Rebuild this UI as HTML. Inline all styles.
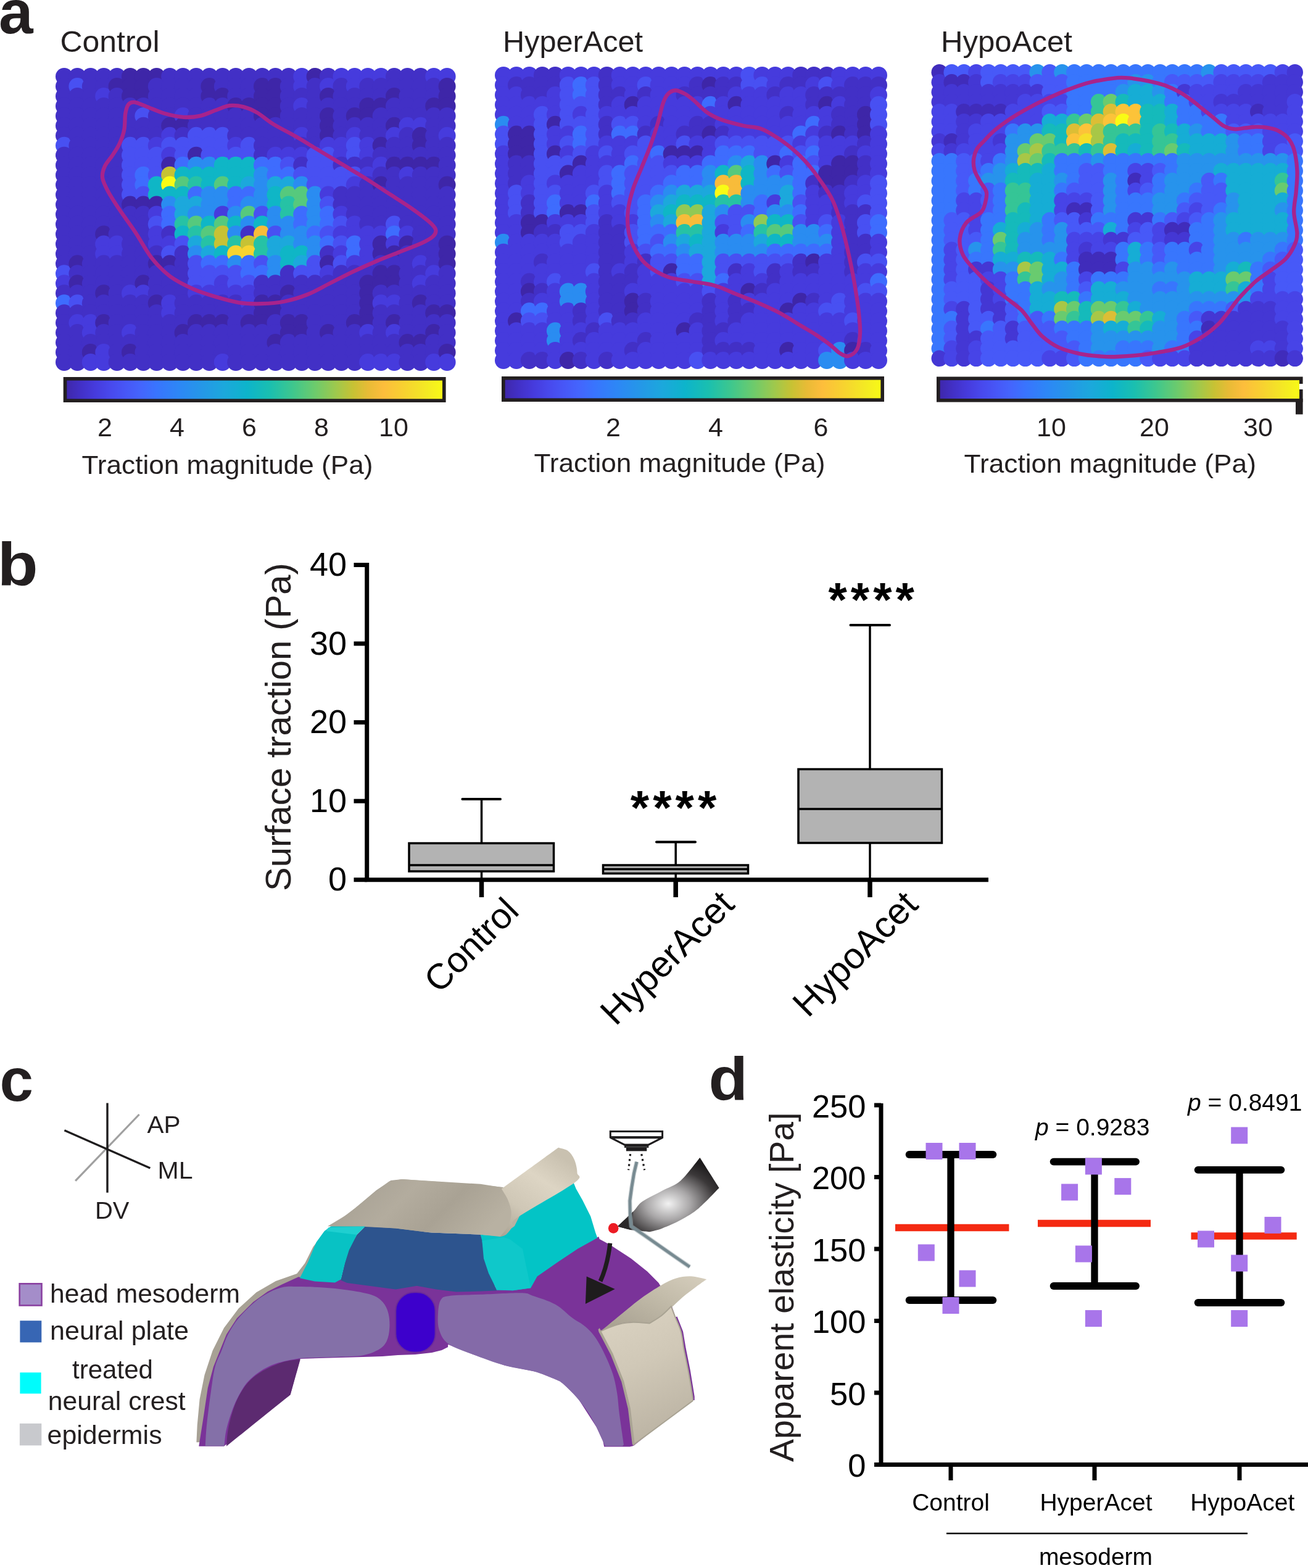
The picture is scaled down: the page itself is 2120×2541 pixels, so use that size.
<!DOCTYPE html>
<html><head><meta charset="utf-8"><title>Figure</title>
<style>
html,body{margin:0;padding:0;background:#fff;}
body{width:2120px;height:2541px;overflow:hidden;}
svg{display:block;}
text{font-family:'Liberation Sans', Arial, Helvetica, sans-serif;}
</style></head><body>
<svg width="2120" height="2541" viewBox="0 0 2120 2541">
<rect width="2120" height="2541" fill="#fff"/>
<text x="-2" y="54" font-size="100" text-anchor="start" font-weight="bold" fill="#231f20" >a</text>
<text x="0" y="0" font-size="98" text-anchor="start" font-weight="bold" fill="#231f20" transform="translate(-4.3,948) scale(1.1,1)">b</text>
<text x="-0.5" y="1783.5" font-size="98" text-anchor="start" font-weight="bold" fill="#231f20" >c</text>
<text x="0" y="0" font-size="98" text-anchor="start" font-weight="bold" fill="#231f20" transform="translate(1148.5,1782.2) scale(1.06,1)">d</text>
<circle cx="104.0" cy="124.0" r="14.0" fill="#4230c6"/>
<circle cx="104.0" cy="140.0" r="14.0" fill="#4230c6"/>
<circle cx="104.0" cy="155.9" r="14.0" fill="#4230c6"/>
<circle cx="104.0" cy="171.9" r="14.0" fill="#4230c6"/>
<circle cx="104.0" cy="187.9" r="14.0" fill="#4230c6"/>
<circle cx="104.0" cy="203.8" r="14.0" fill="#4230c6"/>
<circle cx="104.0" cy="219.8" r="14.0" fill="#4230c6"/>
<circle cx="104.0" cy="235.8" r="14.0" fill="#4850f2"/>
<circle cx="104.0" cy="251.7" r="14.0" fill="#4230c6"/>
<circle cx="104.0" cy="267.7" r="14.0" fill="#4230c6"/>
<circle cx="104.0" cy="283.7" r="14.0" fill="#4230c6"/>
<circle cx="104.0" cy="299.6" r="14.0" fill="#4230c6"/>
<circle cx="104.0" cy="315.6" r="14.0" fill="#4230c6"/>
<circle cx="104.0" cy="331.6" r="14.0" fill="#4230c6"/>
<circle cx="104.0" cy="347.5" r="14.0" fill="#4230c6"/>
<circle cx="104.0" cy="363.5" r="14.0" fill="#4230c6"/>
<circle cx="104.0" cy="379.4" r="14.0" fill="#4230c6"/>
<circle cx="104.0" cy="395.4" r="14.0" fill="#4230c6"/>
<circle cx="104.0" cy="411.4" r="14.0" fill="#4230c6"/>
<circle cx="104.0" cy="427.3" r="14.0" fill="#4230c6"/>
<circle cx="104.0" cy="443.3" r="14.0" fill="#4850f2"/>
<circle cx="104.0" cy="459.3" r="14.0" fill="#463bdd"/>
<circle cx="104.0" cy="475.2" r="14.0" fill="#4230c6"/>
<circle cx="104.0" cy="491.2" r="14.0" fill="#3e6cfe"/>
<circle cx="104.0" cy="507.2" r="14.0" fill="#4230c6"/>
<circle cx="104.0" cy="523.1" r="14.0" fill="#4230c6"/>
<circle cx="104.0" cy="539.1" r="14.0" fill="#4230c6"/>
<circle cx="104.0" cy="555.1" r="14.0" fill="#4230c6"/>
<circle cx="104.0" cy="571.0" r="14.0" fill="#4230c6"/>
<circle cx="104.0" cy="587.0" r="14.0" fill="#4230c6"/>
<circle cx="125.4" cy="124.0" r="14.0" fill="#4230c6"/>
<circle cx="125.4" cy="140.0" r="14.0" fill="#4850f2"/>
<circle cx="125.4" cy="155.9" r="14.0" fill="#4230c6"/>
<circle cx="125.4" cy="171.9" r="14.0" fill="#4230c6"/>
<circle cx="125.4" cy="187.9" r="14.0" fill="#4230c6"/>
<circle cx="125.4" cy="203.8" r="14.0" fill="#4230c6"/>
<circle cx="125.4" cy="219.8" r="14.0" fill="#4230c6"/>
<circle cx="125.4" cy="235.8" r="14.0" fill="#4230c6"/>
<circle cx="125.4" cy="251.7" r="14.0" fill="#4230c6"/>
<circle cx="125.4" cy="267.7" r="14.0" fill="#4230c6"/>
<circle cx="125.4" cy="283.7" r="14.0" fill="#4230c6"/>
<circle cx="125.4" cy="299.6" r="14.0" fill="#4230c6"/>
<circle cx="125.4" cy="315.6" r="14.0" fill="#4230c6"/>
<circle cx="125.4" cy="331.6" r="14.0" fill="#4230c6"/>
<circle cx="125.4" cy="347.5" r="14.0" fill="#4230c6"/>
<circle cx="125.4" cy="363.5" r="14.0" fill="#4230c6"/>
<circle cx="125.4" cy="379.4" r="14.0" fill="#4230c6"/>
<circle cx="125.4" cy="395.4" r="14.0" fill="#4230c6"/>
<circle cx="125.4" cy="411.4" r="14.0" fill="#4230c6"/>
<circle cx="125.4" cy="427.3" r="14.0" fill="#3e26a8"/>
<circle cx="125.4" cy="443.3" r="14.0" fill="#4230c6"/>
<circle cx="125.4" cy="459.3" r="14.0" fill="#3e26a8"/>
<circle cx="125.4" cy="475.2" r="14.0" fill="#4230c6"/>
<circle cx="125.4" cy="491.2" r="14.0" fill="#4850f2"/>
<circle cx="125.4" cy="507.2" r="14.0" fill="#4230c6"/>
<circle cx="125.4" cy="523.1" r="14.0" fill="#463bdd"/>
<circle cx="125.4" cy="539.1" r="14.0" fill="#4230c6"/>
<circle cx="125.4" cy="555.1" r="14.0" fill="#4230c6"/>
<circle cx="125.4" cy="571.0" r="14.0" fill="#4230c6"/>
<circle cx="125.4" cy="587.0" r="14.0" fill="#4230c6"/>
<circle cx="146.8" cy="124.0" r="14.0" fill="#4230c6"/>
<circle cx="146.8" cy="140.0" r="14.0" fill="#4230c6"/>
<circle cx="146.8" cy="155.9" r="14.0" fill="#4230c6"/>
<circle cx="146.8" cy="171.9" r="14.0" fill="#4230c6"/>
<circle cx="146.8" cy="187.9" r="14.0" fill="#4230c6"/>
<circle cx="146.8" cy="203.8" r="14.0" fill="#4230c6"/>
<circle cx="146.8" cy="219.8" r="14.0" fill="#4230c6"/>
<circle cx="146.8" cy="235.8" r="14.0" fill="#4230c6"/>
<circle cx="146.8" cy="251.7" r="14.0" fill="#4230c6"/>
<circle cx="146.8" cy="267.7" r="14.0" fill="#4230c6"/>
<circle cx="146.8" cy="283.7" r="14.0" fill="#4230c6"/>
<circle cx="146.8" cy="299.6" r="14.0" fill="#4230c6"/>
<circle cx="146.8" cy="315.6" r="14.0" fill="#4230c6"/>
<circle cx="146.8" cy="331.6" r="14.0" fill="#4230c6"/>
<circle cx="146.8" cy="347.5" r="14.0" fill="#4230c6"/>
<circle cx="146.8" cy="363.5" r="14.0" fill="#4230c6"/>
<circle cx="146.8" cy="379.4" r="14.0" fill="#4230c6"/>
<circle cx="146.8" cy="395.4" r="14.0" fill="#4230c6"/>
<circle cx="146.8" cy="411.4" r="14.0" fill="#4230c6"/>
<circle cx="146.8" cy="427.3" r="14.0" fill="#4230c6"/>
<circle cx="146.8" cy="443.3" r="14.0" fill="#4230c6"/>
<circle cx="146.8" cy="459.3" r="14.0" fill="#4230c6"/>
<circle cx="146.8" cy="475.2" r="14.0" fill="#4230c6"/>
<circle cx="146.8" cy="491.2" r="14.0" fill="#4230c6"/>
<circle cx="146.8" cy="507.2" r="14.0" fill="#4230c6"/>
<circle cx="146.8" cy="523.1" r="14.0" fill="#463bdd"/>
<circle cx="146.8" cy="539.1" r="14.0" fill="#463bdd"/>
<circle cx="146.8" cy="555.1" r="14.0" fill="#4230c6"/>
<circle cx="146.8" cy="571.0" r="14.0" fill="#3e26a8"/>
<circle cx="146.8" cy="587.0" r="14.0" fill="#463bdd"/>
<circle cx="168.2" cy="124.0" r="14.0" fill="#4230c6"/>
<circle cx="168.2" cy="140.0" r="14.0" fill="#4230c6"/>
<circle cx="168.2" cy="155.9" r="14.0" fill="#463bdd"/>
<circle cx="168.2" cy="171.9" r="14.0" fill="#4230c6"/>
<circle cx="168.2" cy="187.9" r="14.0" fill="#4230c6"/>
<circle cx="168.2" cy="203.8" r="14.0" fill="#4230c6"/>
<circle cx="168.2" cy="219.8" r="14.0" fill="#4230c6"/>
<circle cx="168.2" cy="235.8" r="14.0" fill="#4230c6"/>
<circle cx="168.2" cy="251.7" r="14.0" fill="#4230c6"/>
<circle cx="168.2" cy="267.7" r="14.0" fill="#4230c6"/>
<circle cx="168.2" cy="283.7" r="14.0" fill="#4230c6"/>
<circle cx="168.2" cy="299.6" r="14.0" fill="#4230c6"/>
<circle cx="168.2" cy="315.6" r="14.0" fill="#4230c6"/>
<circle cx="168.2" cy="331.6" r="14.0" fill="#4230c6"/>
<circle cx="168.2" cy="347.5" r="14.0" fill="#4230c6"/>
<circle cx="168.2" cy="363.5" r="14.0" fill="#4230c6"/>
<circle cx="168.2" cy="379.4" r="14.0" fill="#3e26a8"/>
<circle cx="168.2" cy="395.4" r="14.0" fill="#463bdd"/>
<circle cx="168.2" cy="411.4" r="14.0" fill="#463bdd"/>
<circle cx="168.2" cy="427.3" r="14.0" fill="#4230c6"/>
<circle cx="168.2" cy="443.3" r="14.0" fill="#4230c6"/>
<circle cx="168.2" cy="459.3" r="14.0" fill="#4230c6"/>
<circle cx="168.2" cy="475.2" r="14.0" fill="#3e26a8"/>
<circle cx="168.2" cy="491.2" r="14.0" fill="#4230c6"/>
<circle cx="168.2" cy="507.2" r="14.0" fill="#4230c6"/>
<circle cx="168.2" cy="523.1" r="14.0" fill="#3e26a8"/>
<circle cx="168.2" cy="539.1" r="14.0" fill="#4230c6"/>
<circle cx="168.2" cy="555.1" r="14.0" fill="#4230c6"/>
<circle cx="168.2" cy="571.0" r="14.0" fill="#463bdd"/>
<circle cx="168.2" cy="587.0" r="14.0" fill="#463bdd"/>
<circle cx="189.6" cy="124.0" r="14.0" fill="#4230c6"/>
<circle cx="189.6" cy="140.0" r="14.0" fill="#3e26a8"/>
<circle cx="189.6" cy="155.9" r="14.0" fill="#4230c6"/>
<circle cx="189.6" cy="171.9" r="14.0" fill="#4230c6"/>
<circle cx="189.6" cy="187.9" r="14.0" fill="#4230c6"/>
<circle cx="189.6" cy="203.8" r="14.0" fill="#4230c6"/>
<circle cx="189.6" cy="219.8" r="14.0" fill="#4230c6"/>
<circle cx="189.6" cy="235.8" r="14.0" fill="#4230c6"/>
<circle cx="189.6" cy="251.7" r="14.0" fill="#4230c6"/>
<circle cx="189.6" cy="267.7" r="14.0" fill="#4230c6"/>
<circle cx="189.6" cy="283.7" r="14.0" fill="#4230c6"/>
<circle cx="189.6" cy="299.6" r="14.0" fill="#4230c6"/>
<circle cx="189.6" cy="315.6" r="14.0" fill="#4230c6"/>
<circle cx="189.6" cy="331.6" r="14.0" fill="#4230c6"/>
<circle cx="189.6" cy="347.5" r="14.0" fill="#4230c6"/>
<circle cx="189.6" cy="363.5" r="14.0" fill="#4230c6"/>
<circle cx="189.6" cy="379.4" r="14.0" fill="#4230c6"/>
<circle cx="189.6" cy="395.4" r="14.0" fill="#463bdd"/>
<circle cx="189.6" cy="411.4" r="14.0" fill="#463bdd"/>
<circle cx="189.6" cy="427.3" r="14.0" fill="#4230c6"/>
<circle cx="189.6" cy="443.3" r="14.0" fill="#4230c6"/>
<circle cx="189.6" cy="459.3" r="14.0" fill="#4230c6"/>
<circle cx="189.6" cy="475.2" r="14.0" fill="#4230c6"/>
<circle cx="189.6" cy="491.2" r="14.0" fill="#4230c6"/>
<circle cx="189.6" cy="507.2" r="14.0" fill="#4230c6"/>
<circle cx="189.6" cy="523.1" r="14.0" fill="#4230c6"/>
<circle cx="189.6" cy="539.1" r="14.0" fill="#4230c6"/>
<circle cx="189.6" cy="555.1" r="14.0" fill="#4230c6"/>
<circle cx="189.6" cy="571.0" r="14.0" fill="#4230c6"/>
<circle cx="189.6" cy="587.0" r="14.0" fill="#4230c6"/>
<circle cx="211.0" cy="124.0" r="14.0" fill="#3e26a8"/>
<circle cx="211.0" cy="140.0" r="14.0" fill="#3e26a8"/>
<circle cx="211.0" cy="155.9" r="14.0" fill="#3e26a8"/>
<circle cx="211.0" cy="171.9" r="14.0" fill="#4230c6"/>
<circle cx="211.0" cy="187.9" r="14.0" fill="#4230c6"/>
<circle cx="211.0" cy="203.8" r="14.0" fill="#4230c6"/>
<circle cx="211.0" cy="219.8" r="14.0" fill="#4230c6"/>
<circle cx="211.0" cy="235.8" r="14.0" fill="#4850f2"/>
<circle cx="211.0" cy="251.7" r="14.0" fill="#4850f2"/>
<circle cx="211.0" cy="267.7" r="14.0" fill="#4850f2"/>
<circle cx="211.0" cy="283.7" r="14.0" fill="#4850f2"/>
<circle cx="211.0" cy="299.6" r="14.0" fill="#4850f2"/>
<circle cx="211.0" cy="315.6" r="14.0" fill="#4850f2"/>
<circle cx="211.0" cy="331.6" r="14.0" fill="#3e26a8"/>
<circle cx="211.0" cy="347.5" r="14.0" fill="#4230c6"/>
<circle cx="211.0" cy="363.5" r="14.0" fill="#4230c6"/>
<circle cx="211.0" cy="379.4" r="14.0" fill="#4230c6"/>
<circle cx="211.0" cy="395.4" r="14.0" fill="#4230c6"/>
<circle cx="211.0" cy="411.4" r="14.0" fill="#4230c6"/>
<circle cx="211.0" cy="427.3" r="14.0" fill="#4230c6"/>
<circle cx="211.0" cy="443.3" r="14.0" fill="#4230c6"/>
<circle cx="211.0" cy="459.3" r="14.0" fill="#4230c6"/>
<circle cx="211.0" cy="475.2" r="14.0" fill="#463bdd"/>
<circle cx="211.0" cy="491.2" r="14.0" fill="#4230c6"/>
<circle cx="211.0" cy="507.2" r="14.0" fill="#4230c6"/>
<circle cx="211.0" cy="523.1" r="14.0" fill="#4230c6"/>
<circle cx="211.0" cy="539.1" r="14.0" fill="#463bdd"/>
<circle cx="211.0" cy="555.1" r="14.0" fill="#4230c6"/>
<circle cx="211.0" cy="571.0" r="14.0" fill="#3e26a8"/>
<circle cx="211.0" cy="587.0" r="14.0" fill="#4230c6"/>
<circle cx="232.4" cy="124.0" r="14.0" fill="#3e26a8"/>
<circle cx="232.4" cy="140.0" r="14.0" fill="#3e26a8"/>
<circle cx="232.4" cy="155.9" r="14.0" fill="#3e26a8"/>
<circle cx="232.4" cy="171.9" r="14.0" fill="#4230c6"/>
<circle cx="232.4" cy="187.9" r="14.0" fill="#4850f2"/>
<circle cx="232.4" cy="203.8" r="14.0" fill="#4230c6"/>
<circle cx="232.4" cy="219.8" r="14.0" fill="#4230c6"/>
<circle cx="232.4" cy="235.8" r="14.0" fill="#4850f2"/>
<circle cx="232.4" cy="251.7" r="14.0" fill="#4850f2"/>
<circle cx="232.4" cy="267.7" r="14.0" fill="#4850f2"/>
<circle cx="232.4" cy="283.7" r="14.0" fill="#3e6cfe"/>
<circle cx="232.4" cy="299.6" r="14.0" fill="#3e6cfe"/>
<circle cx="232.4" cy="315.6" r="14.0" fill="#4850f2"/>
<circle cx="232.4" cy="331.6" r="14.0" fill="#3e26a8"/>
<circle cx="232.4" cy="347.5" r="14.0" fill="#4230c6"/>
<circle cx="232.4" cy="363.5" r="14.0" fill="#4230c6"/>
<circle cx="232.4" cy="379.4" r="14.0" fill="#4230c6"/>
<circle cx="232.4" cy="395.4" r="14.0" fill="#4230c6"/>
<circle cx="232.4" cy="411.4" r="14.0" fill="#4230c6"/>
<circle cx="232.4" cy="427.3" r="14.0" fill="#4230c6"/>
<circle cx="232.4" cy="443.3" r="14.0" fill="#4230c6"/>
<circle cx="232.4" cy="459.3" r="14.0" fill="#3e26a8"/>
<circle cx="232.4" cy="475.2" r="14.0" fill="#463bdd"/>
<circle cx="232.4" cy="491.2" r="14.0" fill="#4230c6"/>
<circle cx="232.4" cy="507.2" r="14.0" fill="#4230c6"/>
<circle cx="232.4" cy="523.1" r="14.0" fill="#4230c6"/>
<circle cx="232.4" cy="539.1" r="14.0" fill="#4230c6"/>
<circle cx="232.4" cy="555.1" r="14.0" fill="#4230c6"/>
<circle cx="232.4" cy="571.0" r="14.0" fill="#4230c6"/>
<circle cx="232.4" cy="587.0" r="14.0" fill="#4230c6"/>
<circle cx="253.8" cy="124.0" r="14.0" fill="#3e26a8"/>
<circle cx="253.8" cy="140.0" r="14.0" fill="#4230c6"/>
<circle cx="253.8" cy="155.9" r="14.0" fill="#4230c6"/>
<circle cx="253.8" cy="171.9" r="14.0" fill="#4230c6"/>
<circle cx="253.8" cy="187.9" r="14.0" fill="#4230c6"/>
<circle cx="253.8" cy="203.8" r="14.0" fill="#4230c6"/>
<circle cx="253.8" cy="219.8" r="14.0" fill="#4230c6"/>
<circle cx="253.8" cy="235.8" r="14.0" fill="#463bdd"/>
<circle cx="253.8" cy="251.7" r="14.0" fill="#4850f2"/>
<circle cx="253.8" cy="267.7" r="14.0" fill="#4850f2"/>
<circle cx="253.8" cy="283.7" r="14.0" fill="#4850f2"/>
<circle cx="253.8" cy="299.6" r="14.0" fill="#0fb6c6"/>
<circle cx="253.8" cy="315.6" r="14.0" fill="#0fb6c6"/>
<circle cx="253.8" cy="331.6" r="14.0" fill="#3e26a8"/>
<circle cx="253.8" cy="347.5" r="14.0" fill="#463bdd"/>
<circle cx="253.8" cy="363.5" r="14.0" fill="#4850f2"/>
<circle cx="253.8" cy="379.4" r="14.0" fill="#463bdd"/>
<circle cx="253.8" cy="395.4" r="14.0" fill="#463bdd"/>
<circle cx="253.8" cy="411.4" r="14.0" fill="#4230c6"/>
<circle cx="253.8" cy="427.3" r="14.0" fill="#3e26a8"/>
<circle cx="253.8" cy="443.3" r="14.0" fill="#4230c6"/>
<circle cx="253.8" cy="459.3" r="14.0" fill="#4230c6"/>
<circle cx="253.8" cy="475.2" r="14.0" fill="#4230c6"/>
<circle cx="253.8" cy="491.2" r="14.0" fill="#3e26a8"/>
<circle cx="253.8" cy="507.2" r="14.0" fill="#4230c6"/>
<circle cx="253.8" cy="523.1" r="14.0" fill="#4230c6"/>
<circle cx="253.8" cy="539.1" r="14.0" fill="#4230c6"/>
<circle cx="253.8" cy="555.1" r="14.0" fill="#4230c6"/>
<circle cx="253.8" cy="571.0" r="14.0" fill="#4230c6"/>
<circle cx="253.8" cy="587.0" r="14.0" fill="#4230c6"/>
<circle cx="275.2" cy="124.0" r="14.0" fill="#4230c6"/>
<circle cx="275.2" cy="140.0" r="14.0" fill="#4230c6"/>
<circle cx="275.2" cy="155.9" r="14.0" fill="#4230c6"/>
<circle cx="275.2" cy="171.9" r="14.0" fill="#4230c6"/>
<circle cx="275.2" cy="187.9" r="14.0" fill="#4230c6"/>
<circle cx="275.2" cy="203.8" r="14.0" fill="#3e26a8"/>
<circle cx="275.2" cy="219.8" r="14.0" fill="#463bdd"/>
<circle cx="275.2" cy="235.8" r="14.0" fill="#4850f2"/>
<circle cx="275.2" cy="251.7" r="14.0" fill="#463bdd"/>
<circle cx="275.2" cy="267.7" r="14.0" fill="#3e26a8"/>
<circle cx="275.2" cy="283.7" r="14.0" fill="#c7c234"/>
<circle cx="275.2" cy="299.6" r="14.0" fill="#f9fb15"/>
<circle cx="275.2" cy="315.6" r="14.0" fill="#0fb6c6"/>
<circle cx="275.2" cy="331.6" r="14.0" fill="#2a8cf1"/>
<circle cx="275.2" cy="347.5" r="14.0" fill="#3e6cfe"/>
<circle cx="275.2" cy="363.5" r="14.0" fill="#3e6cfe"/>
<circle cx="275.2" cy="379.4" r="14.0" fill="#4230c6"/>
<circle cx="275.2" cy="395.4" r="14.0" fill="#463bdd"/>
<circle cx="275.2" cy="411.4" r="14.0" fill="#4850f2"/>
<circle cx="275.2" cy="427.3" r="14.0" fill="#3e26a8"/>
<circle cx="275.2" cy="443.3" r="14.0" fill="#4230c6"/>
<circle cx="275.2" cy="459.3" r="14.0" fill="#4230c6"/>
<circle cx="275.2" cy="475.2" r="14.0" fill="#4230c6"/>
<circle cx="275.2" cy="491.2" r="14.0" fill="#463bdd"/>
<circle cx="275.2" cy="507.2" r="14.0" fill="#463bdd"/>
<circle cx="275.2" cy="523.1" r="14.0" fill="#4230c6"/>
<circle cx="275.2" cy="539.1" r="14.0" fill="#4230c6"/>
<circle cx="275.2" cy="555.1" r="14.0" fill="#4230c6"/>
<circle cx="275.2" cy="571.0" r="14.0" fill="#4230c6"/>
<circle cx="275.2" cy="587.0" r="14.0" fill="#4230c6"/>
<circle cx="296.6" cy="124.0" r="14.0" fill="#4230c6"/>
<circle cx="296.6" cy="140.0" r="14.0" fill="#4230c6"/>
<circle cx="296.6" cy="155.9" r="14.0" fill="#4230c6"/>
<circle cx="296.6" cy="171.9" r="14.0" fill="#4230c6"/>
<circle cx="296.6" cy="187.9" r="14.0" fill="#463bdd"/>
<circle cx="296.6" cy="203.8" r="14.0" fill="#3e26a8"/>
<circle cx="296.6" cy="219.8" r="14.0" fill="#4230c6"/>
<circle cx="296.6" cy="235.8" r="14.0" fill="#4850f2"/>
<circle cx="296.6" cy="251.7" r="14.0" fill="#4850f2"/>
<circle cx="296.6" cy="267.7" r="14.0" fill="#3e6cfe"/>
<circle cx="296.6" cy="283.7" r="14.0" fill="#0fb6c6"/>
<circle cx="296.6" cy="299.6" r="14.0" fill="#56c97d"/>
<circle cx="296.6" cy="315.6" r="14.0" fill="#0fb6c6"/>
<circle cx="296.6" cy="331.6" r="14.0" fill="#1ca8dc"/>
<circle cx="296.6" cy="347.5" r="14.0" fill="#1ca8dc"/>
<circle cx="296.6" cy="363.5" r="14.0" fill="#26c2a5"/>
<circle cx="296.6" cy="379.4" r="14.0" fill="#0fb6c6"/>
<circle cx="296.6" cy="395.4" r="14.0" fill="#4850f2"/>
<circle cx="296.6" cy="411.4" r="14.0" fill="#4230c6"/>
<circle cx="296.6" cy="427.3" r="14.0" fill="#4230c6"/>
<circle cx="296.6" cy="443.3" r="14.0" fill="#4230c6"/>
<circle cx="296.6" cy="459.3" r="14.0" fill="#4230c6"/>
<circle cx="296.6" cy="475.2" r="14.0" fill="#4230c6"/>
<circle cx="296.6" cy="491.2" r="14.0" fill="#4230c6"/>
<circle cx="296.6" cy="507.2" r="14.0" fill="#4230c6"/>
<circle cx="296.6" cy="523.1" r="14.0" fill="#4230c6"/>
<circle cx="296.6" cy="539.1" r="14.0" fill="#3e26a8"/>
<circle cx="296.6" cy="555.1" r="14.0" fill="#4230c6"/>
<circle cx="296.6" cy="571.0" r="14.0" fill="#4230c6"/>
<circle cx="296.6" cy="587.0" r="14.0" fill="#4230c6"/>
<circle cx="318.0" cy="124.0" r="14.0" fill="#4230c6"/>
<circle cx="318.0" cy="140.0" r="14.0" fill="#4230c6"/>
<circle cx="318.0" cy="155.9" r="14.0" fill="#4230c6"/>
<circle cx="318.0" cy="171.9" r="14.0" fill="#4230c6"/>
<circle cx="318.0" cy="187.9" r="14.0" fill="#4230c6"/>
<circle cx="318.0" cy="203.8" r="14.0" fill="#4230c6"/>
<circle cx="318.0" cy="219.8" r="14.0" fill="#4850f2"/>
<circle cx="318.0" cy="235.8" r="14.0" fill="#4850f2"/>
<circle cx="318.0" cy="251.7" r="14.0" fill="#3e26a8"/>
<circle cx="318.0" cy="267.7" r="14.0" fill="#2a8cf1"/>
<circle cx="318.0" cy="283.7" r="14.0" fill="#0fb6c6"/>
<circle cx="318.0" cy="299.6" r="14.0" fill="#26c2a5"/>
<circle cx="318.0" cy="315.6" r="14.0" fill="#3e6cfe"/>
<circle cx="318.0" cy="331.6" r="14.0" fill="#1ca8dc"/>
<circle cx="318.0" cy="347.5" r="14.0" fill="#2a8cf1"/>
<circle cx="318.0" cy="363.5" r="14.0" fill="#56c97d"/>
<circle cx="318.0" cy="379.4" r="14.0" fill="#26c2a5"/>
<circle cx="318.0" cy="395.4" r="14.0" fill="#1ca8dc"/>
<circle cx="318.0" cy="411.4" r="14.0" fill="#2a8cf1"/>
<circle cx="318.0" cy="427.3" r="14.0" fill="#4850f2"/>
<circle cx="318.0" cy="443.3" r="14.0" fill="#4850f2"/>
<circle cx="318.0" cy="459.3" r="14.0" fill="#4850f2"/>
<circle cx="318.0" cy="475.2" r="14.0" fill="#463bdd"/>
<circle cx="318.0" cy="491.2" r="14.0" fill="#4230c6"/>
<circle cx="318.0" cy="507.2" r="14.0" fill="#4230c6"/>
<circle cx="318.0" cy="523.1" r="14.0" fill="#3e26a8"/>
<circle cx="318.0" cy="539.1" r="14.0" fill="#4230c6"/>
<circle cx="318.0" cy="555.1" r="14.0" fill="#4230c6"/>
<circle cx="318.0" cy="571.0" r="14.0" fill="#4230c6"/>
<circle cx="318.0" cy="587.0" r="14.0" fill="#4230c6"/>
<circle cx="339.4" cy="124.0" r="14.0" fill="#4230c6"/>
<circle cx="339.4" cy="140.0" r="14.0" fill="#3e26a8"/>
<circle cx="339.4" cy="155.9" r="14.0" fill="#3e26a8"/>
<circle cx="339.4" cy="171.9" r="14.0" fill="#4230c6"/>
<circle cx="339.4" cy="187.9" r="14.0" fill="#4230c6"/>
<circle cx="339.4" cy="203.8" r="14.0" fill="#4230c6"/>
<circle cx="339.4" cy="219.8" r="14.0" fill="#4850f2"/>
<circle cx="339.4" cy="235.8" r="14.0" fill="#4850f2"/>
<circle cx="339.4" cy="251.7" r="14.0" fill="#4850f2"/>
<circle cx="339.4" cy="267.7" r="14.0" fill="#2a8cf1"/>
<circle cx="339.4" cy="283.7" r="14.0" fill="#0fb6c6"/>
<circle cx="339.4" cy="299.6" r="14.0" fill="#0fb6c6"/>
<circle cx="339.4" cy="315.6" r="14.0" fill="#2a8cf1"/>
<circle cx="339.4" cy="331.6" r="14.0" fill="#2a8cf1"/>
<circle cx="339.4" cy="347.5" r="14.0" fill="#2a8cf1"/>
<circle cx="339.4" cy="363.5" r="14.0" fill="#0fb6c6"/>
<circle cx="339.4" cy="379.4" r="14.0" fill="#56c97d"/>
<circle cx="339.4" cy="395.4" r="14.0" fill="#26c2a5"/>
<circle cx="339.4" cy="411.4" r="14.0" fill="#1ca8dc"/>
<circle cx="339.4" cy="427.3" r="14.0" fill="#3e6cfe"/>
<circle cx="339.4" cy="443.3" r="14.0" fill="#4850f2"/>
<circle cx="339.4" cy="459.3" r="14.0" fill="#4850f2"/>
<circle cx="339.4" cy="475.2" r="14.0" fill="#463bdd"/>
<circle cx="339.4" cy="491.2" r="14.0" fill="#4230c6"/>
<circle cx="339.4" cy="507.2" r="14.0" fill="#4230c6"/>
<circle cx="339.4" cy="523.1" r="14.0" fill="#3e26a8"/>
<circle cx="339.4" cy="539.1" r="14.0" fill="#4230c6"/>
<circle cx="339.4" cy="555.1" r="14.0" fill="#4230c6"/>
<circle cx="339.4" cy="571.0" r="14.0" fill="#4230c6"/>
<circle cx="339.4" cy="587.0" r="14.0" fill="#4230c6"/>
<circle cx="360.8" cy="124.0" r="14.0" fill="#4230c6"/>
<circle cx="360.8" cy="140.0" r="14.0" fill="#4230c6"/>
<circle cx="360.8" cy="155.9" r="14.0" fill="#3e26a8"/>
<circle cx="360.8" cy="171.9" r="14.0" fill="#4230c6"/>
<circle cx="360.8" cy="187.9" r="14.0" fill="#4230c6"/>
<circle cx="360.8" cy="203.8" r="14.0" fill="#4230c6"/>
<circle cx="360.8" cy="219.8" r="14.0" fill="#4850f2"/>
<circle cx="360.8" cy="235.8" r="14.0" fill="#4850f2"/>
<circle cx="360.8" cy="251.7" r="14.0" fill="#4850f2"/>
<circle cx="360.8" cy="267.7" r="14.0" fill="#0fb6c6"/>
<circle cx="360.8" cy="283.7" r="14.0" fill="#0fb6c6"/>
<circle cx="360.8" cy="299.6" r="14.0" fill="#56c97d"/>
<circle cx="360.8" cy="315.6" r="14.0" fill="#2a8cf1"/>
<circle cx="360.8" cy="331.6" r="14.0" fill="#2a8cf1"/>
<circle cx="360.8" cy="347.5" r="14.0" fill="#463bdd"/>
<circle cx="360.8" cy="363.5" r="14.0" fill="#56c97d"/>
<circle cx="360.8" cy="379.4" r="14.0" fill="#c7c234"/>
<circle cx="360.8" cy="395.4" r="14.0" fill="#c7c234"/>
<circle cx="360.8" cy="411.4" r="14.0" fill="#0fb6c6"/>
<circle cx="360.8" cy="427.3" r="14.0" fill="#3e6cfe"/>
<circle cx="360.8" cy="443.3" r="14.0" fill="#4850f2"/>
<circle cx="360.8" cy="459.3" r="14.0" fill="#463bdd"/>
<circle cx="360.8" cy="475.2" r="14.0" fill="#463bdd"/>
<circle cx="360.8" cy="491.2" r="14.0" fill="#4230c6"/>
<circle cx="360.8" cy="507.2" r="14.0" fill="#4230c6"/>
<circle cx="360.8" cy="523.1" r="14.0" fill="#3e26a8"/>
<circle cx="360.8" cy="539.1" r="14.0" fill="#4230c6"/>
<circle cx="360.8" cy="555.1" r="14.0" fill="#4230c6"/>
<circle cx="360.8" cy="571.0" r="14.0" fill="#4230c6"/>
<circle cx="360.8" cy="587.0" r="14.0" fill="#463bdd"/>
<circle cx="382.2" cy="124.0" r="14.0" fill="#4230c6"/>
<circle cx="382.2" cy="140.0" r="14.0" fill="#4230c6"/>
<circle cx="382.2" cy="155.9" r="14.0" fill="#4230c6"/>
<circle cx="382.2" cy="171.9" r="14.0" fill="#3e26a8"/>
<circle cx="382.2" cy="187.9" r="14.0" fill="#4230c6"/>
<circle cx="382.2" cy="203.8" r="14.0" fill="#4230c6"/>
<circle cx="382.2" cy="219.8" r="14.0" fill="#4230c6"/>
<circle cx="382.2" cy="235.8" r="14.0" fill="#463bdd"/>
<circle cx="382.2" cy="251.7" r="14.0" fill="#4850f2"/>
<circle cx="382.2" cy="267.7" r="14.0" fill="#0fb6c6"/>
<circle cx="382.2" cy="283.7" r="14.0" fill="#0fb6c6"/>
<circle cx="382.2" cy="299.6" r="14.0" fill="#0fb6c6"/>
<circle cx="382.2" cy="315.6" r="14.0" fill="#3e6cfe"/>
<circle cx="382.2" cy="331.6" r="14.0" fill="#3e6cfe"/>
<circle cx="382.2" cy="347.5" r="14.0" fill="#2a8cf1"/>
<circle cx="382.2" cy="363.5" r="14.0" fill="#0fb6c6"/>
<circle cx="382.2" cy="379.4" r="14.0" fill="#2a8cf1"/>
<circle cx="382.2" cy="395.4" r="14.0" fill="#26c2a5"/>
<circle cx="382.2" cy="411.4" r="14.0" fill="#f7d42f"/>
<circle cx="382.2" cy="427.3" r="14.0" fill="#2a8cf1"/>
<circle cx="382.2" cy="443.3" r="14.0" fill="#4850f2"/>
<circle cx="382.2" cy="459.3" r="14.0" fill="#4850f2"/>
<circle cx="382.2" cy="475.2" r="14.0" fill="#463bdd"/>
<circle cx="382.2" cy="491.2" r="14.0" fill="#4230c6"/>
<circle cx="382.2" cy="507.2" r="14.0" fill="#4230c6"/>
<circle cx="382.2" cy="523.1" r="14.0" fill="#4230c6"/>
<circle cx="382.2" cy="539.1" r="14.0" fill="#4230c6"/>
<circle cx="382.2" cy="555.1" r="14.0" fill="#4230c6"/>
<circle cx="382.2" cy="571.0" r="14.0" fill="#4230c6"/>
<circle cx="382.2" cy="587.0" r="14.0" fill="#4230c6"/>
<circle cx="403.6" cy="124.0" r="14.0" fill="#4230c6"/>
<circle cx="403.6" cy="140.0" r="14.0" fill="#4230c6"/>
<circle cx="403.6" cy="155.9" r="14.0" fill="#4230c6"/>
<circle cx="403.6" cy="171.9" r="14.0" fill="#3e26a8"/>
<circle cx="403.6" cy="187.9" r="14.0" fill="#4230c6"/>
<circle cx="403.6" cy="203.8" r="14.0" fill="#4230c6"/>
<circle cx="403.6" cy="219.8" r="14.0" fill="#4230c6"/>
<circle cx="403.6" cy="235.8" r="14.0" fill="#4850f2"/>
<circle cx="403.6" cy="251.7" r="14.0" fill="#4850f2"/>
<circle cx="403.6" cy="267.7" r="14.0" fill="#0fb6c6"/>
<circle cx="403.6" cy="283.7" r="14.0" fill="#0fb6c6"/>
<circle cx="403.6" cy="299.6" r="14.0" fill="#1ca8dc"/>
<circle cx="403.6" cy="315.6" r="14.0" fill="#3e6cfe"/>
<circle cx="403.6" cy="331.6" r="14.0" fill="#2a8cf1"/>
<circle cx="403.6" cy="347.5" r="14.0" fill="#56c97d"/>
<circle cx="403.6" cy="363.5" r="14.0" fill="#2a8cf1"/>
<circle cx="403.6" cy="379.4" r="14.0" fill="#4230c6"/>
<circle cx="403.6" cy="395.4" r="14.0" fill="#c7c234"/>
<circle cx="403.6" cy="411.4" r="14.0" fill="#f7d42f"/>
<circle cx="403.6" cy="427.3" r="14.0" fill="#3e6cfe"/>
<circle cx="403.6" cy="443.3" r="14.0" fill="#3e6cfe"/>
<circle cx="403.6" cy="459.3" r="14.0" fill="#4850f2"/>
<circle cx="403.6" cy="475.2" r="14.0" fill="#463bdd"/>
<circle cx="403.6" cy="491.2" r="14.0" fill="#463bdd"/>
<circle cx="403.6" cy="507.2" r="14.0" fill="#4230c6"/>
<circle cx="403.6" cy="523.1" r="14.0" fill="#3e26a8"/>
<circle cx="403.6" cy="539.1" r="14.0" fill="#4230c6"/>
<circle cx="403.6" cy="555.1" r="14.0" fill="#4230c6"/>
<circle cx="403.6" cy="571.0" r="14.0" fill="#4230c6"/>
<circle cx="403.6" cy="587.0" r="14.0" fill="#4230c6"/>
<circle cx="425.0" cy="124.0" r="14.0" fill="#4230c6"/>
<circle cx="425.0" cy="140.0" r="14.0" fill="#3e26a8"/>
<circle cx="425.0" cy="155.9" r="14.0" fill="#3e26a8"/>
<circle cx="425.0" cy="171.9" r="14.0" fill="#3e26a8"/>
<circle cx="425.0" cy="187.9" r="14.0" fill="#3e26a8"/>
<circle cx="425.0" cy="203.8" r="14.0" fill="#4230c6"/>
<circle cx="425.0" cy="219.8" r="14.0" fill="#4230c6"/>
<circle cx="425.0" cy="235.8" r="14.0" fill="#4230c6"/>
<circle cx="425.0" cy="251.7" r="14.0" fill="#4230c6"/>
<circle cx="425.0" cy="267.7" r="14.0" fill="#3e6cfe"/>
<circle cx="425.0" cy="283.7" r="14.0" fill="#2a8cf1"/>
<circle cx="425.0" cy="299.6" r="14.0" fill="#2a8cf1"/>
<circle cx="425.0" cy="315.6" r="14.0" fill="#2a8cf1"/>
<circle cx="425.0" cy="331.6" r="14.0" fill="#2a8cf1"/>
<circle cx="425.0" cy="347.5" r="14.0" fill="#4850f2"/>
<circle cx="425.0" cy="363.5" r="14.0" fill="#0fb6c6"/>
<circle cx="425.0" cy="379.4" r="14.0" fill="#f8bc3a"/>
<circle cx="425.0" cy="395.4" r="14.0" fill="#26c2a5"/>
<circle cx="425.0" cy="411.4" r="14.0" fill="#26c2a5"/>
<circle cx="425.0" cy="427.3" r="14.0" fill="#4850f2"/>
<circle cx="425.0" cy="443.3" r="14.0" fill="#3e6cfe"/>
<circle cx="425.0" cy="459.3" r="14.0" fill="#4230c6"/>
<circle cx="425.0" cy="475.2" r="14.0" fill="#4230c6"/>
<circle cx="425.0" cy="491.2" r="14.0" fill="#3e26a8"/>
<circle cx="425.0" cy="507.2" r="14.0" fill="#3e26a8"/>
<circle cx="425.0" cy="523.1" r="14.0" fill="#3e26a8"/>
<circle cx="425.0" cy="539.1" r="14.0" fill="#4230c6"/>
<circle cx="425.0" cy="555.1" r="14.0" fill="#4230c6"/>
<circle cx="425.0" cy="571.0" r="14.0" fill="#4230c6"/>
<circle cx="425.0" cy="587.0" r="14.0" fill="#4230c6"/>
<circle cx="446.4" cy="124.0" r="14.0" fill="#4230c6"/>
<circle cx="446.4" cy="140.0" r="14.0" fill="#3e26a8"/>
<circle cx="446.4" cy="155.9" r="14.0" fill="#3e26a8"/>
<circle cx="446.4" cy="171.9" r="14.0" fill="#3e26a8"/>
<circle cx="446.4" cy="187.9" r="14.0" fill="#3e26a8"/>
<circle cx="446.4" cy="203.8" r="14.0" fill="#4230c6"/>
<circle cx="446.4" cy="219.8" r="14.0" fill="#4230c6"/>
<circle cx="446.4" cy="235.8" r="14.0" fill="#4230c6"/>
<circle cx="446.4" cy="251.7" r="14.0" fill="#463bdd"/>
<circle cx="446.4" cy="267.7" r="14.0" fill="#3e6cfe"/>
<circle cx="446.4" cy="283.7" r="14.0" fill="#3e6cfe"/>
<circle cx="446.4" cy="299.6" r="14.0" fill="#1ca8dc"/>
<circle cx="446.4" cy="315.6" r="14.0" fill="#0fb6c6"/>
<circle cx="446.4" cy="331.6" r="14.0" fill="#0fb6c6"/>
<circle cx="446.4" cy="347.5" r="14.0" fill="#2a8cf1"/>
<circle cx="446.4" cy="363.5" r="14.0" fill="#2a8cf1"/>
<circle cx="446.4" cy="379.4" r="14.0" fill="#4850f2"/>
<circle cx="446.4" cy="395.4" r="14.0" fill="#1ca8dc"/>
<circle cx="446.4" cy="411.4" r="14.0" fill="#1ca8dc"/>
<circle cx="446.4" cy="427.3" r="14.0" fill="#2a8cf1"/>
<circle cx="446.4" cy="443.3" r="14.0" fill="#2a8cf1"/>
<circle cx="446.4" cy="459.3" r="14.0" fill="#4230c6"/>
<circle cx="446.4" cy="475.2" r="14.0" fill="#4230c6"/>
<circle cx="446.4" cy="491.2" r="14.0" fill="#3e26a8"/>
<circle cx="446.4" cy="507.2" r="14.0" fill="#3e26a8"/>
<circle cx="446.4" cy="523.1" r="14.0" fill="#4230c6"/>
<circle cx="446.4" cy="539.1" r="14.0" fill="#4230c6"/>
<circle cx="446.4" cy="555.1" r="14.0" fill="#3e26a8"/>
<circle cx="446.4" cy="571.0" r="14.0" fill="#4230c6"/>
<circle cx="446.4" cy="587.0" r="14.0" fill="#4230c6"/>
<circle cx="467.8" cy="124.0" r="14.0" fill="#4230c6"/>
<circle cx="467.8" cy="140.0" r="14.0" fill="#4230c6"/>
<circle cx="467.8" cy="155.9" r="14.0" fill="#4230c6"/>
<circle cx="467.8" cy="171.9" r="14.0" fill="#4230c6"/>
<circle cx="467.8" cy="187.9" r="14.0" fill="#4230c6"/>
<circle cx="467.8" cy="203.8" r="14.0" fill="#4230c6"/>
<circle cx="467.8" cy="219.8" r="14.0" fill="#4230c6"/>
<circle cx="467.8" cy="235.8" r="14.0" fill="#4230c6"/>
<circle cx="467.8" cy="251.7" r="14.0" fill="#463bdd"/>
<circle cx="467.8" cy="267.7" r="14.0" fill="#4850f2"/>
<circle cx="467.8" cy="283.7" r="14.0" fill="#3e6cfe"/>
<circle cx="467.8" cy="299.6" r="14.0" fill="#1ca8dc"/>
<circle cx="467.8" cy="315.6" r="14.0" fill="#56c97d"/>
<circle cx="467.8" cy="331.6" r="14.0" fill="#26c2a5"/>
<circle cx="467.8" cy="347.5" r="14.0" fill="#26c2a5"/>
<circle cx="467.8" cy="363.5" r="14.0" fill="#2a8cf1"/>
<circle cx="467.8" cy="379.4" r="14.0" fill="#2a8cf1"/>
<circle cx="467.8" cy="395.4" r="14.0" fill="#1ca8dc"/>
<circle cx="467.8" cy="411.4" r="14.0" fill="#0fb6c6"/>
<circle cx="467.8" cy="427.3" r="14.0" fill="#0fb6c6"/>
<circle cx="467.8" cy="443.3" r="14.0" fill="#4230c6"/>
<circle cx="467.8" cy="459.3" r="14.0" fill="#4230c6"/>
<circle cx="467.8" cy="475.2" r="14.0" fill="#3e26a8"/>
<circle cx="467.8" cy="491.2" r="14.0" fill="#4230c6"/>
<circle cx="467.8" cy="507.2" r="14.0" fill="#4230c6"/>
<circle cx="467.8" cy="523.1" r="14.0" fill="#3e26a8"/>
<circle cx="467.8" cy="539.1" r="14.0" fill="#3e26a8"/>
<circle cx="467.8" cy="555.1" r="14.0" fill="#4230c6"/>
<circle cx="467.8" cy="571.0" r="14.0" fill="#4230c6"/>
<circle cx="467.8" cy="587.0" r="14.0" fill="#4230c6"/>
<circle cx="489.2" cy="124.0" r="14.0" fill="#463bdd"/>
<circle cx="489.2" cy="140.0" r="14.0" fill="#463bdd"/>
<circle cx="489.2" cy="155.9" r="14.0" fill="#4230c6"/>
<circle cx="489.2" cy="171.9" r="14.0" fill="#463bdd"/>
<circle cx="489.2" cy="187.9" r="14.0" fill="#4230c6"/>
<circle cx="489.2" cy="203.8" r="14.0" fill="#4230c6"/>
<circle cx="489.2" cy="219.8" r="14.0" fill="#463bdd"/>
<circle cx="489.2" cy="235.8" r="14.0" fill="#4230c6"/>
<circle cx="489.2" cy="251.7" r="14.0" fill="#463bdd"/>
<circle cx="489.2" cy="267.7" r="14.0" fill="#4230c6"/>
<circle cx="489.2" cy="283.7" r="14.0" fill="#4850f2"/>
<circle cx="489.2" cy="299.6" r="14.0" fill="#2a8cf1"/>
<circle cx="489.2" cy="315.6" r="14.0" fill="#56c97d"/>
<circle cx="489.2" cy="331.6" r="14.0" fill="#56c97d"/>
<circle cx="489.2" cy="347.5" r="14.0" fill="#3e6cfe"/>
<circle cx="489.2" cy="363.5" r="14.0" fill="#3e6cfe"/>
<circle cx="489.2" cy="379.4" r="14.0" fill="#2a8cf1"/>
<circle cx="489.2" cy="395.4" r="14.0" fill="#2a8cf1"/>
<circle cx="489.2" cy="411.4" r="14.0" fill="#0fb6c6"/>
<circle cx="489.2" cy="427.3" r="14.0" fill="#1ca8dc"/>
<circle cx="489.2" cy="443.3" r="14.0" fill="#4850f2"/>
<circle cx="489.2" cy="459.3" r="14.0" fill="#4230c6"/>
<circle cx="489.2" cy="475.2" r="14.0" fill="#4230c6"/>
<circle cx="489.2" cy="491.2" r="14.0" fill="#4230c6"/>
<circle cx="489.2" cy="507.2" r="14.0" fill="#4230c6"/>
<circle cx="489.2" cy="523.1" r="14.0" fill="#3e26a8"/>
<circle cx="489.2" cy="539.1" r="14.0" fill="#3e26a8"/>
<circle cx="489.2" cy="555.1" r="14.0" fill="#4230c6"/>
<circle cx="489.2" cy="571.0" r="14.0" fill="#4230c6"/>
<circle cx="489.2" cy="587.0" r="14.0" fill="#4230c6"/>
<circle cx="510.6" cy="124.0" r="14.0" fill="#3e26a8"/>
<circle cx="510.6" cy="140.0" r="14.0" fill="#4230c6"/>
<circle cx="510.6" cy="155.9" r="14.0" fill="#4230c6"/>
<circle cx="510.6" cy="171.9" r="14.0" fill="#4230c6"/>
<circle cx="510.6" cy="187.9" r="14.0" fill="#4230c6"/>
<circle cx="510.6" cy="203.8" r="14.0" fill="#4230c6"/>
<circle cx="510.6" cy="219.8" r="14.0" fill="#4230c6"/>
<circle cx="510.6" cy="235.8" r="14.0" fill="#4230c6"/>
<circle cx="510.6" cy="251.7" r="14.0" fill="#4850f2"/>
<circle cx="510.6" cy="267.7" r="14.0" fill="#4850f2"/>
<circle cx="510.6" cy="283.7" r="14.0" fill="#4850f2"/>
<circle cx="510.6" cy="299.6" r="14.0" fill="#4850f2"/>
<circle cx="510.6" cy="315.6" r="14.0" fill="#2a8cf1"/>
<circle cx="510.6" cy="331.6" r="14.0" fill="#2a8cf1"/>
<circle cx="510.6" cy="347.5" r="14.0" fill="#2a8cf1"/>
<circle cx="510.6" cy="363.5" r="14.0" fill="#2a8cf1"/>
<circle cx="510.6" cy="379.4" r="14.0" fill="#3e6cfe"/>
<circle cx="510.6" cy="395.4" r="14.0" fill="#2a8cf1"/>
<circle cx="510.6" cy="411.4" r="14.0" fill="#2a8cf1"/>
<circle cx="510.6" cy="427.3" r="14.0" fill="#4850f2"/>
<circle cx="510.6" cy="443.3" r="14.0" fill="#4850f2"/>
<circle cx="510.6" cy="459.3" r="14.0" fill="#4230c6"/>
<circle cx="510.6" cy="475.2" r="14.0" fill="#4230c6"/>
<circle cx="510.6" cy="491.2" r="14.0" fill="#4230c6"/>
<circle cx="510.6" cy="507.2" r="14.0" fill="#4230c6"/>
<circle cx="510.6" cy="523.1" r="14.0" fill="#4230c6"/>
<circle cx="510.6" cy="539.1" r="14.0" fill="#4230c6"/>
<circle cx="510.6" cy="555.1" r="14.0" fill="#4230c6"/>
<circle cx="510.6" cy="571.0" r="14.0" fill="#4230c6"/>
<circle cx="510.6" cy="587.0" r="14.0" fill="#4230c6"/>
<circle cx="532.0" cy="124.0" r="14.0" fill="#4230c6"/>
<circle cx="532.0" cy="140.0" r="14.0" fill="#463bdd"/>
<circle cx="532.0" cy="155.9" r="14.0" fill="#3e26a8"/>
<circle cx="532.0" cy="171.9" r="14.0" fill="#4230c6"/>
<circle cx="532.0" cy="187.9" r="14.0" fill="#3e26a8"/>
<circle cx="532.0" cy="203.8" r="14.0" fill="#3e26a8"/>
<circle cx="532.0" cy="219.8" r="14.0" fill="#3e26a8"/>
<circle cx="532.0" cy="235.8" r="14.0" fill="#463bdd"/>
<circle cx="532.0" cy="251.7" r="14.0" fill="#4850f2"/>
<circle cx="532.0" cy="267.7" r="14.0" fill="#4850f2"/>
<circle cx="532.0" cy="283.7" r="14.0" fill="#4850f2"/>
<circle cx="532.0" cy="299.6" r="14.0" fill="#4850f2"/>
<circle cx="532.0" cy="315.6" r="14.0" fill="#463bdd"/>
<circle cx="532.0" cy="331.6" r="14.0" fill="#4850f2"/>
<circle cx="532.0" cy="347.5" r="14.0" fill="#3e6cfe"/>
<circle cx="532.0" cy="363.5" r="14.0" fill="#3e6cfe"/>
<circle cx="532.0" cy="379.4" r="14.0" fill="#4850f2"/>
<circle cx="532.0" cy="395.4" r="14.0" fill="#3e6cfe"/>
<circle cx="532.0" cy="411.4" r="14.0" fill="#4230c6"/>
<circle cx="532.0" cy="427.3" r="14.0" fill="#3e26a8"/>
<circle cx="532.0" cy="443.3" r="14.0" fill="#463bdd"/>
<circle cx="532.0" cy="459.3" r="14.0" fill="#4230c6"/>
<circle cx="532.0" cy="475.2" r="14.0" fill="#4230c6"/>
<circle cx="532.0" cy="491.2" r="14.0" fill="#4230c6"/>
<circle cx="532.0" cy="507.2" r="14.0" fill="#4230c6"/>
<circle cx="532.0" cy="523.1" r="14.0" fill="#4230c6"/>
<circle cx="532.0" cy="539.1" r="14.0" fill="#3e26a8"/>
<circle cx="532.0" cy="555.1" r="14.0" fill="#4230c6"/>
<circle cx="532.0" cy="571.0" r="14.0" fill="#4230c6"/>
<circle cx="532.0" cy="587.0" r="14.0" fill="#4230c6"/>
<circle cx="553.4" cy="124.0" r="14.0" fill="#463bdd"/>
<circle cx="553.4" cy="140.0" r="14.0" fill="#4230c6"/>
<circle cx="553.4" cy="155.9" r="14.0" fill="#4230c6"/>
<circle cx="553.4" cy="171.9" r="14.0" fill="#4230c6"/>
<circle cx="553.4" cy="187.9" r="14.0" fill="#4230c6"/>
<circle cx="553.4" cy="203.8" r="14.0" fill="#4230c6"/>
<circle cx="553.4" cy="219.8" r="14.0" fill="#4230c6"/>
<circle cx="553.4" cy="235.8" r="14.0" fill="#463bdd"/>
<circle cx="553.4" cy="251.7" r="14.0" fill="#463bdd"/>
<circle cx="553.4" cy="267.7" r="14.0" fill="#4230c6"/>
<circle cx="553.4" cy="283.7" r="14.0" fill="#4850f2"/>
<circle cx="553.4" cy="299.6" r="14.0" fill="#4850f2"/>
<circle cx="553.4" cy="315.6" r="14.0" fill="#4230c6"/>
<circle cx="553.4" cy="331.6" r="14.0" fill="#4230c6"/>
<circle cx="553.4" cy="347.5" r="14.0" fill="#463bdd"/>
<circle cx="553.4" cy="363.5" r="14.0" fill="#4850f2"/>
<circle cx="553.4" cy="379.4" r="14.0" fill="#463bdd"/>
<circle cx="553.4" cy="395.4" r="14.0" fill="#4850f2"/>
<circle cx="553.4" cy="411.4" r="14.0" fill="#463bdd"/>
<circle cx="553.4" cy="427.3" r="14.0" fill="#4850f2"/>
<circle cx="553.4" cy="443.3" r="14.0" fill="#4230c6"/>
<circle cx="553.4" cy="459.3" r="14.0" fill="#4230c6"/>
<circle cx="553.4" cy="475.2" r="14.0" fill="#4230c6"/>
<circle cx="553.4" cy="491.2" r="14.0" fill="#4230c6"/>
<circle cx="553.4" cy="507.2" r="14.0" fill="#4230c6"/>
<circle cx="553.4" cy="523.1" r="14.0" fill="#4230c6"/>
<circle cx="553.4" cy="539.1" r="14.0" fill="#4230c6"/>
<circle cx="553.4" cy="555.1" r="14.0" fill="#4230c6"/>
<circle cx="553.4" cy="571.0" r="14.0" fill="#4230c6"/>
<circle cx="553.4" cy="587.0" r="14.0" fill="#4230c6"/>
<circle cx="574.8" cy="124.0" r="14.0" fill="#463bdd"/>
<circle cx="574.8" cy="140.0" r="14.0" fill="#463bdd"/>
<circle cx="574.8" cy="155.9" r="14.0" fill="#4230c6"/>
<circle cx="574.8" cy="171.9" r="14.0" fill="#4230c6"/>
<circle cx="574.8" cy="187.9" r="14.0" fill="#3e26a8"/>
<circle cx="574.8" cy="203.8" r="14.0" fill="#4230c6"/>
<circle cx="574.8" cy="219.8" r="14.0" fill="#463bdd"/>
<circle cx="574.8" cy="235.8" r="14.0" fill="#4850f2"/>
<circle cx="574.8" cy="251.7" r="14.0" fill="#4850f2"/>
<circle cx="574.8" cy="267.7" r="14.0" fill="#4230c6"/>
<circle cx="574.8" cy="283.7" r="14.0" fill="#4850f2"/>
<circle cx="574.8" cy="299.6" r="14.0" fill="#463bdd"/>
<circle cx="574.8" cy="315.6" r="14.0" fill="#4230c6"/>
<circle cx="574.8" cy="331.6" r="14.0" fill="#4230c6"/>
<circle cx="574.8" cy="347.5" r="14.0" fill="#4230c6"/>
<circle cx="574.8" cy="363.5" r="14.0" fill="#463bdd"/>
<circle cx="574.8" cy="379.4" r="14.0" fill="#463bdd"/>
<circle cx="574.8" cy="395.4" r="14.0" fill="#3e6cfe"/>
<circle cx="574.8" cy="411.4" r="14.0" fill="#3e6cfe"/>
<circle cx="574.8" cy="427.3" r="14.0" fill="#463bdd"/>
<circle cx="574.8" cy="443.3" r="14.0" fill="#4230c6"/>
<circle cx="574.8" cy="459.3" r="14.0" fill="#4230c6"/>
<circle cx="574.8" cy="475.2" r="14.0" fill="#4230c6"/>
<circle cx="574.8" cy="491.2" r="14.0" fill="#4230c6"/>
<circle cx="574.8" cy="507.2" r="14.0" fill="#4230c6"/>
<circle cx="574.8" cy="523.1" r="14.0" fill="#3e26a8"/>
<circle cx="574.8" cy="539.1" r="14.0" fill="#4230c6"/>
<circle cx="574.8" cy="555.1" r="14.0" fill="#4230c6"/>
<circle cx="574.8" cy="571.0" r="14.0" fill="#4230c6"/>
<circle cx="574.8" cy="587.0" r="14.0" fill="#4230c6"/>
<circle cx="596.2" cy="124.0" r="14.0" fill="#463bdd"/>
<circle cx="596.2" cy="140.0" r="14.0" fill="#4230c6"/>
<circle cx="596.2" cy="155.9" r="14.0" fill="#4230c6"/>
<circle cx="596.2" cy="171.9" r="14.0" fill="#3e26a8"/>
<circle cx="596.2" cy="187.9" r="14.0" fill="#3e26a8"/>
<circle cx="596.2" cy="203.8" r="14.0" fill="#4230c6"/>
<circle cx="596.2" cy="219.8" r="14.0" fill="#4230c6"/>
<circle cx="596.2" cy="235.8" r="14.0" fill="#463bdd"/>
<circle cx="596.2" cy="251.7" r="14.0" fill="#463bdd"/>
<circle cx="596.2" cy="267.7" r="14.0" fill="#4230c6"/>
<circle cx="596.2" cy="283.7" r="14.0" fill="#463bdd"/>
<circle cx="596.2" cy="299.6" r="14.0" fill="#4230c6"/>
<circle cx="596.2" cy="315.6" r="14.0" fill="#4230c6"/>
<circle cx="596.2" cy="331.6" r="14.0" fill="#4230c6"/>
<circle cx="596.2" cy="347.5" r="14.0" fill="#4230c6"/>
<circle cx="596.2" cy="363.5" r="14.0" fill="#4230c6"/>
<circle cx="596.2" cy="379.4" r="14.0" fill="#463bdd"/>
<circle cx="596.2" cy="395.4" r="14.0" fill="#463bdd"/>
<circle cx="596.2" cy="411.4" r="14.0" fill="#463bdd"/>
<circle cx="596.2" cy="427.3" r="14.0" fill="#463bdd"/>
<circle cx="596.2" cy="443.3" r="14.0" fill="#4230c6"/>
<circle cx="596.2" cy="459.3" r="14.0" fill="#3e26a8"/>
<circle cx="596.2" cy="475.2" r="14.0" fill="#3e26a8"/>
<circle cx="596.2" cy="491.2" r="14.0" fill="#3e26a8"/>
<circle cx="596.2" cy="507.2" r="14.0" fill="#3e26a8"/>
<circle cx="596.2" cy="523.1" r="14.0" fill="#3e26a8"/>
<circle cx="596.2" cy="539.1" r="14.0" fill="#463bdd"/>
<circle cx="596.2" cy="555.1" r="14.0" fill="#4230c6"/>
<circle cx="596.2" cy="571.0" r="14.0" fill="#4230c6"/>
<circle cx="596.2" cy="587.0" r="14.0" fill="#463bdd"/>
<circle cx="617.6" cy="124.0" r="14.0" fill="#463bdd"/>
<circle cx="617.6" cy="140.0" r="14.0" fill="#4230c6"/>
<circle cx="617.6" cy="155.9" r="14.0" fill="#4230c6"/>
<circle cx="617.6" cy="171.9" r="14.0" fill="#3e26a8"/>
<circle cx="617.6" cy="187.9" r="14.0" fill="#4230c6"/>
<circle cx="617.6" cy="203.8" r="14.0" fill="#4230c6"/>
<circle cx="617.6" cy="219.8" r="14.0" fill="#4230c6"/>
<circle cx="617.6" cy="235.8" r="14.0" fill="#3e26a8"/>
<circle cx="617.6" cy="251.7" r="14.0" fill="#4230c6"/>
<circle cx="617.6" cy="267.7" r="14.0" fill="#463bdd"/>
<circle cx="617.6" cy="283.7" r="14.0" fill="#4230c6"/>
<circle cx="617.6" cy="299.6" r="14.0" fill="#3e26a8"/>
<circle cx="617.6" cy="315.6" r="14.0" fill="#4230c6"/>
<circle cx="617.6" cy="331.6" r="14.0" fill="#4230c6"/>
<circle cx="617.6" cy="347.5" r="14.0" fill="#4230c6"/>
<circle cx="617.6" cy="363.5" r="14.0" fill="#4230c6"/>
<circle cx="617.6" cy="379.4" r="14.0" fill="#463bdd"/>
<circle cx="617.6" cy="395.4" r="14.0" fill="#3e26a8"/>
<circle cx="617.6" cy="411.4" r="14.0" fill="#3e26a8"/>
<circle cx="617.6" cy="427.3" r="14.0" fill="#4230c6"/>
<circle cx="617.6" cy="443.3" r="14.0" fill="#3e26a8"/>
<circle cx="617.6" cy="459.3" r="14.0" fill="#3e26a8"/>
<circle cx="617.6" cy="475.2" r="14.0" fill="#4230c6"/>
<circle cx="617.6" cy="491.2" r="14.0" fill="#463bdd"/>
<circle cx="617.6" cy="507.2" r="14.0" fill="#4230c6"/>
<circle cx="617.6" cy="523.1" r="14.0" fill="#4230c6"/>
<circle cx="617.6" cy="539.1" r="14.0" fill="#4230c6"/>
<circle cx="617.6" cy="555.1" r="14.0" fill="#4230c6"/>
<circle cx="617.6" cy="571.0" r="14.0" fill="#4230c6"/>
<circle cx="617.6" cy="587.0" r="14.0" fill="#463bdd"/>
<circle cx="639.0" cy="124.0" r="14.0" fill="#4230c6"/>
<circle cx="639.0" cy="140.0" r="14.0" fill="#4230c6"/>
<circle cx="639.0" cy="155.9" r="14.0" fill="#3e26a8"/>
<circle cx="639.0" cy="171.9" r="14.0" fill="#4230c6"/>
<circle cx="639.0" cy="187.9" r="14.0" fill="#4230c6"/>
<circle cx="639.0" cy="203.8" r="14.0" fill="#3e26a8"/>
<circle cx="639.0" cy="219.8" r="14.0" fill="#463bdd"/>
<circle cx="639.0" cy="235.8" r="14.0" fill="#4230c6"/>
<circle cx="639.0" cy="251.7" r="14.0" fill="#4230c6"/>
<circle cx="639.0" cy="267.7" r="14.0" fill="#3e26a8"/>
<circle cx="639.0" cy="283.7" r="14.0" fill="#4230c6"/>
<circle cx="639.0" cy="299.6" r="14.0" fill="#4230c6"/>
<circle cx="639.0" cy="315.6" r="14.0" fill="#4230c6"/>
<circle cx="639.0" cy="331.6" r="14.0" fill="#4230c6"/>
<circle cx="639.0" cy="347.5" r="14.0" fill="#4230c6"/>
<circle cx="639.0" cy="363.5" r="14.0" fill="#4850f2"/>
<circle cx="639.0" cy="379.4" r="14.0" fill="#3e6cfe"/>
<circle cx="639.0" cy="395.4" r="14.0" fill="#463bdd"/>
<circle cx="639.0" cy="411.4" r="14.0" fill="#3e26a8"/>
<circle cx="639.0" cy="427.3" r="14.0" fill="#4230c6"/>
<circle cx="639.0" cy="443.3" r="14.0" fill="#3e26a8"/>
<circle cx="639.0" cy="459.3" r="14.0" fill="#3e26a8"/>
<circle cx="639.0" cy="475.2" r="14.0" fill="#4230c6"/>
<circle cx="639.0" cy="491.2" r="14.0" fill="#463bdd"/>
<circle cx="639.0" cy="507.2" r="14.0" fill="#4230c6"/>
<circle cx="639.0" cy="523.1" r="14.0" fill="#3e26a8"/>
<circle cx="639.0" cy="539.1" r="14.0" fill="#463bdd"/>
<circle cx="639.0" cy="555.1" r="14.0" fill="#4230c6"/>
<circle cx="639.0" cy="571.0" r="14.0" fill="#4230c6"/>
<circle cx="639.0" cy="587.0" r="14.0" fill="#463bdd"/>
<circle cx="660.4" cy="124.0" r="14.0" fill="#4230c6"/>
<circle cx="660.4" cy="140.0" r="14.0" fill="#4230c6"/>
<circle cx="660.4" cy="155.9" r="14.0" fill="#4230c6"/>
<circle cx="660.4" cy="171.9" r="14.0" fill="#4230c6"/>
<circle cx="660.4" cy="187.9" r="14.0" fill="#4230c6"/>
<circle cx="660.4" cy="203.8" r="14.0" fill="#463bdd"/>
<circle cx="660.4" cy="219.8" r="14.0" fill="#4230c6"/>
<circle cx="660.4" cy="235.8" r="14.0" fill="#4230c6"/>
<circle cx="660.4" cy="251.7" r="14.0" fill="#4230c6"/>
<circle cx="660.4" cy="267.7" r="14.0" fill="#3e26a8"/>
<circle cx="660.4" cy="283.7" r="14.0" fill="#463bdd"/>
<circle cx="660.4" cy="299.6" r="14.0" fill="#4230c6"/>
<circle cx="660.4" cy="315.6" r="14.0" fill="#4230c6"/>
<circle cx="660.4" cy="331.6" r="14.0" fill="#4230c6"/>
<circle cx="660.4" cy="347.5" r="14.0" fill="#4230c6"/>
<circle cx="660.4" cy="363.5" r="14.0" fill="#4230c6"/>
<circle cx="660.4" cy="379.4" r="14.0" fill="#463bdd"/>
<circle cx="660.4" cy="395.4" r="14.0" fill="#3e26a8"/>
<circle cx="660.4" cy="411.4" r="14.0" fill="#4230c6"/>
<circle cx="660.4" cy="427.3" r="14.0" fill="#4230c6"/>
<circle cx="660.4" cy="443.3" r="14.0" fill="#4230c6"/>
<circle cx="660.4" cy="459.3" r="14.0" fill="#4230c6"/>
<circle cx="660.4" cy="475.2" r="14.0" fill="#4230c6"/>
<circle cx="660.4" cy="491.2" r="14.0" fill="#4230c6"/>
<circle cx="660.4" cy="507.2" r="14.0" fill="#4230c6"/>
<circle cx="660.4" cy="523.1" r="14.0" fill="#4230c6"/>
<circle cx="660.4" cy="539.1" r="14.0" fill="#4230c6"/>
<circle cx="660.4" cy="555.1" r="14.0" fill="#3e26a8"/>
<circle cx="660.4" cy="571.0" r="14.0" fill="#4230c6"/>
<circle cx="660.4" cy="587.0" r="14.0" fill="#4230c6"/>
<circle cx="681.8" cy="124.0" r="14.0" fill="#4230c6"/>
<circle cx="681.8" cy="140.0" r="14.0" fill="#4230c6"/>
<circle cx="681.8" cy="155.9" r="14.0" fill="#4230c6"/>
<circle cx="681.8" cy="171.9" r="14.0" fill="#4230c6"/>
<circle cx="681.8" cy="187.9" r="14.0" fill="#4230c6"/>
<circle cx="681.8" cy="203.8" r="14.0" fill="#463bdd"/>
<circle cx="681.8" cy="219.8" r="14.0" fill="#3e26a8"/>
<circle cx="681.8" cy="235.8" r="14.0" fill="#3e26a8"/>
<circle cx="681.8" cy="251.7" r="14.0" fill="#4230c6"/>
<circle cx="681.8" cy="267.7" r="14.0" fill="#3e26a8"/>
<circle cx="681.8" cy="283.7" r="14.0" fill="#4230c6"/>
<circle cx="681.8" cy="299.6" r="14.0" fill="#4230c6"/>
<circle cx="681.8" cy="315.6" r="14.0" fill="#4230c6"/>
<circle cx="681.8" cy="331.6" r="14.0" fill="#4230c6"/>
<circle cx="681.8" cy="347.5" r="14.0" fill="#4230c6"/>
<circle cx="681.8" cy="363.5" r="14.0" fill="#4230c6"/>
<circle cx="681.8" cy="379.4" r="14.0" fill="#4230c6"/>
<circle cx="681.8" cy="395.4" r="14.0" fill="#4230c6"/>
<circle cx="681.8" cy="411.4" r="14.0" fill="#4230c6"/>
<circle cx="681.8" cy="427.3" r="14.0" fill="#463bdd"/>
<circle cx="681.8" cy="443.3" r="14.0" fill="#4230c6"/>
<circle cx="681.8" cy="459.3" r="14.0" fill="#463bdd"/>
<circle cx="681.8" cy="475.2" r="14.0" fill="#4230c6"/>
<circle cx="681.8" cy="491.2" r="14.0" fill="#3e26a8"/>
<circle cx="681.8" cy="507.2" r="14.0" fill="#4230c6"/>
<circle cx="681.8" cy="523.1" r="14.0" fill="#4230c6"/>
<circle cx="681.8" cy="539.1" r="14.0" fill="#4230c6"/>
<circle cx="681.8" cy="555.1" r="14.0" fill="#3e26a8"/>
<circle cx="681.8" cy="571.0" r="14.0" fill="#4230c6"/>
<circle cx="681.8" cy="587.0" r="14.0" fill="#4230c6"/>
<circle cx="703.2" cy="124.0" r="14.0" fill="#463bdd"/>
<circle cx="703.2" cy="140.0" r="14.0" fill="#4230c6"/>
<circle cx="703.2" cy="155.9" r="14.0" fill="#4230c6"/>
<circle cx="703.2" cy="171.9" r="14.0" fill="#3e26a8"/>
<circle cx="703.2" cy="187.9" r="14.0" fill="#4230c6"/>
<circle cx="703.2" cy="203.8" r="14.0" fill="#4230c6"/>
<circle cx="703.2" cy="219.8" r="14.0" fill="#4230c6"/>
<circle cx="703.2" cy="235.8" r="14.0" fill="#4230c6"/>
<circle cx="703.2" cy="251.7" r="14.0" fill="#4230c6"/>
<circle cx="703.2" cy="267.7" r="14.0" fill="#3e26a8"/>
<circle cx="703.2" cy="283.7" r="14.0" fill="#4230c6"/>
<circle cx="703.2" cy="299.6" r="14.0" fill="#4230c6"/>
<circle cx="703.2" cy="315.6" r="14.0" fill="#4230c6"/>
<circle cx="703.2" cy="331.6" r="14.0" fill="#4230c6"/>
<circle cx="703.2" cy="347.5" r="14.0" fill="#4230c6"/>
<circle cx="703.2" cy="363.5" r="14.0" fill="#4230c6"/>
<circle cx="703.2" cy="379.4" r="14.0" fill="#4230c6"/>
<circle cx="703.2" cy="395.4" r="14.0" fill="#4230c6"/>
<circle cx="703.2" cy="411.4" r="14.0" fill="#4230c6"/>
<circle cx="703.2" cy="427.3" r="14.0" fill="#4230c6"/>
<circle cx="703.2" cy="443.3" r="14.0" fill="#463bdd"/>
<circle cx="703.2" cy="459.3" r="14.0" fill="#4230c6"/>
<circle cx="703.2" cy="475.2" r="14.0" fill="#4230c6"/>
<circle cx="703.2" cy="491.2" r="14.0" fill="#4230c6"/>
<circle cx="703.2" cy="507.2" r="14.0" fill="#3e26a8"/>
<circle cx="703.2" cy="523.1" r="14.0" fill="#4230c6"/>
<circle cx="703.2" cy="539.1" r="14.0" fill="#3e26a8"/>
<circle cx="703.2" cy="555.1" r="14.0" fill="#4230c6"/>
<circle cx="703.2" cy="571.0" r="14.0" fill="#4230c6"/>
<circle cx="703.2" cy="587.0" r="14.0" fill="#463bdd"/>
<circle cx="724.6" cy="124.0" r="14.0" fill="#463bdd"/>
<circle cx="724.6" cy="140.0" r="14.0" fill="#3e26a8"/>
<circle cx="724.6" cy="155.9" r="14.0" fill="#3e26a8"/>
<circle cx="724.6" cy="171.9" r="14.0" fill="#3e26a8"/>
<circle cx="724.6" cy="187.9" r="14.0" fill="#4230c6"/>
<circle cx="724.6" cy="203.8" r="14.0" fill="#4230c6"/>
<circle cx="724.6" cy="219.8" r="14.0" fill="#463bdd"/>
<circle cx="724.6" cy="235.8" r="14.0" fill="#4230c6"/>
<circle cx="724.6" cy="251.7" r="14.0" fill="#4230c6"/>
<circle cx="724.6" cy="267.7" r="14.0" fill="#4230c6"/>
<circle cx="724.6" cy="283.7" r="14.0" fill="#4230c6"/>
<circle cx="724.6" cy="299.6" r="14.0" fill="#3e26a8"/>
<circle cx="724.6" cy="315.6" r="14.0" fill="#4230c6"/>
<circle cx="724.6" cy="331.6" r="14.0" fill="#4230c6"/>
<circle cx="724.6" cy="347.5" r="14.0" fill="#4230c6"/>
<circle cx="724.6" cy="363.5" r="14.0" fill="#4230c6"/>
<circle cx="724.6" cy="379.4" r="14.0" fill="#4230c6"/>
<circle cx="724.6" cy="395.4" r="14.0" fill="#3e26a8"/>
<circle cx="724.6" cy="411.4" r="14.0" fill="#3e26a8"/>
<circle cx="724.6" cy="427.3" r="14.0" fill="#3e26a8"/>
<circle cx="724.6" cy="443.3" r="14.0" fill="#4230c6"/>
<circle cx="724.6" cy="459.3" r="14.0" fill="#4230c6"/>
<circle cx="724.6" cy="475.2" r="14.0" fill="#4230c6"/>
<circle cx="724.6" cy="491.2" r="14.0" fill="#4230c6"/>
<circle cx="724.6" cy="507.2" r="14.0" fill="#3e26a8"/>
<circle cx="724.6" cy="523.1" r="14.0" fill="#4230c6"/>
<circle cx="724.6" cy="539.1" r="14.0" fill="#4230c6"/>
<circle cx="724.6" cy="555.1" r="14.0" fill="#4230c6"/>
<circle cx="724.6" cy="571.0" r="14.0" fill="#3e26a8"/>
<circle cx="724.6" cy="587.0" r="14.0" fill="#463bdd"/>
<path d="M208.0,169.4 C210.5,166.3 212.9,165.0 218.0,165.7 C223.1,166.3 230.1,170.0 238.4,173.1 C246.8,176.2 258.2,181.4 268.1,184.2 C278.0,187.0 288.5,189.2 297.8,189.8 C307.1,190.4 315.1,189.8 323.8,187.9 C332.4,186.1 341.7,181.4 349.7,178.6 C357.8,175.9 364.6,172.2 372.0,171.2 C379.4,170.3 386.8,171.2 394.3,173.1 C401.7,174.9 408.5,177.7 416.5,182.4 C424.6,187.0 432.0,194.4 442.5,200.9 C453.0,207.4 467.2,214.2 479.6,221.3 C492.0,228.4 504.3,236.2 516.7,243.6 C529.1,251.0 541.5,258.4 553.8,265.8 C566.2,273.3 578.6,280.4 590.9,288.1 C603.3,295.8 615.7,304.2 628.0,312.2 C640.4,320.3 654.0,328.6 665.1,336.3 C676.3,344.1 688.0,352.7 694.8,358.6 C701.6,364.5 704.7,367.6 706.0,371.6 C707.2,375.6 706.0,379.0 702.2,382.7 C698.5,386.4 693.0,389.5 683.7,393.9 C674.4,398.2 659.0,403.8 646.6,408.7 C634.2,413.6 621.8,418.3 609.5,423.5 C597.1,428.8 584.7,434.4 572.4,440.2 C560.0,446.1 547.6,452.6 535.3,458.8 C522.9,465.0 510.5,472.4 498.2,477.3 C485.8,482.3 473.4,486.0 461.1,488.5 C448.7,491.0 436.3,491.9 424.0,492.2 C411.6,492.5 399.2,492.2 386.8,490.3 C374.5,488.5 362.1,484.8 349.7,481.1 C337.4,477.3 325.0,473.6 312.6,468.1 C300.3,462.5 286.7,456.0 275.5,447.7 C264.4,439.3 255.1,429.7 245.8,418.0 C236.6,406.2 228.5,390.1 219.9,377.2 C211.2,364.2 201.3,351.2 193.9,340.1 C186.5,328.9 180.0,319.0 175.3,310.4 C170.7,301.7 167.0,294.9 166.1,288.1 C165.1,281.3 167.0,275.7 169.8,269.6 C172.6,263.4 178.7,257.2 182.8,251.0 C186.8,244.8 190.8,239.3 193.9,232.4 C197.0,225.6 199.8,218.2 201.3,210.2 C202.9,202.1 202.1,191.0 203.2,184.2 C204.3,177.4 205.5,172.5 208.0,169.4Z" fill="none" stroke="#a8238c" stroke-width="6.3"/>
<defs><linearGradient id="pg0" x1="0" x2="1" y1="0" y2="0"><stop offset="0.0" stop-color="#3e26a8"/><stop offset="0.04" stop-color="#4230c6"/><stop offset="0.08" stop-color="#463bdd"/><stop offset="0.12" stop-color="#4849ed"/><stop offset="0.16" stop-color="#4757f7"/><stop offset="0.2" stop-color="#4465fd"/><stop offset="0.24" stop-color="#3974fe"/><stop offset="0.3" stop-color="#2d87f6"/><stop offset="0.36" stop-color="#2597e8"/><stop offset="0.42" stop-color="#1ca8dc"/><stop offset="0.48" stop-color="#0db4cb"/><stop offset="0.54" stop-color="#1abfb0"/><stop offset="0.6" stop-color="#3ec78e"/><stop offset="0.66" stop-color="#6dcb6c"/><stop offset="0.72" stop-color="#a3c84a"/><stop offset="0.76" stop-color="#c7c234"/><stop offset="0.8" stop-color="#e8bb36"/><stop offset="0.84" stop-color="#fdbd3c"/><stop offset="0.88" stop-color="#f9cc33"/><stop offset="0.92" stop-color="#f5dc2b"/><stop offset="0.96" stop-color="#f4ec22"/><stop offset="1.0" stop-color="#f9fb15"/></linearGradient></defs><rect x="105.5" y="613.8" width="614.3" height="35.4" fill="url(#pg0)" stroke="#231f20" stroke-width="5.6"/>
<text x="97.5" y="84.3" font-size="49" text-anchor="start" font-weight="normal" fill="#231f20" textLength="161" lengthAdjust="spacingAndGlyphs" >Control</text>
<text x="170" y="707" font-size="43" text-anchor="middle" font-weight="normal" fill="#231f20" >2</text>
<text x="287" y="707" font-size="43" text-anchor="middle" font-weight="normal" fill="#231f20" >4</text>
<text x="404" y="707" font-size="43" text-anchor="middle" font-weight="normal" fill="#231f20" >6</text>
<text x="521" y="707" font-size="43" text-anchor="middle" font-weight="normal" fill="#231f20" >8</text>
<text x="638" y="707" font-size="43" text-anchor="middle" font-weight="normal" fill="#231f20" >10</text>
<text x="132.5" y="768" font-size="43" text-anchor="start" font-weight="normal" fill="#231f20" textLength="472" lengthAdjust="spacingAndGlyphs" >Traction magnitude (Pa)</text>
<circle cx="816.0" cy="122.0" r="14.0" fill="#463bdd"/>
<circle cx="816.0" cy="137.9" r="14.0" fill="#463bdd"/>
<circle cx="816.0" cy="153.9" r="14.0" fill="#463bdd"/>
<circle cx="816.0" cy="169.8" r="14.0" fill="#463bdd"/>
<circle cx="816.0" cy="185.7" r="14.0" fill="#463bdd"/>
<circle cx="816.0" cy="201.7" r="14.0" fill="#2a8cf1"/>
<circle cx="816.0" cy="217.6" r="14.0" fill="#4850f2"/>
<circle cx="816.0" cy="233.5" r="14.0" fill="#4850f2"/>
<circle cx="816.0" cy="249.4" r="14.0" fill="#463bdd"/>
<circle cx="816.0" cy="265.4" r="14.0" fill="#463bdd"/>
<circle cx="816.0" cy="281.3" r="14.0" fill="#463bdd"/>
<circle cx="816.0" cy="297.2" r="14.0" fill="#463bdd"/>
<circle cx="816.0" cy="313.2" r="14.0" fill="#463bdd"/>
<circle cx="816.0" cy="329.1" r="14.0" fill="#463bdd"/>
<circle cx="816.0" cy="345.0" r="14.0" fill="#463bdd"/>
<circle cx="816.0" cy="361.0" r="14.0" fill="#463bdd"/>
<circle cx="816.0" cy="376.9" r="14.0" fill="#463bdd"/>
<circle cx="816.0" cy="392.8" r="14.0" fill="#2a8cf1"/>
<circle cx="816.0" cy="408.8" r="14.0" fill="#463bdd"/>
<circle cx="816.0" cy="424.7" r="14.0" fill="#463bdd"/>
<circle cx="816.0" cy="440.6" r="14.0" fill="#463bdd"/>
<circle cx="816.0" cy="456.6" r="14.0" fill="#463bdd"/>
<circle cx="816.0" cy="472.5" r="14.0" fill="#463bdd"/>
<circle cx="816.0" cy="488.4" r="14.0" fill="#463bdd"/>
<circle cx="816.0" cy="504.3" r="14.0" fill="#463bdd"/>
<circle cx="816.0" cy="520.3" r="14.0" fill="#463bdd"/>
<circle cx="816.0" cy="536.2" r="14.0" fill="#463bdd"/>
<circle cx="816.0" cy="552.1" r="14.0" fill="#463bdd"/>
<circle cx="816.0" cy="568.1" r="14.0" fill="#463bdd"/>
<circle cx="816.0" cy="584.0" r="14.0" fill="#463bdd"/>
<circle cx="837.0" cy="122.0" r="14.0" fill="#463bdd"/>
<circle cx="837.0" cy="137.9" r="14.0" fill="#4230c6"/>
<circle cx="837.0" cy="153.9" r="14.0" fill="#463bdd"/>
<circle cx="837.0" cy="169.8" r="14.0" fill="#463bdd"/>
<circle cx="837.0" cy="185.7" r="14.0" fill="#463bdd"/>
<circle cx="837.0" cy="201.7" r="14.0" fill="#463bdd"/>
<circle cx="837.0" cy="217.6" r="14.0" fill="#3e26a8"/>
<circle cx="837.0" cy="233.5" r="14.0" fill="#3e26a8"/>
<circle cx="837.0" cy="249.4" r="14.0" fill="#3e26a8"/>
<circle cx="837.0" cy="265.4" r="14.0" fill="#4230c6"/>
<circle cx="837.0" cy="281.3" r="14.0" fill="#4230c6"/>
<circle cx="837.0" cy="297.2" r="14.0" fill="#4230c6"/>
<circle cx="837.0" cy="313.2" r="14.0" fill="#4850f2"/>
<circle cx="837.0" cy="329.1" r="14.0" fill="#4850f2"/>
<circle cx="837.0" cy="345.0" r="14.0" fill="#4850f2"/>
<circle cx="837.0" cy="361.0" r="14.0" fill="#463bdd"/>
<circle cx="837.0" cy="376.9" r="14.0" fill="#463bdd"/>
<circle cx="837.0" cy="392.8" r="14.0" fill="#463bdd"/>
<circle cx="837.0" cy="408.8" r="14.0" fill="#463bdd"/>
<circle cx="837.0" cy="424.7" r="14.0" fill="#463bdd"/>
<circle cx="837.0" cy="440.6" r="14.0" fill="#463bdd"/>
<circle cx="837.0" cy="456.6" r="14.0" fill="#463bdd"/>
<circle cx="837.0" cy="472.5" r="14.0" fill="#463bdd"/>
<circle cx="837.0" cy="488.4" r="14.0" fill="#463bdd"/>
<circle cx="837.0" cy="504.3" r="14.0" fill="#463bdd"/>
<circle cx="837.0" cy="520.3" r="14.0" fill="#3e26a8"/>
<circle cx="837.0" cy="536.2" r="14.0" fill="#463bdd"/>
<circle cx="837.0" cy="552.1" r="14.0" fill="#463bdd"/>
<circle cx="837.0" cy="568.1" r="14.0" fill="#463bdd"/>
<circle cx="837.0" cy="584.0" r="14.0" fill="#463bdd"/>
<circle cx="857.9" cy="122.0" r="14.0" fill="#463bdd"/>
<circle cx="857.9" cy="137.9" r="14.0" fill="#4230c6"/>
<circle cx="857.9" cy="153.9" r="14.0" fill="#4230c6"/>
<circle cx="857.9" cy="169.8" r="14.0" fill="#463bdd"/>
<circle cx="857.9" cy="185.7" r="14.0" fill="#463bdd"/>
<circle cx="857.9" cy="201.7" r="14.0" fill="#463bdd"/>
<circle cx="857.9" cy="217.6" r="14.0" fill="#3e26a8"/>
<circle cx="857.9" cy="233.5" r="14.0" fill="#3e26a8"/>
<circle cx="857.9" cy="249.4" r="14.0" fill="#3e26a8"/>
<circle cx="857.9" cy="265.4" r="14.0" fill="#4230c6"/>
<circle cx="857.9" cy="281.3" r="14.0" fill="#4230c6"/>
<circle cx="857.9" cy="297.2" r="14.0" fill="#463bdd"/>
<circle cx="857.9" cy="313.2" r="14.0" fill="#463bdd"/>
<circle cx="857.9" cy="329.1" r="14.0" fill="#4230c6"/>
<circle cx="857.9" cy="345.0" r="14.0" fill="#4230c6"/>
<circle cx="857.9" cy="361.0" r="14.0" fill="#3e26a8"/>
<circle cx="857.9" cy="376.9" r="14.0" fill="#3e26a8"/>
<circle cx="857.9" cy="392.8" r="14.0" fill="#463bdd"/>
<circle cx="857.9" cy="408.8" r="14.0" fill="#463bdd"/>
<circle cx="857.9" cy="424.7" r="14.0" fill="#463bdd"/>
<circle cx="857.9" cy="440.6" r="14.0" fill="#463bdd"/>
<circle cx="857.9" cy="456.6" r="14.0" fill="#4230c6"/>
<circle cx="857.9" cy="472.5" r="14.0" fill="#3e26a8"/>
<circle cx="857.9" cy="488.4" r="14.0" fill="#4230c6"/>
<circle cx="857.9" cy="504.3" r="14.0" fill="#3e6cfe"/>
<circle cx="857.9" cy="520.3" r="14.0" fill="#4850f2"/>
<circle cx="857.9" cy="536.2" r="14.0" fill="#463bdd"/>
<circle cx="857.9" cy="552.1" r="14.0" fill="#463bdd"/>
<circle cx="857.9" cy="568.1" r="14.0" fill="#463bdd"/>
<circle cx="857.9" cy="584.0" r="14.0" fill="#4230c6"/>
<circle cx="878.9" cy="122.0" r="14.0" fill="#4230c6"/>
<circle cx="878.9" cy="137.9" r="14.0" fill="#4230c6"/>
<circle cx="878.9" cy="153.9" r="14.0" fill="#4230c6"/>
<circle cx="878.9" cy="169.8" r="14.0" fill="#463bdd"/>
<circle cx="878.9" cy="185.7" r="14.0" fill="#4850f2"/>
<circle cx="878.9" cy="201.7" r="14.0" fill="#4850f2"/>
<circle cx="878.9" cy="217.6" r="14.0" fill="#4850f2"/>
<circle cx="878.9" cy="233.5" r="14.0" fill="#4850f2"/>
<circle cx="878.9" cy="249.4" r="14.0" fill="#4850f2"/>
<circle cx="878.9" cy="265.4" r="14.0" fill="#4850f2"/>
<circle cx="878.9" cy="281.3" r="14.0" fill="#4850f2"/>
<circle cx="878.9" cy="297.2" r="14.0" fill="#4850f2"/>
<circle cx="878.9" cy="313.2" r="14.0" fill="#4850f2"/>
<circle cx="878.9" cy="329.1" r="14.0" fill="#4850f2"/>
<circle cx="878.9" cy="345.0" r="14.0" fill="#4850f2"/>
<circle cx="878.9" cy="361.0" r="14.0" fill="#3e26a8"/>
<circle cx="878.9" cy="376.9" r="14.0" fill="#4230c6"/>
<circle cx="878.9" cy="392.8" r="14.0" fill="#463bdd"/>
<circle cx="878.9" cy="408.8" r="14.0" fill="#463bdd"/>
<circle cx="878.9" cy="424.7" r="14.0" fill="#4230c6"/>
<circle cx="878.9" cy="440.6" r="14.0" fill="#463bdd"/>
<circle cx="878.9" cy="456.6" r="14.0" fill="#463bdd"/>
<circle cx="878.9" cy="472.5" r="14.0" fill="#4230c6"/>
<circle cx="878.9" cy="488.4" r="14.0" fill="#463bdd"/>
<circle cx="878.9" cy="504.3" r="14.0" fill="#3e6cfe"/>
<circle cx="878.9" cy="520.3" r="14.0" fill="#4850f2"/>
<circle cx="878.9" cy="536.2" r="14.0" fill="#463bdd"/>
<circle cx="878.9" cy="552.1" r="14.0" fill="#463bdd"/>
<circle cx="878.9" cy="568.1" r="14.0" fill="#463bdd"/>
<circle cx="878.9" cy="584.0" r="14.0" fill="#4230c6"/>
<circle cx="899.9" cy="122.0" r="14.0" fill="#4230c6"/>
<circle cx="899.9" cy="137.9" r="14.0" fill="#4230c6"/>
<circle cx="899.9" cy="153.9" r="14.0" fill="#463bdd"/>
<circle cx="899.9" cy="169.8" r="14.0" fill="#463bdd"/>
<circle cx="899.9" cy="185.7" r="14.0" fill="#463bdd"/>
<circle cx="899.9" cy="201.7" r="14.0" fill="#3e26a8"/>
<circle cx="899.9" cy="217.6" r="14.0" fill="#463bdd"/>
<circle cx="899.9" cy="233.5" r="14.0" fill="#463bdd"/>
<circle cx="899.9" cy="249.4" r="14.0" fill="#3e26a8"/>
<circle cx="899.9" cy="265.4" r="14.0" fill="#4850f2"/>
<circle cx="899.9" cy="281.3" r="14.0" fill="#4850f2"/>
<circle cx="899.9" cy="297.2" r="14.0" fill="#463bdd"/>
<circle cx="899.9" cy="313.2" r="14.0" fill="#4850f2"/>
<circle cx="899.9" cy="329.1" r="14.0" fill="#3e6cfe"/>
<circle cx="899.9" cy="345.0" r="14.0" fill="#3e6cfe"/>
<circle cx="899.9" cy="361.0" r="14.0" fill="#463bdd"/>
<circle cx="899.9" cy="376.9" r="14.0" fill="#4230c6"/>
<circle cx="899.9" cy="392.8" r="14.0" fill="#463bdd"/>
<circle cx="899.9" cy="408.8" r="14.0" fill="#463bdd"/>
<circle cx="899.9" cy="424.7" r="14.0" fill="#463bdd"/>
<circle cx="899.9" cy="440.6" r="14.0" fill="#463bdd"/>
<circle cx="899.9" cy="456.6" r="14.0" fill="#4850f2"/>
<circle cx="899.9" cy="472.5" r="14.0" fill="#463bdd"/>
<circle cx="899.9" cy="488.4" r="14.0" fill="#463bdd"/>
<circle cx="899.9" cy="504.3" r="14.0" fill="#463bdd"/>
<circle cx="899.9" cy="520.3" r="14.0" fill="#463bdd"/>
<circle cx="899.9" cy="536.2" r="14.0" fill="#2a8cf1"/>
<circle cx="899.9" cy="552.1" r="14.0" fill="#2a8cf1"/>
<circle cx="899.9" cy="568.1" r="14.0" fill="#463bdd"/>
<circle cx="899.9" cy="584.0" r="14.0" fill="#463bdd"/>
<circle cx="920.8" cy="122.0" r="14.0" fill="#463bdd"/>
<circle cx="920.8" cy="137.9" r="14.0" fill="#4850f2"/>
<circle cx="920.8" cy="153.9" r="14.0" fill="#4850f2"/>
<circle cx="920.8" cy="169.8" r="14.0" fill="#4850f2"/>
<circle cx="920.8" cy="185.7" r="14.0" fill="#4850f2"/>
<circle cx="920.8" cy="201.7" r="14.0" fill="#4850f2"/>
<circle cx="920.8" cy="217.6" r="14.0" fill="#463bdd"/>
<circle cx="920.8" cy="233.5" r="14.0" fill="#4850f2"/>
<circle cx="920.8" cy="249.4" r="14.0" fill="#463bdd"/>
<circle cx="920.8" cy="265.4" r="14.0" fill="#4850f2"/>
<circle cx="920.8" cy="281.3" r="14.0" fill="#3e26a8"/>
<circle cx="920.8" cy="297.2" r="14.0" fill="#463bdd"/>
<circle cx="920.8" cy="313.2" r="14.0" fill="#463bdd"/>
<circle cx="920.8" cy="329.1" r="14.0" fill="#463bdd"/>
<circle cx="920.8" cy="345.0" r="14.0" fill="#3e26a8"/>
<circle cx="920.8" cy="361.0" r="14.0" fill="#463bdd"/>
<circle cx="920.8" cy="376.9" r="14.0" fill="#4850f2"/>
<circle cx="920.8" cy="392.8" r="14.0" fill="#4850f2"/>
<circle cx="920.8" cy="408.8" r="14.0" fill="#463bdd"/>
<circle cx="920.8" cy="424.7" r="14.0" fill="#463bdd"/>
<circle cx="920.8" cy="440.6" r="14.0" fill="#463bdd"/>
<circle cx="920.8" cy="456.6" r="14.0" fill="#463bdd"/>
<circle cx="920.8" cy="472.5" r="14.0" fill="#2a8cf1"/>
<circle cx="920.8" cy="488.4" r="14.0" fill="#2a8cf1"/>
<circle cx="920.8" cy="504.3" r="14.0" fill="#463bdd"/>
<circle cx="920.8" cy="520.3" r="14.0" fill="#463bdd"/>
<circle cx="920.8" cy="536.2" r="14.0" fill="#463bdd"/>
<circle cx="920.8" cy="552.1" r="14.0" fill="#463bdd"/>
<circle cx="920.8" cy="568.1" r="14.0" fill="#463bdd"/>
<circle cx="920.8" cy="584.0" r="14.0" fill="#3e26a8"/>
<circle cx="941.8" cy="122.0" r="14.0" fill="#463bdd"/>
<circle cx="941.8" cy="137.9" r="14.0" fill="#3e6cfe"/>
<circle cx="941.8" cy="153.9" r="14.0" fill="#3e6cfe"/>
<circle cx="941.8" cy="169.8" r="14.0" fill="#4850f2"/>
<circle cx="941.8" cy="185.7" r="14.0" fill="#463bdd"/>
<circle cx="941.8" cy="201.7" r="14.0" fill="#4850f2"/>
<circle cx="941.8" cy="217.6" r="14.0" fill="#3e6cfe"/>
<circle cx="941.8" cy="233.5" r="14.0" fill="#3e6cfe"/>
<circle cx="941.8" cy="249.4" r="14.0" fill="#4850f2"/>
<circle cx="941.8" cy="265.4" r="14.0" fill="#3e26a8"/>
<circle cx="941.8" cy="281.3" r="14.0" fill="#463bdd"/>
<circle cx="941.8" cy="297.2" r="14.0" fill="#463bdd"/>
<circle cx="941.8" cy="313.2" r="14.0" fill="#463bdd"/>
<circle cx="941.8" cy="329.1" r="14.0" fill="#463bdd"/>
<circle cx="941.8" cy="345.0" r="14.0" fill="#3e26a8"/>
<circle cx="941.8" cy="361.0" r="14.0" fill="#463bdd"/>
<circle cx="941.8" cy="376.9" r="14.0" fill="#4850f2"/>
<circle cx="941.8" cy="392.8" r="14.0" fill="#463bdd"/>
<circle cx="941.8" cy="408.8" r="14.0" fill="#463bdd"/>
<circle cx="941.8" cy="424.7" r="14.0" fill="#463bdd"/>
<circle cx="941.8" cy="440.6" r="14.0" fill="#463bdd"/>
<circle cx="941.8" cy="456.6" r="14.0" fill="#463bdd"/>
<circle cx="941.8" cy="472.5" r="14.0" fill="#2a8cf1"/>
<circle cx="941.8" cy="488.4" r="14.0" fill="#2a8cf1"/>
<circle cx="941.8" cy="504.3" r="14.0" fill="#4230c6"/>
<circle cx="941.8" cy="520.3" r="14.0" fill="#4230c6"/>
<circle cx="941.8" cy="536.2" r="14.0" fill="#463bdd"/>
<circle cx="941.8" cy="552.1" r="14.0" fill="#4230c6"/>
<circle cx="941.8" cy="568.1" r="14.0" fill="#463bdd"/>
<circle cx="941.8" cy="584.0" r="14.0" fill="#4230c6"/>
<circle cx="962.8" cy="122.0" r="14.0" fill="#463bdd"/>
<circle cx="962.8" cy="137.9" r="14.0" fill="#4850f2"/>
<circle cx="962.8" cy="153.9" r="14.0" fill="#4850f2"/>
<circle cx="962.8" cy="169.8" r="14.0" fill="#4850f2"/>
<circle cx="962.8" cy="185.7" r="14.0" fill="#4850f2"/>
<circle cx="962.8" cy="201.7" r="14.0" fill="#4850f2"/>
<circle cx="962.8" cy="217.6" r="14.0" fill="#4850f2"/>
<circle cx="962.8" cy="233.5" r="14.0" fill="#4850f2"/>
<circle cx="962.8" cy="249.4" r="14.0" fill="#463bdd"/>
<circle cx="962.8" cy="265.4" r="14.0" fill="#463bdd"/>
<circle cx="962.8" cy="281.3" r="14.0" fill="#463bdd"/>
<circle cx="962.8" cy="297.2" r="14.0" fill="#463bdd"/>
<circle cx="962.8" cy="313.2" r="14.0" fill="#4850f2"/>
<circle cx="962.8" cy="329.1" r="14.0" fill="#3e6cfe"/>
<circle cx="962.8" cy="345.0" r="14.0" fill="#4850f2"/>
<circle cx="962.8" cy="361.0" r="14.0" fill="#4850f2"/>
<circle cx="962.8" cy="376.9" r="14.0" fill="#463bdd"/>
<circle cx="962.8" cy="392.8" r="14.0" fill="#463bdd"/>
<circle cx="962.8" cy="408.8" r="14.0" fill="#463bdd"/>
<circle cx="962.8" cy="424.7" r="14.0" fill="#463bdd"/>
<circle cx="962.8" cy="440.6" r="14.0" fill="#4850f2"/>
<circle cx="962.8" cy="456.6" r="14.0" fill="#463bdd"/>
<circle cx="962.8" cy="472.5" r="14.0" fill="#463bdd"/>
<circle cx="962.8" cy="488.4" r="14.0" fill="#463bdd"/>
<circle cx="962.8" cy="504.3" r="14.0" fill="#463bdd"/>
<circle cx="962.8" cy="520.3" r="14.0" fill="#463bdd"/>
<circle cx="962.8" cy="536.2" r="14.0" fill="#4230c6"/>
<circle cx="962.8" cy="552.1" r="14.0" fill="#463bdd"/>
<circle cx="962.8" cy="568.1" r="14.0" fill="#463bdd"/>
<circle cx="962.8" cy="584.0" r="14.0" fill="#463bdd"/>
<circle cx="983.7" cy="122.0" r="14.0" fill="#4230c6"/>
<circle cx="983.7" cy="137.9" r="14.0" fill="#4230c6"/>
<circle cx="983.7" cy="153.9" r="14.0" fill="#4230c6"/>
<circle cx="983.7" cy="169.8" r="14.0" fill="#4230c6"/>
<circle cx="983.7" cy="185.7" r="14.0" fill="#463bdd"/>
<circle cx="983.7" cy="201.7" r="14.0" fill="#4230c6"/>
<circle cx="983.7" cy="217.6" r="14.0" fill="#4230c6"/>
<circle cx="983.7" cy="233.5" r="14.0" fill="#463bdd"/>
<circle cx="983.7" cy="249.4" r="14.0" fill="#4850f2"/>
<circle cx="983.7" cy="265.4" r="14.0" fill="#463bdd"/>
<circle cx="983.7" cy="281.3" r="14.0" fill="#4850f2"/>
<circle cx="983.7" cy="297.2" r="14.0" fill="#4850f2"/>
<circle cx="983.7" cy="313.2" r="14.0" fill="#463bdd"/>
<circle cx="983.7" cy="329.1" r="14.0" fill="#463bdd"/>
<circle cx="983.7" cy="345.0" r="14.0" fill="#463bdd"/>
<circle cx="983.7" cy="361.0" r="14.0" fill="#4230c6"/>
<circle cx="983.7" cy="376.9" r="14.0" fill="#4230c6"/>
<circle cx="983.7" cy="392.8" r="14.0" fill="#4230c6"/>
<circle cx="983.7" cy="408.8" r="14.0" fill="#4230c6"/>
<circle cx="983.7" cy="424.7" r="14.0" fill="#4230c6"/>
<circle cx="983.7" cy="440.6" r="14.0" fill="#4230c6"/>
<circle cx="983.7" cy="456.6" r="14.0" fill="#4230c6"/>
<circle cx="983.7" cy="472.5" r="14.0" fill="#4230c6"/>
<circle cx="983.7" cy="488.4" r="14.0" fill="#4230c6"/>
<circle cx="983.7" cy="504.3" r="14.0" fill="#4230c6"/>
<circle cx="983.7" cy="520.3" r="14.0" fill="#4850f2"/>
<circle cx="983.7" cy="536.2" r="14.0" fill="#463bdd"/>
<circle cx="983.7" cy="552.1" r="14.0" fill="#463bdd"/>
<circle cx="983.7" cy="568.1" r="14.0" fill="#463bdd"/>
<circle cx="983.7" cy="584.0" r="14.0" fill="#4230c6"/>
<circle cx="1004.7" cy="122.0" r="14.0" fill="#463bdd"/>
<circle cx="1004.7" cy="137.9" r="14.0" fill="#463bdd"/>
<circle cx="1004.7" cy="153.9" r="14.0" fill="#4230c6"/>
<circle cx="1004.7" cy="169.8" r="14.0" fill="#463bdd"/>
<circle cx="1004.7" cy="185.7" r="14.0" fill="#463bdd"/>
<circle cx="1004.7" cy="201.7" r="14.0" fill="#4850f2"/>
<circle cx="1004.7" cy="217.6" r="14.0" fill="#3e6cfe"/>
<circle cx="1004.7" cy="233.5" r="14.0" fill="#463bdd"/>
<circle cx="1004.7" cy="249.4" r="14.0" fill="#463bdd"/>
<circle cx="1004.7" cy="265.4" r="14.0" fill="#463bdd"/>
<circle cx="1004.7" cy="281.3" r="14.0" fill="#3e6cfe"/>
<circle cx="1004.7" cy="297.2" r="14.0" fill="#3e6cfe"/>
<circle cx="1004.7" cy="313.2" r="14.0" fill="#3e6cfe"/>
<circle cx="1004.7" cy="329.1" r="14.0" fill="#4850f2"/>
<circle cx="1004.7" cy="345.0" r="14.0" fill="#463bdd"/>
<circle cx="1004.7" cy="361.0" r="14.0" fill="#463bdd"/>
<circle cx="1004.7" cy="376.9" r="14.0" fill="#4230c6"/>
<circle cx="1004.7" cy="392.8" r="14.0" fill="#4230c6"/>
<circle cx="1004.7" cy="408.8" r="14.0" fill="#4230c6"/>
<circle cx="1004.7" cy="424.7" r="14.0" fill="#4230c6"/>
<circle cx="1004.7" cy="440.6" r="14.0" fill="#463bdd"/>
<circle cx="1004.7" cy="456.6" r="14.0" fill="#4230c6"/>
<circle cx="1004.7" cy="472.5" r="14.0" fill="#4230c6"/>
<circle cx="1004.7" cy="488.4" r="14.0" fill="#4230c6"/>
<circle cx="1004.7" cy="504.3" r="14.0" fill="#4230c6"/>
<circle cx="1004.7" cy="520.3" r="14.0" fill="#4230c6"/>
<circle cx="1004.7" cy="536.2" r="14.0" fill="#463bdd"/>
<circle cx="1004.7" cy="552.1" r="14.0" fill="#463bdd"/>
<circle cx="1004.7" cy="568.1" r="14.0" fill="#463bdd"/>
<circle cx="1004.7" cy="584.0" r="14.0" fill="#463bdd"/>
<circle cx="1025.7" cy="122.0" r="14.0" fill="#463bdd"/>
<circle cx="1025.7" cy="137.9" r="14.0" fill="#463bdd"/>
<circle cx="1025.7" cy="153.9" r="14.0" fill="#463bdd"/>
<circle cx="1025.7" cy="169.8" r="14.0" fill="#3e26a8"/>
<circle cx="1025.7" cy="185.7" r="14.0" fill="#463bdd"/>
<circle cx="1025.7" cy="201.7" r="14.0" fill="#4850f2"/>
<circle cx="1025.7" cy="217.6" r="14.0" fill="#3e6cfe"/>
<circle cx="1025.7" cy="233.5" r="14.0" fill="#463bdd"/>
<circle cx="1025.7" cy="249.4" r="14.0" fill="#4850f2"/>
<circle cx="1025.7" cy="265.4" r="14.0" fill="#3e6cfe"/>
<circle cx="1025.7" cy="281.3" r="14.0" fill="#4850f2"/>
<circle cx="1025.7" cy="297.2" r="14.0" fill="#4850f2"/>
<circle cx="1025.7" cy="313.2" r="14.0" fill="#4850f2"/>
<circle cx="1025.7" cy="329.1" r="14.0" fill="#4850f2"/>
<circle cx="1025.7" cy="345.0" r="14.0" fill="#4850f2"/>
<circle cx="1025.7" cy="361.0" r="14.0" fill="#463bdd"/>
<circle cx="1025.7" cy="376.9" r="14.0" fill="#4850f2"/>
<circle cx="1025.7" cy="392.8" r="14.0" fill="#4850f2"/>
<circle cx="1025.7" cy="408.8" r="14.0" fill="#463bdd"/>
<circle cx="1025.7" cy="424.7" r="14.0" fill="#463bdd"/>
<circle cx="1025.7" cy="440.6" r="14.0" fill="#4230c6"/>
<circle cx="1025.7" cy="456.6" r="14.0" fill="#4230c6"/>
<circle cx="1025.7" cy="472.5" r="14.0" fill="#463bdd"/>
<circle cx="1025.7" cy="488.4" r="14.0" fill="#3e26a8"/>
<circle cx="1025.7" cy="504.3" r="14.0" fill="#3e26a8"/>
<circle cx="1025.7" cy="520.3" r="14.0" fill="#4230c6"/>
<circle cx="1025.7" cy="536.2" r="14.0" fill="#463bdd"/>
<circle cx="1025.7" cy="552.1" r="14.0" fill="#463bdd"/>
<circle cx="1025.7" cy="568.1" r="14.0" fill="#4230c6"/>
<circle cx="1025.7" cy="584.0" r="14.0" fill="#463bdd"/>
<circle cx="1046.6" cy="122.0" r="14.0" fill="#463bdd"/>
<circle cx="1046.6" cy="137.9" r="14.0" fill="#4850f2"/>
<circle cx="1046.6" cy="153.9" r="14.0" fill="#4230c6"/>
<circle cx="1046.6" cy="169.8" r="14.0" fill="#463bdd"/>
<circle cx="1046.6" cy="185.7" r="14.0" fill="#463bdd"/>
<circle cx="1046.6" cy="201.7" r="14.0" fill="#463bdd"/>
<circle cx="1046.6" cy="217.6" r="14.0" fill="#4230c6"/>
<circle cx="1046.6" cy="233.5" r="14.0" fill="#4850f2"/>
<circle cx="1046.6" cy="249.4" r="14.0" fill="#4850f2"/>
<circle cx="1046.6" cy="265.4" r="14.0" fill="#4850f2"/>
<circle cx="1046.6" cy="281.3" r="14.0" fill="#4850f2"/>
<circle cx="1046.6" cy="297.2" r="14.0" fill="#4850f2"/>
<circle cx="1046.6" cy="313.2" r="14.0" fill="#4850f2"/>
<circle cx="1046.6" cy="329.1" r="14.0" fill="#3e6cfe"/>
<circle cx="1046.6" cy="345.0" r="14.0" fill="#3e6cfe"/>
<circle cx="1046.6" cy="361.0" r="14.0" fill="#3e6cfe"/>
<circle cx="1046.6" cy="376.9" r="14.0" fill="#3e6cfe"/>
<circle cx="1046.6" cy="392.8" r="14.0" fill="#3e6cfe"/>
<circle cx="1046.6" cy="408.8" r="14.0" fill="#4850f2"/>
<circle cx="1046.6" cy="424.7" r="14.0" fill="#4230c6"/>
<circle cx="1046.6" cy="440.6" r="14.0" fill="#463bdd"/>
<circle cx="1046.6" cy="456.6" r="14.0" fill="#463bdd"/>
<circle cx="1046.6" cy="472.5" r="14.0" fill="#463bdd"/>
<circle cx="1046.6" cy="488.4" r="14.0" fill="#4230c6"/>
<circle cx="1046.6" cy="504.3" r="14.0" fill="#4230c6"/>
<circle cx="1046.6" cy="520.3" r="14.0" fill="#463bdd"/>
<circle cx="1046.6" cy="536.2" r="14.0" fill="#463bdd"/>
<circle cx="1046.6" cy="552.1" r="14.0" fill="#4230c6"/>
<circle cx="1046.6" cy="568.1" r="14.0" fill="#463bdd"/>
<circle cx="1046.6" cy="584.0" r="14.0" fill="#463bdd"/>
<circle cx="1067.6" cy="122.0" r="14.0" fill="#463bdd"/>
<circle cx="1067.6" cy="137.9" r="14.0" fill="#463bdd"/>
<circle cx="1067.6" cy="153.9" r="14.0" fill="#463bdd"/>
<circle cx="1067.6" cy="169.8" r="14.0" fill="#463bdd"/>
<circle cx="1067.6" cy="185.7" r="14.0" fill="#463bdd"/>
<circle cx="1067.6" cy="201.7" r="14.0" fill="#4230c6"/>
<circle cx="1067.6" cy="217.6" r="14.0" fill="#463bdd"/>
<circle cx="1067.6" cy="233.5" r="14.0" fill="#463bdd"/>
<circle cx="1067.6" cy="249.4" r="14.0" fill="#3e6cfe"/>
<circle cx="1067.6" cy="265.4" r="14.0" fill="#4850f2"/>
<circle cx="1067.6" cy="281.3" r="14.0" fill="#4850f2"/>
<circle cx="1067.6" cy="297.2" r="14.0" fill="#4850f2"/>
<circle cx="1067.6" cy="313.2" r="14.0" fill="#3e6cfe"/>
<circle cx="1067.6" cy="329.1" r="14.0" fill="#2a8cf1"/>
<circle cx="1067.6" cy="345.0" r="14.0" fill="#1ca8dc"/>
<circle cx="1067.6" cy="361.0" r="14.0" fill="#2a8cf1"/>
<circle cx="1067.6" cy="376.9" r="14.0" fill="#3e6cfe"/>
<circle cx="1067.6" cy="392.8" r="14.0" fill="#4850f2"/>
<circle cx="1067.6" cy="408.8" r="14.0" fill="#3e6cfe"/>
<circle cx="1067.6" cy="424.7" r="14.0" fill="#4850f2"/>
<circle cx="1067.6" cy="440.6" r="14.0" fill="#4850f2"/>
<circle cx="1067.6" cy="456.6" r="14.0" fill="#463bdd"/>
<circle cx="1067.6" cy="472.5" r="14.0" fill="#463bdd"/>
<circle cx="1067.6" cy="488.4" r="14.0" fill="#463bdd"/>
<circle cx="1067.6" cy="504.3" r="14.0" fill="#463bdd"/>
<circle cx="1067.6" cy="520.3" r="14.0" fill="#463bdd"/>
<circle cx="1067.6" cy="536.2" r="14.0" fill="#463bdd"/>
<circle cx="1067.6" cy="552.1" r="14.0" fill="#463bdd"/>
<circle cx="1067.6" cy="568.1" r="14.0" fill="#463bdd"/>
<circle cx="1067.6" cy="584.0" r="14.0" fill="#463bdd"/>
<circle cx="1088.6" cy="122.0" r="14.0" fill="#463bdd"/>
<circle cx="1088.6" cy="137.9" r="14.0" fill="#463bdd"/>
<circle cx="1088.6" cy="153.9" r="14.0" fill="#463bdd"/>
<circle cx="1088.6" cy="169.8" r="14.0" fill="#463bdd"/>
<circle cx="1088.6" cy="185.7" r="14.0" fill="#463bdd"/>
<circle cx="1088.6" cy="201.7" r="14.0" fill="#463bdd"/>
<circle cx="1088.6" cy="217.6" r="14.0" fill="#463bdd"/>
<circle cx="1088.6" cy="233.5" r="14.0" fill="#463bdd"/>
<circle cx="1088.6" cy="249.4" r="14.0" fill="#3e26a8"/>
<circle cx="1088.6" cy="265.4" r="14.0" fill="#463bdd"/>
<circle cx="1088.6" cy="281.3" r="14.0" fill="#4850f2"/>
<circle cx="1088.6" cy="297.2" r="14.0" fill="#3e6cfe"/>
<circle cx="1088.6" cy="313.2" r="14.0" fill="#2a8cf1"/>
<circle cx="1088.6" cy="329.1" r="14.0" fill="#1ca8dc"/>
<circle cx="1088.6" cy="345.0" r="14.0" fill="#0fb6c6"/>
<circle cx="1088.6" cy="361.0" r="14.0" fill="#1ca8dc"/>
<circle cx="1088.6" cy="376.9" r="14.0" fill="#3e6cfe"/>
<circle cx="1088.6" cy="392.8" r="14.0" fill="#2a8cf1"/>
<circle cx="1088.6" cy="408.8" r="14.0" fill="#3e6cfe"/>
<circle cx="1088.6" cy="424.7" r="14.0" fill="#4850f2"/>
<circle cx="1088.6" cy="440.6" r="14.0" fill="#3e26a8"/>
<circle cx="1088.6" cy="456.6" r="14.0" fill="#463bdd"/>
<circle cx="1088.6" cy="472.5" r="14.0" fill="#463bdd"/>
<circle cx="1088.6" cy="488.4" r="14.0" fill="#463bdd"/>
<circle cx="1088.6" cy="504.3" r="14.0" fill="#463bdd"/>
<circle cx="1088.6" cy="520.3" r="14.0" fill="#463bdd"/>
<circle cx="1088.6" cy="536.2" r="14.0" fill="#463bdd"/>
<circle cx="1088.6" cy="552.1" r="14.0" fill="#463bdd"/>
<circle cx="1088.6" cy="568.1" r="14.0" fill="#463bdd"/>
<circle cx="1088.6" cy="584.0" r="14.0" fill="#463bdd"/>
<circle cx="1109.5" cy="122.0" r="14.0" fill="#463bdd"/>
<circle cx="1109.5" cy="137.9" r="14.0" fill="#463bdd"/>
<circle cx="1109.5" cy="153.9" r="14.0" fill="#4230c6"/>
<circle cx="1109.5" cy="169.8" r="14.0" fill="#463bdd"/>
<circle cx="1109.5" cy="185.7" r="14.0" fill="#463bdd"/>
<circle cx="1109.5" cy="201.7" r="14.0" fill="#463bdd"/>
<circle cx="1109.5" cy="217.6" r="14.0" fill="#4230c6"/>
<circle cx="1109.5" cy="233.5" r="14.0" fill="#4850f2"/>
<circle cx="1109.5" cy="249.4" r="14.0" fill="#3e26a8"/>
<circle cx="1109.5" cy="265.4" r="14.0" fill="#463bdd"/>
<circle cx="1109.5" cy="281.3" r="14.0" fill="#3e6cfe"/>
<circle cx="1109.5" cy="297.2" r="14.0" fill="#3e6cfe"/>
<circle cx="1109.5" cy="313.2" r="14.0" fill="#1ca8dc"/>
<circle cx="1109.5" cy="329.1" r="14.0" fill="#0fb6c6"/>
<circle cx="1109.5" cy="345.0" r="14.0" fill="#91c955"/>
<circle cx="1109.5" cy="361.0" r="14.0" fill="#f8bc3a"/>
<circle cx="1109.5" cy="376.9" r="14.0" fill="#26c2a5"/>
<circle cx="1109.5" cy="392.8" r="14.0" fill="#1ca8dc"/>
<circle cx="1109.5" cy="408.8" r="14.0" fill="#2a8cf1"/>
<circle cx="1109.5" cy="424.7" r="14.0" fill="#3e6cfe"/>
<circle cx="1109.5" cy="440.6" r="14.0" fill="#3e6cfe"/>
<circle cx="1109.5" cy="456.6" r="14.0" fill="#4850f2"/>
<circle cx="1109.5" cy="472.5" r="14.0" fill="#463bdd"/>
<circle cx="1109.5" cy="488.4" r="14.0" fill="#463bdd"/>
<circle cx="1109.5" cy="504.3" r="14.0" fill="#463bdd"/>
<circle cx="1109.5" cy="520.3" r="14.0" fill="#463bdd"/>
<circle cx="1109.5" cy="536.2" r="14.0" fill="#3e26a8"/>
<circle cx="1109.5" cy="552.1" r="14.0" fill="#463bdd"/>
<circle cx="1109.5" cy="568.1" r="14.0" fill="#463bdd"/>
<circle cx="1109.5" cy="584.0" r="14.0" fill="#463bdd"/>
<circle cx="1130.5" cy="122.0" r="14.0" fill="#463bdd"/>
<circle cx="1130.5" cy="137.9" r="14.0" fill="#4230c6"/>
<circle cx="1130.5" cy="153.9" r="14.0" fill="#4230c6"/>
<circle cx="1130.5" cy="169.8" r="14.0" fill="#463bdd"/>
<circle cx="1130.5" cy="185.7" r="14.0" fill="#463bdd"/>
<circle cx="1130.5" cy="201.7" r="14.0" fill="#4230c6"/>
<circle cx="1130.5" cy="217.6" r="14.0" fill="#4230c6"/>
<circle cx="1130.5" cy="233.5" r="14.0" fill="#463bdd"/>
<circle cx="1130.5" cy="249.4" r="14.0" fill="#3e26a8"/>
<circle cx="1130.5" cy="265.4" r="14.0" fill="#463bdd"/>
<circle cx="1130.5" cy="281.3" r="14.0" fill="#3e6cfe"/>
<circle cx="1130.5" cy="297.2" r="14.0" fill="#3e6cfe"/>
<circle cx="1130.5" cy="313.2" r="14.0" fill="#1ca8dc"/>
<circle cx="1130.5" cy="329.1" r="14.0" fill="#0fb6c6"/>
<circle cx="1130.5" cy="345.0" r="14.0" fill="#91c955"/>
<circle cx="1130.5" cy="361.0" r="14.0" fill="#f8bc3a"/>
<circle cx="1130.5" cy="376.9" r="14.0" fill="#26c2a5"/>
<circle cx="1130.5" cy="392.8" r="14.0" fill="#0fb6c6"/>
<circle cx="1130.5" cy="408.8" r="14.0" fill="#1ca8dc"/>
<circle cx="1130.5" cy="424.7" r="14.0" fill="#3e6cfe"/>
<circle cx="1130.5" cy="440.6" r="14.0" fill="#3e6cfe"/>
<circle cx="1130.5" cy="456.6" r="14.0" fill="#4850f2"/>
<circle cx="1130.5" cy="472.5" r="14.0" fill="#463bdd"/>
<circle cx="1130.5" cy="488.4" r="14.0" fill="#463bdd"/>
<circle cx="1130.5" cy="504.3" r="14.0" fill="#463bdd"/>
<circle cx="1130.5" cy="520.3" r="14.0" fill="#4230c6"/>
<circle cx="1130.5" cy="536.2" r="14.0" fill="#463bdd"/>
<circle cx="1130.5" cy="552.1" r="14.0" fill="#463bdd"/>
<circle cx="1130.5" cy="568.1" r="14.0" fill="#463bdd"/>
<circle cx="1130.5" cy="584.0" r="14.0" fill="#4850f2"/>
<circle cx="1151.4" cy="122.0" r="14.0" fill="#463bdd"/>
<circle cx="1151.4" cy="137.9" r="14.0" fill="#3e26a8"/>
<circle cx="1151.4" cy="153.9" r="14.0" fill="#4230c6"/>
<circle cx="1151.4" cy="169.8" r="14.0" fill="#3e6cfe"/>
<circle cx="1151.4" cy="185.7" r="14.0" fill="#463bdd"/>
<circle cx="1151.4" cy="201.7" r="14.0" fill="#4230c6"/>
<circle cx="1151.4" cy="217.6" r="14.0" fill="#3e26a8"/>
<circle cx="1151.4" cy="233.5" r="14.0" fill="#463bdd"/>
<circle cx="1151.4" cy="249.4" r="14.0" fill="#463bdd"/>
<circle cx="1151.4" cy="265.4" r="14.0" fill="#3e6cfe"/>
<circle cx="1151.4" cy="281.3" r="14.0" fill="#2a8cf1"/>
<circle cx="1151.4" cy="297.2" r="14.0" fill="#2a8cf1"/>
<circle cx="1151.4" cy="313.2" r="14.0" fill="#1ca8dc"/>
<circle cx="1151.4" cy="329.1" r="14.0" fill="#0fb6c6"/>
<circle cx="1151.4" cy="345.0" r="14.0" fill="#1ca8dc"/>
<circle cx="1151.4" cy="361.0" r="14.0" fill="#1ca8dc"/>
<circle cx="1151.4" cy="376.9" r="14.0" fill="#1ca8dc"/>
<circle cx="1151.4" cy="392.8" r="14.0" fill="#1ca8dc"/>
<circle cx="1151.4" cy="408.8" r="14.0" fill="#1ca8dc"/>
<circle cx="1151.4" cy="424.7" r="14.0" fill="#1ca8dc"/>
<circle cx="1151.4" cy="440.6" r="14.0" fill="#1ca8dc"/>
<circle cx="1151.4" cy="456.6" r="14.0" fill="#1ca8dc"/>
<circle cx="1151.4" cy="472.5" r="14.0" fill="#4850f2"/>
<circle cx="1151.4" cy="488.4" r="14.0" fill="#4230c6"/>
<circle cx="1151.4" cy="504.3" r="14.0" fill="#4230c6"/>
<circle cx="1151.4" cy="520.3" r="14.0" fill="#4230c6"/>
<circle cx="1151.4" cy="536.2" r="14.0" fill="#4230c6"/>
<circle cx="1151.4" cy="552.1" r="14.0" fill="#4230c6"/>
<circle cx="1151.4" cy="568.1" r="14.0" fill="#4230c6"/>
<circle cx="1151.4" cy="584.0" r="14.0" fill="#463bdd"/>
<circle cx="1172.4" cy="122.0" r="14.0" fill="#463bdd"/>
<circle cx="1172.4" cy="137.9" r="14.0" fill="#4230c6"/>
<circle cx="1172.4" cy="153.9" r="14.0" fill="#4230c6"/>
<circle cx="1172.4" cy="169.8" r="14.0" fill="#463bdd"/>
<circle cx="1172.4" cy="185.7" r="14.0" fill="#463bdd"/>
<circle cx="1172.4" cy="201.7" r="14.0" fill="#463bdd"/>
<circle cx="1172.4" cy="217.6" r="14.0" fill="#4230c6"/>
<circle cx="1172.4" cy="233.5" r="14.0" fill="#4850f2"/>
<circle cx="1172.4" cy="249.4" r="14.0" fill="#3e6cfe"/>
<circle cx="1172.4" cy="265.4" r="14.0" fill="#3e6cfe"/>
<circle cx="1172.4" cy="281.3" r="14.0" fill="#0fb6c6"/>
<circle cx="1172.4" cy="297.2" r="14.0" fill="#f8bc3a"/>
<circle cx="1172.4" cy="313.2" r="14.0" fill="#f9fb15"/>
<circle cx="1172.4" cy="329.1" r="14.0" fill="#26c2a5"/>
<circle cx="1172.4" cy="345.0" r="14.0" fill="#2a8cf1"/>
<circle cx="1172.4" cy="361.0" r="14.0" fill="#4850f2"/>
<circle cx="1172.4" cy="376.9" r="14.0" fill="#463bdd"/>
<circle cx="1172.4" cy="392.8" r="14.0" fill="#2a8cf1"/>
<circle cx="1172.4" cy="408.8" r="14.0" fill="#2a8cf1"/>
<circle cx="1172.4" cy="424.7" r="14.0" fill="#4850f2"/>
<circle cx="1172.4" cy="440.6" r="14.0" fill="#4850f2"/>
<circle cx="1172.4" cy="456.6" r="14.0" fill="#3e6cfe"/>
<circle cx="1172.4" cy="472.5" r="14.0" fill="#463bdd"/>
<circle cx="1172.4" cy="488.4" r="14.0" fill="#463bdd"/>
<circle cx="1172.4" cy="504.3" r="14.0" fill="#463bdd"/>
<circle cx="1172.4" cy="520.3" r="14.0" fill="#463bdd"/>
<circle cx="1172.4" cy="536.2" r="14.0" fill="#4230c6"/>
<circle cx="1172.4" cy="552.1" r="14.0" fill="#463bdd"/>
<circle cx="1172.4" cy="568.1" r="14.0" fill="#4230c6"/>
<circle cx="1172.4" cy="584.0" r="14.0" fill="#463bdd"/>
<circle cx="1193.4" cy="122.0" r="14.0" fill="#463bdd"/>
<circle cx="1193.4" cy="137.9" r="14.0" fill="#4230c6"/>
<circle cx="1193.4" cy="153.9" r="14.0" fill="#463bdd"/>
<circle cx="1193.4" cy="169.8" r="14.0" fill="#3e26a8"/>
<circle cx="1193.4" cy="185.7" r="14.0" fill="#463bdd"/>
<circle cx="1193.4" cy="201.7" r="14.0" fill="#463bdd"/>
<circle cx="1193.4" cy="217.6" r="14.0" fill="#463bdd"/>
<circle cx="1193.4" cy="233.5" r="14.0" fill="#4850f2"/>
<circle cx="1193.4" cy="249.4" r="14.0" fill="#3e6cfe"/>
<circle cx="1193.4" cy="265.4" r="14.0" fill="#2a8cf1"/>
<circle cx="1193.4" cy="281.3" r="14.0" fill="#56c97d"/>
<circle cx="1193.4" cy="297.2" r="14.0" fill="#f8bc3a"/>
<circle cx="1193.4" cy="313.2" r="14.0" fill="#f8bc3a"/>
<circle cx="1193.4" cy="329.1" r="14.0" fill="#26c2a5"/>
<circle cx="1193.4" cy="345.0" r="14.0" fill="#4850f2"/>
<circle cx="1193.4" cy="361.0" r="14.0" fill="#4850f2"/>
<circle cx="1193.4" cy="376.9" r="14.0" fill="#4850f2"/>
<circle cx="1193.4" cy="392.8" r="14.0" fill="#2a8cf1"/>
<circle cx="1193.4" cy="408.8" r="14.0" fill="#2a8cf1"/>
<circle cx="1193.4" cy="424.7" r="14.0" fill="#4850f2"/>
<circle cx="1193.4" cy="440.6" r="14.0" fill="#4230c6"/>
<circle cx="1193.4" cy="456.6" r="14.0" fill="#463bdd"/>
<circle cx="1193.4" cy="472.5" r="14.0" fill="#463bdd"/>
<circle cx="1193.4" cy="488.4" r="14.0" fill="#4230c6"/>
<circle cx="1193.4" cy="504.3" r="14.0" fill="#4230c6"/>
<circle cx="1193.4" cy="520.3" r="14.0" fill="#4230c6"/>
<circle cx="1193.4" cy="536.2" r="14.0" fill="#463bdd"/>
<circle cx="1193.4" cy="552.1" r="14.0" fill="#463bdd"/>
<circle cx="1193.4" cy="568.1" r="14.0" fill="#4230c6"/>
<circle cx="1193.4" cy="584.0" r="14.0" fill="#463bdd"/>
<circle cx="1214.3" cy="122.0" r="14.0" fill="#4850f2"/>
<circle cx="1214.3" cy="137.9" r="14.0" fill="#4850f2"/>
<circle cx="1214.3" cy="153.9" r="14.0" fill="#463bdd"/>
<circle cx="1214.3" cy="169.8" r="14.0" fill="#463bdd"/>
<circle cx="1214.3" cy="185.7" r="14.0" fill="#463bdd"/>
<circle cx="1214.3" cy="201.7" r="14.0" fill="#463bdd"/>
<circle cx="1214.3" cy="217.6" r="14.0" fill="#463bdd"/>
<circle cx="1214.3" cy="233.5" r="14.0" fill="#4850f2"/>
<circle cx="1214.3" cy="249.4" r="14.0" fill="#3e6cfe"/>
<circle cx="1214.3" cy="265.4" r="14.0" fill="#1ca8dc"/>
<circle cx="1214.3" cy="281.3" r="14.0" fill="#0fb6c6"/>
<circle cx="1214.3" cy="297.2" r="14.0" fill="#0fb6c6"/>
<circle cx="1214.3" cy="313.2" r="14.0" fill="#2a8cf1"/>
<circle cx="1214.3" cy="329.1" r="14.0" fill="#2a8cf1"/>
<circle cx="1214.3" cy="345.0" r="14.0" fill="#4850f2"/>
<circle cx="1214.3" cy="361.0" r="14.0" fill="#2a8cf1"/>
<circle cx="1214.3" cy="376.9" r="14.0" fill="#3e6cfe"/>
<circle cx="1214.3" cy="392.8" r="14.0" fill="#2a8cf1"/>
<circle cx="1214.3" cy="408.8" r="14.0" fill="#2a8cf1"/>
<circle cx="1214.3" cy="424.7" r="14.0" fill="#4850f2"/>
<circle cx="1214.3" cy="440.6" r="14.0" fill="#463bdd"/>
<circle cx="1214.3" cy="456.6" r="14.0" fill="#463bdd"/>
<circle cx="1214.3" cy="472.5" r="14.0" fill="#3e26a8"/>
<circle cx="1214.3" cy="488.4" r="14.0" fill="#463bdd"/>
<circle cx="1214.3" cy="504.3" r="14.0" fill="#4230c6"/>
<circle cx="1214.3" cy="520.3" r="14.0" fill="#463bdd"/>
<circle cx="1214.3" cy="536.2" r="14.0" fill="#463bdd"/>
<circle cx="1214.3" cy="552.1" r="14.0" fill="#463bdd"/>
<circle cx="1214.3" cy="568.1" r="14.0" fill="#4230c6"/>
<circle cx="1214.3" cy="584.0" r="14.0" fill="#463bdd"/>
<circle cx="1235.3" cy="122.0" r="14.0" fill="#463bdd"/>
<circle cx="1235.3" cy="137.9" r="14.0" fill="#4850f2"/>
<circle cx="1235.3" cy="153.9" r="14.0" fill="#463bdd"/>
<circle cx="1235.3" cy="169.8" r="14.0" fill="#463bdd"/>
<circle cx="1235.3" cy="185.7" r="14.0" fill="#463bdd"/>
<circle cx="1235.3" cy="201.7" r="14.0" fill="#463bdd"/>
<circle cx="1235.3" cy="217.6" r="14.0" fill="#463bdd"/>
<circle cx="1235.3" cy="233.5" r="14.0" fill="#4850f2"/>
<circle cx="1235.3" cy="249.4" r="14.0" fill="#4850f2"/>
<circle cx="1235.3" cy="265.4" r="14.0" fill="#2a8cf1"/>
<circle cx="1235.3" cy="281.3" r="14.0" fill="#2a8cf1"/>
<circle cx="1235.3" cy="297.2" r="14.0" fill="#2a8cf1"/>
<circle cx="1235.3" cy="313.2" r="14.0" fill="#2a8cf1"/>
<circle cx="1235.3" cy="329.1" r="14.0" fill="#3e6cfe"/>
<circle cx="1235.3" cy="345.0" r="14.0" fill="#3e6cfe"/>
<circle cx="1235.3" cy="361.0" r="14.0" fill="#91c955"/>
<circle cx="1235.3" cy="376.9" r="14.0" fill="#26c2a5"/>
<circle cx="1235.3" cy="392.8" r="14.0" fill="#1ca8dc"/>
<circle cx="1235.3" cy="408.8" r="14.0" fill="#2a8cf1"/>
<circle cx="1235.3" cy="424.7" r="14.0" fill="#4850f2"/>
<circle cx="1235.3" cy="440.6" r="14.0" fill="#4850f2"/>
<circle cx="1235.3" cy="456.6" r="14.0" fill="#463bdd"/>
<circle cx="1235.3" cy="472.5" r="14.0" fill="#4230c6"/>
<circle cx="1235.3" cy="488.4" r="14.0" fill="#463bdd"/>
<circle cx="1235.3" cy="504.3" r="14.0" fill="#463bdd"/>
<circle cx="1235.3" cy="520.3" r="14.0" fill="#463bdd"/>
<circle cx="1235.3" cy="536.2" r="14.0" fill="#463bdd"/>
<circle cx="1235.3" cy="552.1" r="14.0" fill="#463bdd"/>
<circle cx="1235.3" cy="568.1" r="14.0" fill="#463bdd"/>
<circle cx="1235.3" cy="584.0" r="14.0" fill="#463bdd"/>
<circle cx="1256.3" cy="122.0" r="14.0" fill="#463bdd"/>
<circle cx="1256.3" cy="137.9" r="14.0" fill="#463bdd"/>
<circle cx="1256.3" cy="153.9" r="14.0" fill="#4230c6"/>
<circle cx="1256.3" cy="169.8" r="14.0" fill="#463bdd"/>
<circle cx="1256.3" cy="185.7" r="14.0" fill="#463bdd"/>
<circle cx="1256.3" cy="201.7" r="14.0" fill="#463bdd"/>
<circle cx="1256.3" cy="217.6" r="14.0" fill="#463bdd"/>
<circle cx="1256.3" cy="233.5" r="14.0" fill="#4850f2"/>
<circle cx="1256.3" cy="249.4" r="14.0" fill="#4850f2"/>
<circle cx="1256.3" cy="265.4" r="14.0" fill="#3e26a8"/>
<circle cx="1256.3" cy="281.3" r="14.0" fill="#3e6cfe"/>
<circle cx="1256.3" cy="297.2" r="14.0" fill="#2a8cf1"/>
<circle cx="1256.3" cy="313.2" r="14.0" fill="#2a8cf1"/>
<circle cx="1256.3" cy="329.1" r="14.0" fill="#463bdd"/>
<circle cx="1256.3" cy="345.0" r="14.0" fill="#2a8cf1"/>
<circle cx="1256.3" cy="361.0" r="14.0" fill="#0fb6c6"/>
<circle cx="1256.3" cy="376.9" r="14.0" fill="#56c97d"/>
<circle cx="1256.3" cy="392.8" r="14.0" fill="#0fb6c6"/>
<circle cx="1256.3" cy="408.8" r="14.0" fill="#3e6cfe"/>
<circle cx="1256.3" cy="424.7" r="14.0" fill="#4850f2"/>
<circle cx="1256.3" cy="440.6" r="14.0" fill="#4230c6"/>
<circle cx="1256.3" cy="456.6" r="14.0" fill="#4230c6"/>
<circle cx="1256.3" cy="472.5" r="14.0" fill="#463bdd"/>
<circle cx="1256.3" cy="488.4" r="14.0" fill="#463bdd"/>
<circle cx="1256.3" cy="504.3" r="14.0" fill="#463bdd"/>
<circle cx="1256.3" cy="520.3" r="14.0" fill="#463bdd"/>
<circle cx="1256.3" cy="536.2" r="14.0" fill="#463bdd"/>
<circle cx="1256.3" cy="552.1" r="14.0" fill="#463bdd"/>
<circle cx="1256.3" cy="568.1" r="14.0" fill="#463bdd"/>
<circle cx="1256.3" cy="584.0" r="14.0" fill="#463bdd"/>
<circle cx="1277.2" cy="122.0" r="14.0" fill="#463bdd"/>
<circle cx="1277.2" cy="137.9" r="14.0" fill="#4230c6"/>
<circle cx="1277.2" cy="153.9" r="14.0" fill="#463bdd"/>
<circle cx="1277.2" cy="169.8" r="14.0" fill="#463bdd"/>
<circle cx="1277.2" cy="185.7" r="14.0" fill="#4230c6"/>
<circle cx="1277.2" cy="201.7" r="14.0" fill="#463bdd"/>
<circle cx="1277.2" cy="217.6" r="14.0" fill="#463bdd"/>
<circle cx="1277.2" cy="233.5" r="14.0" fill="#4850f2"/>
<circle cx="1277.2" cy="249.4" r="14.0" fill="#3e6cfe"/>
<circle cx="1277.2" cy="265.4" r="14.0" fill="#463bdd"/>
<circle cx="1277.2" cy="281.3" r="14.0" fill="#4850f2"/>
<circle cx="1277.2" cy="297.2" r="14.0" fill="#2a8cf1"/>
<circle cx="1277.2" cy="313.2" r="14.0" fill="#1ca8dc"/>
<circle cx="1277.2" cy="329.1" r="14.0" fill="#1ca8dc"/>
<circle cx="1277.2" cy="345.0" r="14.0" fill="#2a8cf1"/>
<circle cx="1277.2" cy="361.0" r="14.0" fill="#0fb6c6"/>
<circle cx="1277.2" cy="376.9" r="14.0" fill="#56c97d"/>
<circle cx="1277.2" cy="392.8" r="14.0" fill="#0fb6c6"/>
<circle cx="1277.2" cy="408.8" r="14.0" fill="#3e6cfe"/>
<circle cx="1277.2" cy="424.7" r="14.0" fill="#4850f2"/>
<circle cx="1277.2" cy="440.6" r="14.0" fill="#463bdd"/>
<circle cx="1277.2" cy="456.6" r="14.0" fill="#463bdd"/>
<circle cx="1277.2" cy="472.5" r="14.0" fill="#463bdd"/>
<circle cx="1277.2" cy="488.4" r="14.0" fill="#463bdd"/>
<circle cx="1277.2" cy="504.3" r="14.0" fill="#3e26a8"/>
<circle cx="1277.2" cy="520.3" r="14.0" fill="#463bdd"/>
<circle cx="1277.2" cy="536.2" r="14.0" fill="#463bdd"/>
<circle cx="1277.2" cy="552.1" r="14.0" fill="#463bdd"/>
<circle cx="1277.2" cy="568.1" r="14.0" fill="#3e26a8"/>
<circle cx="1277.2" cy="584.0" r="14.0" fill="#463bdd"/>
<circle cx="1298.2" cy="122.0" r="14.0" fill="#4230c6"/>
<circle cx="1298.2" cy="137.9" r="14.0" fill="#4230c6"/>
<circle cx="1298.2" cy="153.9" r="14.0" fill="#463bdd"/>
<circle cx="1298.2" cy="169.8" r="14.0" fill="#463bdd"/>
<circle cx="1298.2" cy="185.7" r="14.0" fill="#463bdd"/>
<circle cx="1298.2" cy="201.7" r="14.0" fill="#463bdd"/>
<circle cx="1298.2" cy="217.6" r="14.0" fill="#3e6cfe"/>
<circle cx="1298.2" cy="233.5" r="14.0" fill="#463bdd"/>
<circle cx="1298.2" cy="249.4" r="14.0" fill="#4850f2"/>
<circle cx="1298.2" cy="265.4" r="14.0" fill="#3e6cfe"/>
<circle cx="1298.2" cy="281.3" r="14.0" fill="#3e6cfe"/>
<circle cx="1298.2" cy="297.2" r="14.0" fill="#3e6cfe"/>
<circle cx="1298.2" cy="313.2" r="14.0" fill="#3e6cfe"/>
<circle cx="1298.2" cy="329.1" r="14.0" fill="#4850f2"/>
<circle cx="1298.2" cy="345.0" r="14.0" fill="#3e6cfe"/>
<circle cx="1298.2" cy="361.0" r="14.0" fill="#4850f2"/>
<circle cx="1298.2" cy="376.9" r="14.0" fill="#2a8cf1"/>
<circle cx="1298.2" cy="392.8" r="14.0" fill="#2a8cf1"/>
<circle cx="1298.2" cy="408.8" r="14.0" fill="#3e6cfe"/>
<circle cx="1298.2" cy="424.7" r="14.0" fill="#4230c6"/>
<circle cx="1298.2" cy="440.6" r="14.0" fill="#4230c6"/>
<circle cx="1298.2" cy="456.6" r="14.0" fill="#463bdd"/>
<circle cx="1298.2" cy="472.5" r="14.0" fill="#463bdd"/>
<circle cx="1298.2" cy="488.4" r="14.0" fill="#3e26a8"/>
<circle cx="1298.2" cy="504.3" r="14.0" fill="#463bdd"/>
<circle cx="1298.2" cy="520.3" r="14.0" fill="#463bdd"/>
<circle cx="1298.2" cy="536.2" r="14.0" fill="#463bdd"/>
<circle cx="1298.2" cy="552.1" r="14.0" fill="#463bdd"/>
<circle cx="1298.2" cy="568.1" r="14.0" fill="#463bdd"/>
<circle cx="1298.2" cy="584.0" r="14.0" fill="#463bdd"/>
<circle cx="1319.2" cy="122.0" r="14.0" fill="#4230c6"/>
<circle cx="1319.2" cy="137.9" r="14.0" fill="#463bdd"/>
<circle cx="1319.2" cy="153.9" r="14.0" fill="#4230c6"/>
<circle cx="1319.2" cy="169.8" r="14.0" fill="#4230c6"/>
<circle cx="1319.2" cy="185.7" r="14.0" fill="#463bdd"/>
<circle cx="1319.2" cy="201.7" r="14.0" fill="#3e6cfe"/>
<circle cx="1319.2" cy="217.6" r="14.0" fill="#463bdd"/>
<circle cx="1319.2" cy="233.5" r="14.0" fill="#4850f2"/>
<circle cx="1319.2" cy="249.4" r="14.0" fill="#3e6cfe"/>
<circle cx="1319.2" cy="265.4" r="14.0" fill="#4850f2"/>
<circle cx="1319.2" cy="281.3" r="14.0" fill="#3e6cfe"/>
<circle cx="1319.2" cy="297.2" r="14.0" fill="#4230c6"/>
<circle cx="1319.2" cy="313.2" r="14.0" fill="#463bdd"/>
<circle cx="1319.2" cy="329.1" r="14.0" fill="#463bdd"/>
<circle cx="1319.2" cy="345.0" r="14.0" fill="#463bdd"/>
<circle cx="1319.2" cy="361.0" r="14.0" fill="#463bdd"/>
<circle cx="1319.2" cy="376.9" r="14.0" fill="#2a8cf1"/>
<circle cx="1319.2" cy="392.8" r="14.0" fill="#2a8cf1"/>
<circle cx="1319.2" cy="408.8" r="14.0" fill="#3e6cfe"/>
<circle cx="1319.2" cy="424.7" r="14.0" fill="#3e26a8"/>
<circle cx="1319.2" cy="440.6" r="14.0" fill="#4230c6"/>
<circle cx="1319.2" cy="456.6" r="14.0" fill="#463bdd"/>
<circle cx="1319.2" cy="472.5" r="14.0" fill="#463bdd"/>
<circle cx="1319.2" cy="488.4" r="14.0" fill="#4230c6"/>
<circle cx="1319.2" cy="504.3" r="14.0" fill="#463bdd"/>
<circle cx="1319.2" cy="520.3" r="14.0" fill="#463bdd"/>
<circle cx="1319.2" cy="536.2" r="14.0" fill="#463bdd"/>
<circle cx="1319.2" cy="552.1" r="14.0" fill="#463bdd"/>
<circle cx="1319.2" cy="568.1" r="14.0" fill="#463bdd"/>
<circle cx="1319.2" cy="584.0" r="14.0" fill="#463bdd"/>
<circle cx="1340.1" cy="122.0" r="14.0" fill="#4230c6"/>
<circle cx="1340.1" cy="137.9" r="14.0" fill="#4850f2"/>
<circle cx="1340.1" cy="153.9" r="14.0" fill="#4230c6"/>
<circle cx="1340.1" cy="169.8" r="14.0" fill="#3e26a8"/>
<circle cx="1340.1" cy="185.7" r="14.0" fill="#463bdd"/>
<circle cx="1340.1" cy="201.7" r="14.0" fill="#463bdd"/>
<circle cx="1340.1" cy="217.6" r="14.0" fill="#4230c6"/>
<circle cx="1340.1" cy="233.5" r="14.0" fill="#463bdd"/>
<circle cx="1340.1" cy="249.4" r="14.0" fill="#463bdd"/>
<circle cx="1340.1" cy="265.4" r="14.0" fill="#463bdd"/>
<circle cx="1340.1" cy="281.3" r="14.0" fill="#3e26a8"/>
<circle cx="1340.1" cy="297.2" r="14.0" fill="#3e26a8"/>
<circle cx="1340.1" cy="313.2" r="14.0" fill="#4230c6"/>
<circle cx="1340.1" cy="329.1" r="14.0" fill="#463bdd"/>
<circle cx="1340.1" cy="345.0" r="14.0" fill="#463bdd"/>
<circle cx="1340.1" cy="361.0" r="14.0" fill="#4850f2"/>
<circle cx="1340.1" cy="376.9" r="14.0" fill="#3e6cfe"/>
<circle cx="1340.1" cy="392.8" r="14.0" fill="#2a8cf1"/>
<circle cx="1340.1" cy="408.8" r="14.0" fill="#3e6cfe"/>
<circle cx="1340.1" cy="424.7" r="14.0" fill="#463bdd"/>
<circle cx="1340.1" cy="440.6" r="14.0" fill="#463bdd"/>
<circle cx="1340.1" cy="456.6" r="14.0" fill="#463bdd"/>
<circle cx="1340.1" cy="472.5" r="14.0" fill="#463bdd"/>
<circle cx="1340.1" cy="488.4" r="14.0" fill="#463bdd"/>
<circle cx="1340.1" cy="504.3" r="14.0" fill="#4850f2"/>
<circle cx="1340.1" cy="520.3" r="14.0" fill="#463bdd"/>
<circle cx="1340.1" cy="536.2" r="14.0" fill="#463bdd"/>
<circle cx="1340.1" cy="552.1" r="14.0" fill="#463bdd"/>
<circle cx="1340.1" cy="568.1" r="14.0" fill="#4850f2"/>
<circle cx="1340.1" cy="584.0" r="14.0" fill="#2a8cf1"/>
<circle cx="1361.1" cy="122.0" r="14.0" fill="#463bdd"/>
<circle cx="1361.1" cy="137.9" r="14.0" fill="#463bdd"/>
<circle cx="1361.1" cy="153.9" r="14.0" fill="#4230c6"/>
<circle cx="1361.1" cy="169.8" r="14.0" fill="#463bdd"/>
<circle cx="1361.1" cy="185.7" r="14.0" fill="#4230c6"/>
<circle cx="1361.1" cy="201.7" r="14.0" fill="#4230c6"/>
<circle cx="1361.1" cy="217.6" r="14.0" fill="#3e26a8"/>
<circle cx="1361.1" cy="233.5" r="14.0" fill="#463bdd"/>
<circle cx="1361.1" cy="249.4" r="14.0" fill="#463bdd"/>
<circle cx="1361.1" cy="265.4" r="14.0" fill="#3e26a8"/>
<circle cx="1361.1" cy="281.3" r="14.0" fill="#3e26a8"/>
<circle cx="1361.1" cy="297.2" r="14.0" fill="#3e26a8"/>
<circle cx="1361.1" cy="313.2" r="14.0" fill="#4230c6"/>
<circle cx="1361.1" cy="329.1" r="14.0" fill="#4230c6"/>
<circle cx="1361.1" cy="345.0" r="14.0" fill="#4230c6"/>
<circle cx="1361.1" cy="361.0" r="14.0" fill="#463bdd"/>
<circle cx="1361.1" cy="376.9" r="14.0" fill="#463bdd"/>
<circle cx="1361.1" cy="392.8" r="14.0" fill="#463bdd"/>
<circle cx="1361.1" cy="408.8" r="14.0" fill="#463bdd"/>
<circle cx="1361.1" cy="424.7" r="14.0" fill="#463bdd"/>
<circle cx="1361.1" cy="440.6" r="14.0" fill="#463bdd"/>
<circle cx="1361.1" cy="456.6" r="14.0" fill="#463bdd"/>
<circle cx="1361.1" cy="472.5" r="14.0" fill="#463bdd"/>
<circle cx="1361.1" cy="488.4" r="14.0" fill="#4850f2"/>
<circle cx="1361.1" cy="504.3" r="14.0" fill="#4850f2"/>
<circle cx="1361.1" cy="520.3" r="14.0" fill="#463bdd"/>
<circle cx="1361.1" cy="536.2" r="14.0" fill="#463bdd"/>
<circle cx="1361.1" cy="552.1" r="14.0" fill="#463bdd"/>
<circle cx="1361.1" cy="568.1" r="14.0" fill="#2a8cf1"/>
<circle cx="1361.1" cy="584.0" r="14.0" fill="#2a8cf1"/>
<circle cx="1382.1" cy="122.0" r="14.0" fill="#463bdd"/>
<circle cx="1382.1" cy="137.9" r="14.0" fill="#4230c6"/>
<circle cx="1382.1" cy="153.9" r="14.0" fill="#4230c6"/>
<circle cx="1382.1" cy="169.8" r="14.0" fill="#4230c6"/>
<circle cx="1382.1" cy="185.7" r="14.0" fill="#4230c6"/>
<circle cx="1382.1" cy="201.7" r="14.0" fill="#4230c6"/>
<circle cx="1382.1" cy="217.6" r="14.0" fill="#4230c6"/>
<circle cx="1382.1" cy="233.5" r="14.0" fill="#463bdd"/>
<circle cx="1382.1" cy="249.4" r="14.0" fill="#4230c6"/>
<circle cx="1382.1" cy="265.4" r="14.0" fill="#3e26a8"/>
<circle cx="1382.1" cy="281.3" r="14.0" fill="#3e26a8"/>
<circle cx="1382.1" cy="297.2" r="14.0" fill="#4230c6"/>
<circle cx="1382.1" cy="313.2" r="14.0" fill="#463bdd"/>
<circle cx="1382.1" cy="329.1" r="14.0" fill="#463bdd"/>
<circle cx="1382.1" cy="345.0" r="14.0" fill="#4230c6"/>
<circle cx="1382.1" cy="361.0" r="14.0" fill="#4230c6"/>
<circle cx="1382.1" cy="376.9" r="14.0" fill="#4230c6"/>
<circle cx="1382.1" cy="392.8" r="14.0" fill="#4230c6"/>
<circle cx="1382.1" cy="408.8" r="14.0" fill="#4230c6"/>
<circle cx="1382.1" cy="424.7" r="14.0" fill="#4230c6"/>
<circle cx="1382.1" cy="440.6" r="14.0" fill="#4230c6"/>
<circle cx="1382.1" cy="456.6" r="14.0" fill="#463bdd"/>
<circle cx="1382.1" cy="472.5" r="14.0" fill="#463bdd"/>
<circle cx="1382.1" cy="488.4" r="14.0" fill="#463bdd"/>
<circle cx="1382.1" cy="504.3" r="14.0" fill="#463bdd"/>
<circle cx="1382.1" cy="520.3" r="14.0" fill="#4850f2"/>
<circle cx="1382.1" cy="536.2" r="14.0" fill="#463bdd"/>
<circle cx="1382.1" cy="552.1" r="14.0" fill="#4230c6"/>
<circle cx="1382.1" cy="568.1" r="14.0" fill="#3e26a8"/>
<circle cx="1382.1" cy="584.0" r="14.0" fill="#463bdd"/>
<circle cx="1403.0" cy="122.0" r="14.0" fill="#463bdd"/>
<circle cx="1403.0" cy="137.9" r="14.0" fill="#4230c6"/>
<circle cx="1403.0" cy="153.9" r="14.0" fill="#4230c6"/>
<circle cx="1403.0" cy="169.8" r="14.0" fill="#4230c6"/>
<circle cx="1403.0" cy="185.7" r="14.0" fill="#3e26a8"/>
<circle cx="1403.0" cy="201.7" r="14.0" fill="#3e26a8"/>
<circle cx="1403.0" cy="217.6" r="14.0" fill="#3e26a8"/>
<circle cx="1403.0" cy="233.5" r="14.0" fill="#4230c6"/>
<circle cx="1403.0" cy="249.4" r="14.0" fill="#463bdd"/>
<circle cx="1403.0" cy="265.4" r="14.0" fill="#4230c6"/>
<circle cx="1403.0" cy="281.3" r="14.0" fill="#4230c6"/>
<circle cx="1403.0" cy="297.2" r="14.0" fill="#463bdd"/>
<circle cx="1403.0" cy="313.2" r="14.0" fill="#463bdd"/>
<circle cx="1403.0" cy="329.1" r="14.0" fill="#4850f2"/>
<circle cx="1403.0" cy="345.0" r="14.0" fill="#4230c6"/>
<circle cx="1403.0" cy="361.0" r="14.0" fill="#4850f2"/>
<circle cx="1403.0" cy="376.9" r="14.0" fill="#4850f2"/>
<circle cx="1403.0" cy="392.8" r="14.0" fill="#4230c6"/>
<circle cx="1403.0" cy="408.8" r="14.0" fill="#4230c6"/>
<circle cx="1403.0" cy="424.7" r="14.0" fill="#4850f2"/>
<circle cx="1403.0" cy="440.6" r="14.0" fill="#463bdd"/>
<circle cx="1403.0" cy="456.6" r="14.0" fill="#463bdd"/>
<circle cx="1403.0" cy="472.5" r="14.0" fill="#4850f2"/>
<circle cx="1403.0" cy="488.4" r="14.0" fill="#463bdd"/>
<circle cx="1403.0" cy="504.3" r="14.0" fill="#463bdd"/>
<circle cx="1403.0" cy="520.3" r="14.0" fill="#463bdd"/>
<circle cx="1403.0" cy="536.2" r="14.0" fill="#463bdd"/>
<circle cx="1403.0" cy="552.1" r="14.0" fill="#463bdd"/>
<circle cx="1403.0" cy="568.1" r="14.0" fill="#4230c6"/>
<circle cx="1403.0" cy="584.0" r="14.0" fill="#463bdd"/>
<circle cx="1424.0" cy="122.0" r="14.0" fill="#463bdd"/>
<circle cx="1424.0" cy="137.9" r="14.0" fill="#4230c6"/>
<circle cx="1424.0" cy="153.9" r="14.0" fill="#463bdd"/>
<circle cx="1424.0" cy="169.8" r="14.0" fill="#4850f2"/>
<circle cx="1424.0" cy="185.7" r="14.0" fill="#4850f2"/>
<circle cx="1424.0" cy="201.7" r="14.0" fill="#4850f2"/>
<circle cx="1424.0" cy="217.6" r="14.0" fill="#463bdd"/>
<circle cx="1424.0" cy="233.5" r="14.0" fill="#463bdd"/>
<circle cx="1424.0" cy="249.4" r="14.0" fill="#463bdd"/>
<circle cx="1424.0" cy="265.4" r="14.0" fill="#463bdd"/>
<circle cx="1424.0" cy="281.3" r="14.0" fill="#463bdd"/>
<circle cx="1424.0" cy="297.2" r="14.0" fill="#4850f2"/>
<circle cx="1424.0" cy="313.2" r="14.0" fill="#4850f2"/>
<circle cx="1424.0" cy="329.1" r="14.0" fill="#4850f2"/>
<circle cx="1424.0" cy="345.0" r="14.0" fill="#4850f2"/>
<circle cx="1424.0" cy="361.0" r="14.0" fill="#3e6cfe"/>
<circle cx="1424.0" cy="376.9" r="14.0" fill="#3e6cfe"/>
<circle cx="1424.0" cy="392.8" r="14.0" fill="#463bdd"/>
<circle cx="1424.0" cy="408.8" r="14.0" fill="#463bdd"/>
<circle cx="1424.0" cy="424.7" r="14.0" fill="#4850f2"/>
<circle cx="1424.0" cy="440.6" r="14.0" fill="#463bdd"/>
<circle cx="1424.0" cy="456.6" r="14.0" fill="#3e6cfe"/>
<circle cx="1424.0" cy="472.5" r="14.0" fill="#4850f2"/>
<circle cx="1424.0" cy="488.4" r="14.0" fill="#463bdd"/>
<circle cx="1424.0" cy="504.3" r="14.0" fill="#463bdd"/>
<circle cx="1424.0" cy="520.3" r="14.0" fill="#463bdd"/>
<circle cx="1424.0" cy="536.2" r="14.0" fill="#463bdd"/>
<circle cx="1424.0" cy="552.1" r="14.0" fill="#463bdd"/>
<circle cx="1424.0" cy="568.1" r="14.0" fill="#463bdd"/>
<circle cx="1424.0" cy="584.0" r="14.0" fill="#463bdd"/>
<path d="M1094.8,146.5 C1099.3,146.5 1105.2,149.5 1110.0,152.0 C1114.8,154.5 1117.2,156.6 1123.3,161.7 C1129.4,166.8 1138.9,177.3 1146.7,182.7 C1154.5,188.1 1160.3,190.8 1170.0,194.3 C1179.7,197.8 1194.5,201.3 1205.0,203.7 C1215.5,206.0 1224.0,205.3 1233.0,208.4 C1242.0,211.5 1249.8,216.6 1258.7,222.4 C1267.7,228.2 1278.2,236.0 1286.7,243.4 C1295.2,250.8 1302.6,258.1 1310.0,266.7 C1317.4,275.2 1324.4,285.0 1331.0,294.7 C1337.6,304.4 1344.2,313.3 1349.7,325.0 C1355.2,336.7 1359.4,350.3 1363.7,364.7 C1368.0,379.1 1371.9,395.8 1375.4,411.4 C1378.9,426.9 1382.0,442.4 1384.7,458.0 C1387.4,473.6 1390.2,491.1 1391.7,504.7 C1393.2,518.3 1394.4,529.6 1394.0,539.7 C1393.6,549.8 1392.5,559.2 1389.4,565.4 C1386.3,571.6 1380.1,575.8 1375.4,577.0 C1370.7,578.2 1366.5,575.5 1361.4,572.4 C1356.3,569.3 1351.6,563.5 1345.0,558.4 C1338.4,553.3 1329.5,547.1 1321.7,542.0 C1313.9,536.9 1308.1,533.8 1298.4,528.0 C1288.7,522.2 1275.1,513.2 1263.4,507.0 C1251.7,500.8 1240.1,495.8 1228.4,490.7 C1216.7,485.6 1205.1,481.4 1193.4,476.7 C1181.7,472.0 1170.5,466.1 1158.3,462.7 C1146.1,459.2 1132.7,458.4 1120.0,456.0 C1107.3,453.6 1093.8,452.9 1082.0,448.6 C1070.2,444.3 1057.9,437.0 1049.3,430.0 C1040.7,423.0 1035.6,415.6 1030.6,406.6 C1025.5,397.7 1021.1,387.2 1019.0,376.3 C1016.9,365.4 1016.6,353.0 1017.8,341.3 C1019.0,329.6 1022.3,318.0 1026.0,306.3 C1029.7,294.6 1035.3,283.0 1040.0,271.3 C1044.7,259.6 1049.7,248.0 1054.0,236.3 C1058.3,224.6 1062.1,213.0 1065.6,201.3 C1069.1,189.6 1072.1,174.5 1075.0,166.3 C1077.9,158.1 1079.7,155.3 1083.0,152.0 C1086.3,148.7 1090.3,146.5 1094.8,146.5Z" fill="none" stroke="#a8238c" stroke-width="6.3"/>
<defs><linearGradient id="pg1" x1="0" x2="1" y1="0" y2="0"><stop offset="0.0" stop-color="#3e26a8"/><stop offset="0.04" stop-color="#4230c6"/><stop offset="0.08" stop-color="#463bdd"/><stop offset="0.12" stop-color="#4849ed"/><stop offset="0.16" stop-color="#4757f7"/><stop offset="0.2" stop-color="#4465fd"/><stop offset="0.24" stop-color="#3974fe"/><stop offset="0.3" stop-color="#2d87f6"/><stop offset="0.36" stop-color="#2597e8"/><stop offset="0.42" stop-color="#1ca8dc"/><stop offset="0.48" stop-color="#0db4cb"/><stop offset="0.54" stop-color="#1abfb0"/><stop offset="0.6" stop-color="#3ec78e"/><stop offset="0.66" stop-color="#6dcb6c"/><stop offset="0.72" stop-color="#a3c84a"/><stop offset="0.76" stop-color="#c7c234"/><stop offset="0.8" stop-color="#e8bb36"/><stop offset="0.84" stop-color="#fdbd3c"/><stop offset="0.88" stop-color="#f9cc33"/><stop offset="0.92" stop-color="#f5dc2b"/><stop offset="0.96" stop-color="#f4ec22"/><stop offset="1.0" stop-color="#f9fb15"/></linearGradient></defs><rect x="815.8" y="612.8" width="614.4" height="35.4" fill="url(#pg1)" stroke="#231f20" stroke-width="5.6"/>
<text x="815" y="84.3" font-size="49" text-anchor="start" font-weight="normal" fill="#231f20" textLength="227" lengthAdjust="spacingAndGlyphs" >HyperAcet</text>
<text x="994" y="707" font-size="43" text-anchor="middle" font-weight="normal" fill="#231f20" >2</text>
<text x="1160" y="707" font-size="43" text-anchor="middle" font-weight="normal" fill="#231f20" >4</text>
<text x="1330.5" y="707" font-size="43" text-anchor="middle" font-weight="normal" fill="#231f20" >6</text>
<text x="865.5" y="765" font-size="43" text-anchor="start" font-weight="normal" fill="#231f20" textLength="472" lengthAdjust="spacingAndGlyphs" >Traction magnitude (Pa)</text>
<circle cx="1522.7" cy="117.2" r="13.2" fill="#402cbb"/>
<circle cx="1522.7" cy="133.2" r="13.2" fill="#4437d4"/>
<circle cx="1522.7" cy="149.2" r="13.2" fill="#4437d4"/>
<circle cx="1522.7" cy="165.2" r="13.2" fill="#4437d4"/>
<circle cx="1522.7" cy="181.1" r="13.2" fill="#4744e7"/>
<circle cx="1522.7" cy="197.1" r="13.2" fill="#4744e7"/>
<circle cx="1522.7" cy="213.1" r="13.2" fill="#4744e7"/>
<circle cx="1522.7" cy="229.1" r="13.2" fill="#4437d4"/>
<circle cx="1522.7" cy="245.1" r="13.2" fill="#4744e7"/>
<circle cx="1522.7" cy="261.1" r="13.2" fill="#3876fd"/>
<circle cx="1522.7" cy="277.1" r="13.2" fill="#3876fd"/>
<circle cx="1522.7" cy="293.0" r="13.2" fill="#3876fd"/>
<circle cx="1522.7" cy="309.0" r="13.2" fill="#3876fd"/>
<circle cx="1522.7" cy="325.0" r="13.2" fill="#3876fd"/>
<circle cx="1522.7" cy="341.0" r="13.2" fill="#3876fd"/>
<circle cx="1522.7" cy="357.0" r="13.2" fill="#3876fd"/>
<circle cx="1522.7" cy="373.0" r="13.2" fill="#3876fd"/>
<circle cx="1522.7" cy="389.0" r="13.2" fill="#3876fd"/>
<circle cx="1522.7" cy="405.0" r="13.2" fill="#3876fd"/>
<circle cx="1522.7" cy="420.9" r="13.2" fill="#3876fd"/>
<circle cx="1522.7" cy="436.9" r="13.2" fill="#3876fd"/>
<circle cx="1522.7" cy="452.9" r="13.2" fill="#3876fd"/>
<circle cx="1522.7" cy="468.9" r="13.2" fill="#3876fd"/>
<circle cx="1522.7" cy="484.9" r="13.2" fill="#3876fd"/>
<circle cx="1522.7" cy="500.9" r="13.2" fill="#3876fd"/>
<circle cx="1522.7" cy="516.9" r="13.2" fill="#3876fd"/>
<circle cx="1522.7" cy="532.8" r="13.2" fill="#3876fd"/>
<circle cx="1522.7" cy="548.8" r="13.2" fill="#3876fd"/>
<circle cx="1522.7" cy="564.8" r="13.2" fill="#3876fd"/>
<circle cx="1522.7" cy="580.8" r="13.2" fill="#4437d4"/>
<circle cx="1542.6" cy="117.2" r="13.2" fill="#4759f8"/>
<circle cx="1542.6" cy="133.2" r="13.2" fill="#402cbb"/>
<circle cx="1542.6" cy="149.2" r="13.2" fill="#4437d4"/>
<circle cx="1542.6" cy="165.2" r="13.2" fill="#4437d4"/>
<circle cx="1542.6" cy="181.1" r="13.2" fill="#4744e7"/>
<circle cx="1542.6" cy="197.1" r="13.2" fill="#4744e7"/>
<circle cx="1542.6" cy="213.1" r="13.2" fill="#4744e7"/>
<circle cx="1542.6" cy="229.1" r="13.2" fill="#402cbb"/>
<circle cx="1542.6" cy="245.1" r="13.2" fill="#4437d4"/>
<circle cx="1542.6" cy="261.1" r="13.2" fill="#3876fd"/>
<circle cx="1542.6" cy="277.1" r="13.2" fill="#3876fd"/>
<circle cx="1542.6" cy="293.0" r="13.2" fill="#3876fd"/>
<circle cx="1542.6" cy="309.0" r="13.2" fill="#3876fd"/>
<circle cx="1542.6" cy="325.0" r="13.2" fill="#3876fd"/>
<circle cx="1542.6" cy="341.0" r="13.2" fill="#3876fd"/>
<circle cx="1542.6" cy="357.0" r="13.2" fill="#4759f8"/>
<circle cx="1542.6" cy="373.0" r="13.2" fill="#4759f8"/>
<circle cx="1542.6" cy="389.0" r="13.2" fill="#4759f8"/>
<circle cx="1542.6" cy="405.0" r="13.2" fill="#4744e7"/>
<circle cx="1542.6" cy="420.9" r="13.2" fill="#4744e7"/>
<circle cx="1542.6" cy="436.9" r="13.2" fill="#4744e7"/>
<circle cx="1542.6" cy="452.9" r="13.2" fill="#4744e7"/>
<circle cx="1542.6" cy="468.9" r="13.2" fill="#4759f8"/>
<circle cx="1542.6" cy="484.9" r="13.2" fill="#4759f8"/>
<circle cx="1542.6" cy="500.9" r="13.2" fill="#4744e7"/>
<circle cx="1542.6" cy="516.9" r="13.2" fill="#3876fd"/>
<circle cx="1542.6" cy="532.8" r="13.2" fill="#4759f8"/>
<circle cx="1542.6" cy="548.8" r="13.2" fill="#4759f8"/>
<circle cx="1542.6" cy="564.8" r="13.2" fill="#4744e7"/>
<circle cx="1542.6" cy="580.8" r="13.2" fill="#4744e7"/>
<circle cx="1562.4" cy="117.2" r="13.2" fill="#4759f8"/>
<circle cx="1562.4" cy="133.2" r="13.2" fill="#402cbb"/>
<circle cx="1562.4" cy="149.2" r="13.2" fill="#4437d4"/>
<circle cx="1562.4" cy="165.2" r="13.2" fill="#4437d4"/>
<circle cx="1562.4" cy="181.1" r="13.2" fill="#402cbb"/>
<circle cx="1562.4" cy="197.1" r="13.2" fill="#4437d4"/>
<circle cx="1562.4" cy="213.1" r="13.2" fill="#4437d4"/>
<circle cx="1562.4" cy="229.1" r="13.2" fill="#4437d4"/>
<circle cx="1562.4" cy="245.1" r="13.2" fill="#4744e7"/>
<circle cx="1562.4" cy="261.1" r="13.2" fill="#4759f8"/>
<circle cx="1562.4" cy="277.1" r="13.2" fill="#4759f8"/>
<circle cx="1562.4" cy="293.0" r="13.2" fill="#4759f8"/>
<circle cx="1562.4" cy="309.0" r="13.2" fill="#4759f8"/>
<circle cx="1562.4" cy="325.0" r="13.2" fill="#4744e7"/>
<circle cx="1562.4" cy="341.0" r="13.2" fill="#4744e7"/>
<circle cx="1562.4" cy="357.0" r="13.2" fill="#4759f8"/>
<circle cx="1562.4" cy="373.0" r="13.2" fill="#4759f8"/>
<circle cx="1562.4" cy="389.0" r="13.2" fill="#4759f8"/>
<circle cx="1562.4" cy="405.0" r="13.2" fill="#4759f8"/>
<circle cx="1562.4" cy="420.9" r="13.2" fill="#4759f8"/>
<circle cx="1562.4" cy="436.9" r="13.2" fill="#4759f8"/>
<circle cx="1562.4" cy="452.9" r="13.2" fill="#4759f8"/>
<circle cx="1562.4" cy="468.9" r="13.2" fill="#4759f8"/>
<circle cx="1562.4" cy="484.9" r="13.2" fill="#4759f8"/>
<circle cx="1562.4" cy="500.9" r="13.2" fill="#4437d4"/>
<circle cx="1562.4" cy="516.9" r="13.2" fill="#4437d4"/>
<circle cx="1562.4" cy="532.8" r="13.2" fill="#4437d4"/>
<circle cx="1562.4" cy="548.8" r="13.2" fill="#4437d4"/>
<circle cx="1562.4" cy="564.8" r="13.2" fill="#4437d4"/>
<circle cx="1562.4" cy="580.8" r="13.2" fill="#4437d4"/>
<circle cx="1582.3" cy="117.2" r="13.2" fill="#4744e7"/>
<circle cx="1582.3" cy="133.2" r="13.2" fill="#4437d4"/>
<circle cx="1582.3" cy="149.2" r="13.2" fill="#4437d4"/>
<circle cx="1582.3" cy="165.2" r="13.2" fill="#4437d4"/>
<circle cx="1582.3" cy="181.1" r="13.2" fill="#402cbb"/>
<circle cx="1582.3" cy="197.1" r="13.2" fill="#4437d4"/>
<circle cx="1582.3" cy="213.1" r="13.2" fill="#4744e7"/>
<circle cx="1582.3" cy="229.1" r="13.2" fill="#4744e7"/>
<circle cx="1582.3" cy="245.1" r="13.2" fill="#4744e7"/>
<circle cx="1582.3" cy="261.1" r="13.2" fill="#4759f8"/>
<circle cx="1582.3" cy="277.1" r="13.2" fill="#4759f8"/>
<circle cx="1582.3" cy="293.0" r="13.2" fill="#3876fd"/>
<circle cx="1582.3" cy="309.0" r="13.2" fill="#3876fd"/>
<circle cx="1582.3" cy="325.0" r="13.2" fill="#4744e7"/>
<circle cx="1582.3" cy="341.0" r="13.2" fill="#4744e7"/>
<circle cx="1582.3" cy="357.0" r="13.2" fill="#4744e7"/>
<circle cx="1582.3" cy="373.0" r="13.2" fill="#4744e7"/>
<circle cx="1582.3" cy="389.0" r="13.2" fill="#4759f8"/>
<circle cx="1582.3" cy="405.0" r="13.2" fill="#2793ec"/>
<circle cx="1582.3" cy="420.9" r="13.2" fill="#3876fd"/>
<circle cx="1582.3" cy="436.9" r="13.2" fill="#4437d4"/>
<circle cx="1582.3" cy="452.9" r="13.2" fill="#4759f8"/>
<circle cx="1582.3" cy="468.9" r="13.2" fill="#4759f8"/>
<circle cx="1582.3" cy="484.9" r="13.2" fill="#4759f8"/>
<circle cx="1582.3" cy="500.9" r="13.2" fill="#4759f8"/>
<circle cx="1582.3" cy="516.9" r="13.2" fill="#4759f8"/>
<circle cx="1582.3" cy="532.8" r="13.2" fill="#4759f8"/>
<circle cx="1582.3" cy="548.8" r="13.2" fill="#4437d4"/>
<circle cx="1582.3" cy="564.8" r="13.2" fill="#4744e7"/>
<circle cx="1582.3" cy="580.8" r="13.2" fill="#4744e7"/>
<circle cx="1602.2" cy="117.2" r="13.2" fill="#4759f8"/>
<circle cx="1602.2" cy="133.2" r="13.2" fill="#4759f8"/>
<circle cx="1602.2" cy="149.2" r="13.2" fill="#4437d4"/>
<circle cx="1602.2" cy="165.2" r="13.2" fill="#4437d4"/>
<circle cx="1602.2" cy="181.1" r="13.2" fill="#402cbb"/>
<circle cx="1602.2" cy="197.1" r="13.2" fill="#4744e7"/>
<circle cx="1602.2" cy="213.1" r="13.2" fill="#4744e7"/>
<circle cx="1602.2" cy="229.1" r="13.2" fill="#4744e7"/>
<circle cx="1602.2" cy="245.1" r="13.2" fill="#4744e7"/>
<circle cx="1602.2" cy="261.1" r="13.2" fill="#4744e7"/>
<circle cx="1602.2" cy="277.1" r="13.2" fill="#3876fd"/>
<circle cx="1602.2" cy="293.0" r="13.2" fill="#2793ec"/>
<circle cx="1602.2" cy="309.0" r="13.2" fill="#4759f8"/>
<circle cx="1602.2" cy="325.0" r="13.2" fill="#4759f8"/>
<circle cx="1602.2" cy="341.0" r="13.2" fill="#4759f8"/>
<circle cx="1602.2" cy="357.0" r="13.2" fill="#3876fd"/>
<circle cx="1602.2" cy="373.0" r="13.2" fill="#3876fd"/>
<circle cx="1602.2" cy="389.0" r="13.2" fill="#3876fd"/>
<circle cx="1602.2" cy="405.0" r="13.2" fill="#3876fd"/>
<circle cx="1602.2" cy="420.9" r="13.2" fill="#3876fd"/>
<circle cx="1602.2" cy="436.9" r="13.2" fill="#4437d4"/>
<circle cx="1602.2" cy="452.9" r="13.2" fill="#4744e7"/>
<circle cx="1602.2" cy="468.9" r="13.2" fill="#4437d4"/>
<circle cx="1602.2" cy="484.9" r="13.2" fill="#4437d4"/>
<circle cx="1602.2" cy="500.9" r="13.2" fill="#4437d4"/>
<circle cx="1602.2" cy="516.9" r="13.2" fill="#4759f8"/>
<circle cx="1602.2" cy="532.8" r="13.2" fill="#3876fd"/>
<circle cx="1602.2" cy="548.8" r="13.2" fill="#4759f8"/>
<circle cx="1602.2" cy="564.8" r="13.2" fill="#4759f8"/>
<circle cx="1602.2" cy="580.8" r="13.2" fill="#4759f8"/>
<circle cx="1622.0" cy="117.2" r="13.2" fill="#4759f8"/>
<circle cx="1622.0" cy="133.2" r="13.2" fill="#4744e7"/>
<circle cx="1622.0" cy="149.2" r="13.2" fill="#4437d4"/>
<circle cx="1622.0" cy="165.2" r="13.2" fill="#4437d4"/>
<circle cx="1622.0" cy="181.1" r="13.2" fill="#402cbb"/>
<circle cx="1622.0" cy="197.1" r="13.2" fill="#4744e7"/>
<circle cx="1622.0" cy="213.1" r="13.2" fill="#4744e7"/>
<circle cx="1622.0" cy="229.1" r="13.2" fill="#4437d4"/>
<circle cx="1622.0" cy="245.1" r="13.2" fill="#4744e7"/>
<circle cx="1622.0" cy="261.1" r="13.2" fill="#3876fd"/>
<circle cx="1622.0" cy="277.1" r="13.2" fill="#2793ec"/>
<circle cx="1622.0" cy="293.0" r="13.2" fill="#2793ec"/>
<circle cx="1622.0" cy="309.0" r="13.2" fill="#3876fd"/>
<circle cx="1622.0" cy="325.0" r="13.2" fill="#3876fd"/>
<circle cx="1622.0" cy="341.0" r="13.2" fill="#3876fd"/>
<circle cx="1622.0" cy="357.0" r="13.2" fill="#3876fd"/>
<circle cx="1622.0" cy="373.0" r="13.2" fill="#16add5"/>
<circle cx="1622.0" cy="389.0" r="13.2" fill="#69cb6f"/>
<circle cx="1622.0" cy="405.0" r="13.2" fill="#35c596"/>
<circle cx="1622.0" cy="420.9" r="13.2" fill="#16add5"/>
<circle cx="1622.0" cy="436.9" r="13.2" fill="#2793ec"/>
<circle cx="1622.0" cy="452.9" r="13.2" fill="#4744e7"/>
<circle cx="1622.0" cy="468.9" r="13.2" fill="#4744e7"/>
<circle cx="1622.0" cy="484.9" r="13.2" fill="#4744e7"/>
<circle cx="1622.0" cy="500.9" r="13.2" fill="#4437d4"/>
<circle cx="1622.0" cy="516.9" r="13.2" fill="#4437d4"/>
<circle cx="1622.0" cy="532.8" r="13.2" fill="#4759f8"/>
<circle cx="1622.0" cy="548.8" r="13.2" fill="#4759f8"/>
<circle cx="1622.0" cy="564.8" r="13.2" fill="#4759f8"/>
<circle cx="1622.0" cy="580.8" r="13.2" fill="#4759f8"/>
<circle cx="1641.9" cy="117.2" r="13.2" fill="#4759f8"/>
<circle cx="1641.9" cy="133.2" r="13.2" fill="#4744e7"/>
<circle cx="1641.9" cy="149.2" r="13.2" fill="#4437d4"/>
<circle cx="1641.9" cy="165.2" r="13.2" fill="#4437d4"/>
<circle cx="1641.9" cy="181.1" r="13.2" fill="#4744e7"/>
<circle cx="1641.9" cy="197.1" r="13.2" fill="#4744e7"/>
<circle cx="1641.9" cy="213.1" r="13.2" fill="#3876fd"/>
<circle cx="1641.9" cy="229.1" r="13.2" fill="#2793ec"/>
<circle cx="1641.9" cy="245.1" r="13.2" fill="#2793ec"/>
<circle cx="1641.9" cy="261.1" r="13.2" fill="#2793ec"/>
<circle cx="1641.9" cy="277.1" r="13.2" fill="#16add5"/>
<circle cx="1641.9" cy="293.0" r="13.2" fill="#15babb"/>
<circle cx="1641.9" cy="309.0" r="13.2" fill="#35c596"/>
<circle cx="1641.9" cy="325.0" r="13.2" fill="#35c596"/>
<circle cx="1641.9" cy="341.0" r="13.2" fill="#35c596"/>
<circle cx="1641.9" cy="357.0" r="13.2" fill="#15babb"/>
<circle cx="1641.9" cy="373.0" r="13.2" fill="#15babb"/>
<circle cx="1641.9" cy="389.0" r="13.2" fill="#15babb"/>
<circle cx="1641.9" cy="405.0" r="13.2" fill="#15babb"/>
<circle cx="1641.9" cy="420.9" r="13.2" fill="#16add5"/>
<circle cx="1641.9" cy="436.9" r="13.2" fill="#2793ec"/>
<circle cx="1641.9" cy="452.9" r="13.2" fill="#3876fd"/>
<circle cx="1641.9" cy="468.9" r="13.2" fill="#3876fd"/>
<circle cx="1641.9" cy="484.9" r="13.2" fill="#3876fd"/>
<circle cx="1641.9" cy="500.9" r="13.2" fill="#4759f8"/>
<circle cx="1641.9" cy="516.9" r="13.2" fill="#4759f8"/>
<circle cx="1641.9" cy="532.8" r="13.2" fill="#4437d4"/>
<circle cx="1641.9" cy="548.8" r="13.2" fill="#4437d4"/>
<circle cx="1641.9" cy="564.8" r="13.2" fill="#4759f8"/>
<circle cx="1641.9" cy="580.8" r="13.2" fill="#4759f8"/>
<circle cx="1661.8" cy="117.2" r="13.2" fill="#4759f8"/>
<circle cx="1661.8" cy="133.2" r="13.2" fill="#4744e7"/>
<circle cx="1661.8" cy="149.2" r="13.2" fill="#4437d4"/>
<circle cx="1661.8" cy="165.2" r="13.2" fill="#4744e7"/>
<circle cx="1661.8" cy="181.1" r="13.2" fill="#4744e7"/>
<circle cx="1661.8" cy="197.1" r="13.2" fill="#4744e7"/>
<circle cx="1661.8" cy="213.1" r="13.2" fill="#2793ec"/>
<circle cx="1661.8" cy="229.1" r="13.2" fill="#2793ec"/>
<circle cx="1661.8" cy="245.1" r="13.2" fill="#69cb6f"/>
<circle cx="1661.8" cy="261.1" r="13.2" fill="#a8c747"/>
<circle cx="1661.8" cy="277.1" r="13.2" fill="#15babb"/>
<circle cx="1661.8" cy="293.0" r="13.2" fill="#15babb"/>
<circle cx="1661.8" cy="309.0" r="13.2" fill="#35c596"/>
<circle cx="1661.8" cy="325.0" r="13.2" fill="#35c596"/>
<circle cx="1661.8" cy="341.0" r="13.2" fill="#15babb"/>
<circle cx="1661.8" cy="357.0" r="13.2" fill="#15babb"/>
<circle cx="1661.8" cy="373.0" r="13.2" fill="#16add5"/>
<circle cx="1661.8" cy="389.0" r="13.2" fill="#2793ec"/>
<circle cx="1661.8" cy="405.0" r="13.2" fill="#2793ec"/>
<circle cx="1661.8" cy="420.9" r="13.2" fill="#15babb"/>
<circle cx="1661.8" cy="436.9" r="13.2" fill="#a8c747"/>
<circle cx="1661.8" cy="452.9" r="13.2" fill="#35c596"/>
<circle cx="1661.8" cy="468.9" r="13.2" fill="#3876fd"/>
<circle cx="1661.8" cy="484.9" r="13.2" fill="#3876fd"/>
<circle cx="1661.8" cy="500.9" r="13.2" fill="#3876fd"/>
<circle cx="1661.8" cy="516.9" r="13.2" fill="#3876fd"/>
<circle cx="1661.8" cy="532.8" r="13.2" fill="#4759f8"/>
<circle cx="1661.8" cy="548.8" r="13.2" fill="#4759f8"/>
<circle cx="1661.8" cy="564.8" r="13.2" fill="#4759f8"/>
<circle cx="1661.8" cy="580.8" r="13.2" fill="#4759f8"/>
<circle cx="1681.6" cy="117.2" r="13.2" fill="#2793ec"/>
<circle cx="1681.6" cy="133.2" r="13.2" fill="#4759f8"/>
<circle cx="1681.6" cy="149.2" r="13.2" fill="#4437d4"/>
<circle cx="1681.6" cy="165.2" r="13.2" fill="#4744e7"/>
<circle cx="1681.6" cy="181.1" r="13.2" fill="#4744e7"/>
<circle cx="1681.6" cy="197.1" r="13.2" fill="#4744e7"/>
<circle cx="1681.6" cy="213.1" r="13.2" fill="#2793ec"/>
<circle cx="1681.6" cy="229.1" r="13.2" fill="#69cb6f"/>
<circle cx="1681.6" cy="245.1" r="13.2" fill="#a8c747"/>
<circle cx="1681.6" cy="261.1" r="13.2" fill="#69cb6f"/>
<circle cx="1681.6" cy="277.1" r="13.2" fill="#15babb"/>
<circle cx="1681.6" cy="293.0" r="13.2" fill="#16add5"/>
<circle cx="1681.6" cy="309.0" r="13.2" fill="#16add5"/>
<circle cx="1681.6" cy="325.0" r="13.2" fill="#16add5"/>
<circle cx="1681.6" cy="341.0" r="13.2" fill="#16add5"/>
<circle cx="1681.6" cy="357.0" r="13.2" fill="#16add5"/>
<circle cx="1681.6" cy="373.0" r="13.2" fill="#2793ec"/>
<circle cx="1681.6" cy="389.0" r="13.2" fill="#2793ec"/>
<circle cx="1681.6" cy="405.0" r="13.2" fill="#2793ec"/>
<circle cx="1681.6" cy="420.9" r="13.2" fill="#15babb"/>
<circle cx="1681.6" cy="436.9" r="13.2" fill="#69cb6f"/>
<circle cx="1681.6" cy="452.9" r="13.2" fill="#69cb6f"/>
<circle cx="1681.6" cy="468.9" r="13.2" fill="#16add5"/>
<circle cx="1681.6" cy="484.9" r="13.2" fill="#16add5"/>
<circle cx="1681.6" cy="500.9" r="13.2" fill="#16add5"/>
<circle cx="1681.6" cy="516.9" r="13.2" fill="#4759f8"/>
<circle cx="1681.6" cy="532.8" r="13.2" fill="#4759f8"/>
<circle cx="1681.6" cy="548.8" r="13.2" fill="#4759f8"/>
<circle cx="1681.6" cy="564.8" r="13.2" fill="#4759f8"/>
<circle cx="1681.6" cy="580.8" r="13.2" fill="#4759f8"/>
<circle cx="1701.5" cy="117.2" r="13.2" fill="#4759f8"/>
<circle cx="1701.5" cy="133.2" r="13.2" fill="#4759f8"/>
<circle cx="1701.5" cy="149.2" r="13.2" fill="#4759f8"/>
<circle cx="1701.5" cy="165.2" r="13.2" fill="#4744e7"/>
<circle cx="1701.5" cy="181.1" r="13.2" fill="#4759f8"/>
<circle cx="1701.5" cy="197.1" r="13.2" fill="#16add5"/>
<circle cx="1701.5" cy="213.1" r="13.2" fill="#15babb"/>
<circle cx="1701.5" cy="229.1" r="13.2" fill="#69cb6f"/>
<circle cx="1701.5" cy="245.1" r="13.2" fill="#35c596"/>
<circle cx="1701.5" cy="261.1" r="13.2" fill="#15babb"/>
<circle cx="1701.5" cy="277.1" r="13.2" fill="#16add5"/>
<circle cx="1701.5" cy="293.0" r="13.2" fill="#16add5"/>
<circle cx="1701.5" cy="309.0" r="13.2" fill="#16add5"/>
<circle cx="1701.5" cy="325.0" r="13.2" fill="#16add5"/>
<circle cx="1701.5" cy="341.0" r="13.2" fill="#16add5"/>
<circle cx="1701.5" cy="357.0" r="13.2" fill="#3876fd"/>
<circle cx="1701.5" cy="373.0" r="13.2" fill="#3876fd"/>
<circle cx="1701.5" cy="389.0" r="13.2" fill="#3876fd"/>
<circle cx="1701.5" cy="405.0" r="13.2" fill="#2793ec"/>
<circle cx="1701.5" cy="420.9" r="13.2" fill="#16add5"/>
<circle cx="1701.5" cy="436.9" r="13.2" fill="#16add5"/>
<circle cx="1701.5" cy="452.9" r="13.2" fill="#16add5"/>
<circle cx="1701.5" cy="468.9" r="13.2" fill="#2793ec"/>
<circle cx="1701.5" cy="484.9" r="13.2" fill="#16add5"/>
<circle cx="1701.5" cy="500.9" r="13.2" fill="#16add5"/>
<circle cx="1701.5" cy="516.9" r="13.2" fill="#3876fd"/>
<circle cx="1701.5" cy="532.8" r="13.2" fill="#4759f8"/>
<circle cx="1701.5" cy="548.8" r="13.2" fill="#4759f8"/>
<circle cx="1701.5" cy="564.8" r="13.2" fill="#4759f8"/>
<circle cx="1701.5" cy="580.8" r="13.2" fill="#4744e7"/>
<circle cx="1721.4" cy="117.2" r="13.2" fill="#2793ec"/>
<circle cx="1721.4" cy="133.2" r="13.2" fill="#4759f8"/>
<circle cx="1721.4" cy="149.2" r="13.2" fill="#4759f8"/>
<circle cx="1721.4" cy="165.2" r="13.2" fill="#4744e7"/>
<circle cx="1721.4" cy="181.1" r="13.2" fill="#4759f8"/>
<circle cx="1721.4" cy="197.1" r="13.2" fill="#16add5"/>
<circle cx="1721.4" cy="213.1" r="13.2" fill="#15babb"/>
<circle cx="1721.4" cy="229.1" r="13.2" fill="#15babb"/>
<circle cx="1721.4" cy="245.1" r="13.2" fill="#35c596"/>
<circle cx="1721.4" cy="261.1" r="13.2" fill="#3876fd"/>
<circle cx="1721.4" cy="277.1" r="13.2" fill="#3876fd"/>
<circle cx="1721.4" cy="293.0" r="13.2" fill="#2793ec"/>
<circle cx="1721.4" cy="309.0" r="13.2" fill="#3876fd"/>
<circle cx="1721.4" cy="325.0" r="13.2" fill="#4744e7"/>
<circle cx="1721.4" cy="341.0" r="13.2" fill="#4744e7"/>
<circle cx="1721.4" cy="357.0" r="13.2" fill="#4759f8"/>
<circle cx="1721.4" cy="373.0" r="13.2" fill="#2793ec"/>
<circle cx="1721.4" cy="389.0" r="13.2" fill="#2793ec"/>
<circle cx="1721.4" cy="405.0" r="13.2" fill="#2793ec"/>
<circle cx="1721.4" cy="420.9" r="13.2" fill="#3876fd"/>
<circle cx="1721.4" cy="436.9" r="13.2" fill="#16add5"/>
<circle cx="1721.4" cy="452.9" r="13.2" fill="#2793ec"/>
<circle cx="1721.4" cy="468.9" r="13.2" fill="#2793ec"/>
<circle cx="1721.4" cy="484.9" r="13.2" fill="#15babb"/>
<circle cx="1721.4" cy="500.9" r="13.2" fill="#a8c747"/>
<circle cx="1721.4" cy="516.9" r="13.2" fill="#69cb6f"/>
<circle cx="1721.4" cy="532.8" r="13.2" fill="#3876fd"/>
<circle cx="1721.4" cy="548.8" r="13.2" fill="#4759f8"/>
<circle cx="1721.4" cy="564.8" r="13.2" fill="#4759f8"/>
<circle cx="1721.4" cy="580.8" r="13.2" fill="#4744e7"/>
<circle cx="1741.2" cy="117.2" r="13.2" fill="#3876fd"/>
<circle cx="1741.2" cy="133.2" r="13.2" fill="#3876fd"/>
<circle cx="1741.2" cy="149.2" r="13.2" fill="#3876fd"/>
<circle cx="1741.2" cy="165.2" r="13.2" fill="#3876fd"/>
<circle cx="1741.2" cy="181.1" r="13.2" fill="#3876fd"/>
<circle cx="1741.2" cy="197.1" r="13.2" fill="#35c596"/>
<circle cx="1741.2" cy="213.1" r="13.2" fill="#dcbe35"/>
<circle cx="1741.2" cy="229.1" r="13.2" fill="#fcc339"/>
<circle cx="1741.2" cy="245.1" r="13.2" fill="#35c596"/>
<circle cx="1741.2" cy="261.1" r="13.2" fill="#3876fd"/>
<circle cx="1741.2" cy="277.1" r="13.2" fill="#3876fd"/>
<circle cx="1741.2" cy="293.0" r="13.2" fill="#3876fd"/>
<circle cx="1741.2" cy="309.0" r="13.2" fill="#4759f8"/>
<circle cx="1741.2" cy="325.0" r="13.2" fill="#4744e7"/>
<circle cx="1741.2" cy="341.0" r="13.2" fill="#402cbb"/>
<circle cx="1741.2" cy="357.0" r="13.2" fill="#4759f8"/>
<circle cx="1741.2" cy="373.0" r="13.2" fill="#4759f8"/>
<circle cx="1741.2" cy="389.0" r="13.2" fill="#4744e7"/>
<circle cx="1741.2" cy="405.0" r="13.2" fill="#4744e7"/>
<circle cx="1741.2" cy="420.9" r="13.2" fill="#4744e7"/>
<circle cx="1741.2" cy="436.9" r="13.2" fill="#3876fd"/>
<circle cx="1741.2" cy="452.9" r="13.2" fill="#3876fd"/>
<circle cx="1741.2" cy="468.9" r="13.2" fill="#3876fd"/>
<circle cx="1741.2" cy="484.9" r="13.2" fill="#15babb"/>
<circle cx="1741.2" cy="500.9" r="13.2" fill="#69cb6f"/>
<circle cx="1741.2" cy="516.9" r="13.2" fill="#35c596"/>
<circle cx="1741.2" cy="532.8" r="13.2" fill="#3876fd"/>
<circle cx="1741.2" cy="548.8" r="13.2" fill="#3876fd"/>
<circle cx="1741.2" cy="564.8" r="13.2" fill="#4759f8"/>
<circle cx="1741.2" cy="580.8" r="13.2" fill="#4759f8"/>
<circle cx="1761.1" cy="117.2" r="13.2" fill="#3876fd"/>
<circle cx="1761.1" cy="133.2" r="13.2" fill="#3876fd"/>
<circle cx="1761.1" cy="149.2" r="13.2" fill="#3876fd"/>
<circle cx="1761.1" cy="165.2" r="13.2" fill="#3876fd"/>
<circle cx="1761.1" cy="181.1" r="13.2" fill="#3876fd"/>
<circle cx="1761.1" cy="197.1" r="13.2" fill="#69cb6f"/>
<circle cx="1761.1" cy="213.1" r="13.2" fill="#fcc339"/>
<circle cx="1761.1" cy="229.1" r="13.2" fill="#f5de2a"/>
<circle cx="1761.1" cy="245.1" r="13.2" fill="#15babb"/>
<circle cx="1761.1" cy="261.1" r="13.2" fill="#3876fd"/>
<circle cx="1761.1" cy="277.1" r="13.2" fill="#4759f8"/>
<circle cx="1761.1" cy="293.0" r="13.2" fill="#4759f8"/>
<circle cx="1761.1" cy="309.0" r="13.2" fill="#4759f8"/>
<circle cx="1761.1" cy="325.0" r="13.2" fill="#4744e7"/>
<circle cx="1761.1" cy="341.0" r="13.2" fill="#402cbb"/>
<circle cx="1761.1" cy="357.0" r="13.2" fill="#4437d4"/>
<circle cx="1761.1" cy="373.0" r="13.2" fill="#4759f8"/>
<circle cx="1761.1" cy="389.0" r="13.2" fill="#4744e7"/>
<circle cx="1761.1" cy="405.0" r="13.2" fill="#4437d4"/>
<circle cx="1761.1" cy="420.9" r="13.2" fill="#402cbb"/>
<circle cx="1761.1" cy="436.9" r="13.2" fill="#402cbb"/>
<circle cx="1761.1" cy="452.9" r="13.2" fill="#4744e7"/>
<circle cx="1761.1" cy="468.9" r="13.2" fill="#4759f8"/>
<circle cx="1761.1" cy="484.9" r="13.2" fill="#3876fd"/>
<circle cx="1761.1" cy="500.9" r="13.2" fill="#15babb"/>
<circle cx="1761.1" cy="516.9" r="13.2" fill="#15babb"/>
<circle cx="1761.1" cy="532.8" r="13.2" fill="#3876fd"/>
<circle cx="1761.1" cy="548.8" r="13.2" fill="#3876fd"/>
<circle cx="1761.1" cy="564.8" r="13.2" fill="#3876fd"/>
<circle cx="1761.1" cy="580.8" r="13.2" fill="#3876fd"/>
<circle cx="1781.0" cy="117.2" r="13.2" fill="#3876fd"/>
<circle cx="1781.0" cy="133.2" r="13.2" fill="#3876fd"/>
<circle cx="1781.0" cy="149.2" r="13.2" fill="#3876fd"/>
<circle cx="1781.0" cy="165.2" r="13.2" fill="#35c596"/>
<circle cx="1781.0" cy="181.1" r="13.2" fill="#35c596"/>
<circle cx="1781.0" cy="197.1" r="13.2" fill="#dcbe35"/>
<circle cx="1781.0" cy="213.1" r="13.2" fill="#a8c747"/>
<circle cx="1781.0" cy="229.1" r="13.2" fill="#a8c747"/>
<circle cx="1781.0" cy="245.1" r="13.2" fill="#35c596"/>
<circle cx="1781.0" cy="261.1" r="13.2" fill="#2793ec"/>
<circle cx="1781.0" cy="277.1" r="13.2" fill="#4759f8"/>
<circle cx="1781.0" cy="293.0" r="13.2" fill="#4759f8"/>
<circle cx="1781.0" cy="309.0" r="13.2" fill="#4759f8"/>
<circle cx="1781.0" cy="325.0" r="13.2" fill="#4759f8"/>
<circle cx="1781.0" cy="341.0" r="13.2" fill="#4759f8"/>
<circle cx="1781.0" cy="357.0" r="13.2" fill="#3876fd"/>
<circle cx="1781.0" cy="373.0" r="13.2" fill="#4759f8"/>
<circle cx="1781.0" cy="389.0" r="13.2" fill="#4744e7"/>
<circle cx="1781.0" cy="405.0" r="13.2" fill="#4744e7"/>
<circle cx="1781.0" cy="420.9" r="13.2" fill="#402cbb"/>
<circle cx="1781.0" cy="436.9" r="13.2" fill="#402cbb"/>
<circle cx="1781.0" cy="452.9" r="13.2" fill="#3876fd"/>
<circle cx="1781.0" cy="468.9" r="13.2" fill="#16add5"/>
<circle cx="1781.0" cy="484.9" r="13.2" fill="#16add5"/>
<circle cx="1781.0" cy="500.9" r="13.2" fill="#69cb6f"/>
<circle cx="1781.0" cy="516.9" r="13.2" fill="#a8c747"/>
<circle cx="1781.0" cy="532.8" r="13.2" fill="#2793ec"/>
<circle cx="1781.0" cy="548.8" r="13.2" fill="#2793ec"/>
<circle cx="1781.0" cy="564.8" r="13.2" fill="#2793ec"/>
<circle cx="1781.0" cy="580.8" r="13.2" fill="#3876fd"/>
<circle cx="1800.8" cy="117.2" r="13.2" fill="#3876fd"/>
<circle cx="1800.8" cy="133.2" r="13.2" fill="#3876fd"/>
<circle cx="1800.8" cy="149.2" r="13.2" fill="#3876fd"/>
<circle cx="1800.8" cy="165.2" r="13.2" fill="#69cb6f"/>
<circle cx="1800.8" cy="181.1" r="13.2" fill="#dcbe35"/>
<circle cx="1800.8" cy="197.1" r="13.2" fill="#fcc339"/>
<circle cx="1800.8" cy="213.1" r="13.2" fill="#35c596"/>
<circle cx="1800.8" cy="229.1" r="13.2" fill="#35c596"/>
<circle cx="1800.8" cy="245.1" r="13.2" fill="#dcbe35"/>
<circle cx="1800.8" cy="261.1" r="13.2" fill="#3876fd"/>
<circle cx="1800.8" cy="277.1" r="13.2" fill="#3876fd"/>
<circle cx="1800.8" cy="293.0" r="13.2" fill="#2793ec"/>
<circle cx="1800.8" cy="309.0" r="13.2" fill="#2793ec"/>
<circle cx="1800.8" cy="325.0" r="13.2" fill="#2793ec"/>
<circle cx="1800.8" cy="341.0" r="13.2" fill="#2793ec"/>
<circle cx="1800.8" cy="357.0" r="13.2" fill="#3876fd"/>
<circle cx="1800.8" cy="373.0" r="13.2" fill="#16add5"/>
<circle cx="1800.8" cy="389.0" r="13.2" fill="#4437d4"/>
<circle cx="1800.8" cy="405.0" r="13.2" fill="#4744e7"/>
<circle cx="1800.8" cy="420.9" r="13.2" fill="#402cbb"/>
<circle cx="1800.8" cy="436.9" r="13.2" fill="#402cbb"/>
<circle cx="1800.8" cy="452.9" r="13.2" fill="#3876fd"/>
<circle cx="1800.8" cy="468.9" r="13.2" fill="#16add5"/>
<circle cx="1800.8" cy="484.9" r="13.2" fill="#16add5"/>
<circle cx="1800.8" cy="500.9" r="13.2" fill="#69cb6f"/>
<circle cx="1800.8" cy="516.9" r="13.2" fill="#dcbe35"/>
<circle cx="1800.8" cy="532.8" r="13.2" fill="#16add5"/>
<circle cx="1800.8" cy="548.8" r="13.2" fill="#2793ec"/>
<circle cx="1800.8" cy="564.8" r="13.2" fill="#2793ec"/>
<circle cx="1800.8" cy="580.8" r="13.2" fill="#3876fd"/>
<circle cx="1820.7" cy="117.2" r="13.2" fill="#3876fd"/>
<circle cx="1820.7" cy="133.2" r="13.2" fill="#3876fd"/>
<circle cx="1820.7" cy="149.2" r="13.2" fill="#2793ec"/>
<circle cx="1820.7" cy="165.2" r="13.2" fill="#15babb"/>
<circle cx="1820.7" cy="181.1" r="13.2" fill="#fcc339"/>
<circle cx="1820.7" cy="197.1" r="13.2" fill="#f9fb15"/>
<circle cx="1820.7" cy="213.1" r="13.2" fill="#35c596"/>
<circle cx="1820.7" cy="229.1" r="13.2" fill="#15babb"/>
<circle cx="1820.7" cy="245.1" r="13.2" fill="#15babb"/>
<circle cx="1820.7" cy="261.1" r="13.2" fill="#3876fd"/>
<circle cx="1820.7" cy="277.1" r="13.2" fill="#3876fd"/>
<circle cx="1820.7" cy="293.0" r="13.2" fill="#3876fd"/>
<circle cx="1820.7" cy="309.0" r="13.2" fill="#3876fd"/>
<circle cx="1820.7" cy="325.0" r="13.2" fill="#3876fd"/>
<circle cx="1820.7" cy="341.0" r="13.2" fill="#3876fd"/>
<circle cx="1820.7" cy="357.0" r="13.2" fill="#3876fd"/>
<circle cx="1820.7" cy="373.0" r="13.2" fill="#3876fd"/>
<circle cx="1820.7" cy="389.0" r="13.2" fill="#4437d4"/>
<circle cx="1820.7" cy="405.0" r="13.2" fill="#3876fd"/>
<circle cx="1820.7" cy="420.9" r="13.2" fill="#3876fd"/>
<circle cx="1820.7" cy="436.9" r="13.2" fill="#4744e7"/>
<circle cx="1820.7" cy="452.9" r="13.2" fill="#3876fd"/>
<circle cx="1820.7" cy="468.9" r="13.2" fill="#2793ec"/>
<circle cx="1820.7" cy="484.9" r="13.2" fill="#16add5"/>
<circle cx="1820.7" cy="500.9" r="13.2" fill="#35c596"/>
<circle cx="1820.7" cy="516.9" r="13.2" fill="#69cb6f"/>
<circle cx="1820.7" cy="532.8" r="13.2" fill="#16add5"/>
<circle cx="1820.7" cy="548.8" r="13.2" fill="#2793ec"/>
<circle cx="1820.7" cy="564.8" r="13.2" fill="#3876fd"/>
<circle cx="1820.7" cy="580.8" r="13.2" fill="#3876fd"/>
<circle cx="1840.5" cy="117.2" r="13.2" fill="#3876fd"/>
<circle cx="1840.5" cy="133.2" r="13.2" fill="#2793ec"/>
<circle cx="1840.5" cy="149.2" r="13.2" fill="#16add5"/>
<circle cx="1840.5" cy="165.2" r="13.2" fill="#16add5"/>
<circle cx="1840.5" cy="181.1" r="13.2" fill="#fcc339"/>
<circle cx="1840.5" cy="197.1" r="13.2" fill="#fcc339"/>
<circle cx="1840.5" cy="213.1" r="13.2" fill="#35c596"/>
<circle cx="1840.5" cy="229.1" r="13.2" fill="#15babb"/>
<circle cx="1840.5" cy="245.1" r="13.2" fill="#16add5"/>
<circle cx="1840.5" cy="261.1" r="13.2" fill="#3876fd"/>
<circle cx="1840.5" cy="277.1" r="13.2" fill="#4744e7"/>
<circle cx="1840.5" cy="293.0" r="13.2" fill="#402cbb"/>
<circle cx="1840.5" cy="309.0" r="13.2" fill="#4744e7"/>
<circle cx="1840.5" cy="325.0" r="13.2" fill="#3876fd"/>
<circle cx="1840.5" cy="341.0" r="13.2" fill="#3876fd"/>
<circle cx="1840.5" cy="357.0" r="13.2" fill="#4437d4"/>
<circle cx="1840.5" cy="373.0" r="13.2" fill="#4744e7"/>
<circle cx="1840.5" cy="389.0" r="13.2" fill="#4759f8"/>
<circle cx="1840.5" cy="405.0" r="13.2" fill="#16add5"/>
<circle cx="1840.5" cy="420.9" r="13.2" fill="#16add5"/>
<circle cx="1840.5" cy="436.9" r="13.2" fill="#2793ec"/>
<circle cx="1840.5" cy="452.9" r="13.2" fill="#2793ec"/>
<circle cx="1840.5" cy="468.9" r="13.2" fill="#2793ec"/>
<circle cx="1840.5" cy="484.9" r="13.2" fill="#2793ec"/>
<circle cx="1840.5" cy="500.9" r="13.2" fill="#16add5"/>
<circle cx="1840.5" cy="516.9" r="13.2" fill="#69cb6f"/>
<circle cx="1840.5" cy="532.8" r="13.2" fill="#35c596"/>
<circle cx="1840.5" cy="548.8" r="13.2" fill="#2793ec"/>
<circle cx="1840.5" cy="564.8" r="13.2" fill="#3876fd"/>
<circle cx="1840.5" cy="580.8" r="13.2" fill="#3876fd"/>
<circle cx="1860.4" cy="117.2" r="13.2" fill="#3876fd"/>
<circle cx="1860.4" cy="133.2" r="13.2" fill="#2793ec"/>
<circle cx="1860.4" cy="149.2" r="13.2" fill="#16add5"/>
<circle cx="1860.4" cy="165.2" r="13.2" fill="#16add5"/>
<circle cx="1860.4" cy="181.1" r="13.2" fill="#15babb"/>
<circle cx="1860.4" cy="197.1" r="13.2" fill="#15babb"/>
<circle cx="1860.4" cy="213.1" r="13.2" fill="#15babb"/>
<circle cx="1860.4" cy="229.1" r="13.2" fill="#15babb"/>
<circle cx="1860.4" cy="245.1" r="13.2" fill="#15babb"/>
<circle cx="1860.4" cy="261.1" r="13.2" fill="#3876fd"/>
<circle cx="1860.4" cy="277.1" r="13.2" fill="#4744e7"/>
<circle cx="1860.4" cy="293.0" r="13.2" fill="#4744e7"/>
<circle cx="1860.4" cy="309.0" r="13.2" fill="#4759f8"/>
<circle cx="1860.4" cy="325.0" r="13.2" fill="#3876fd"/>
<circle cx="1860.4" cy="341.0" r="13.2" fill="#3876fd"/>
<circle cx="1860.4" cy="357.0" r="13.2" fill="#4437d4"/>
<circle cx="1860.4" cy="373.0" r="13.2" fill="#4759f8"/>
<circle cx="1860.4" cy="389.0" r="13.2" fill="#4759f8"/>
<circle cx="1860.4" cy="405.0" r="13.2" fill="#3876fd"/>
<circle cx="1860.4" cy="420.9" r="13.2" fill="#3876fd"/>
<circle cx="1860.4" cy="436.9" r="13.2" fill="#2793ec"/>
<circle cx="1860.4" cy="452.9" r="13.2" fill="#2793ec"/>
<circle cx="1860.4" cy="468.9" r="13.2" fill="#2793ec"/>
<circle cx="1860.4" cy="484.9" r="13.2" fill="#2793ec"/>
<circle cx="1860.4" cy="500.9" r="13.2" fill="#2793ec"/>
<circle cx="1860.4" cy="516.9" r="13.2" fill="#35c596"/>
<circle cx="1860.4" cy="532.8" r="13.2" fill="#15babb"/>
<circle cx="1860.4" cy="548.8" r="13.2" fill="#2793ec"/>
<circle cx="1860.4" cy="564.8" r="13.2" fill="#3876fd"/>
<circle cx="1860.4" cy="580.8" r="13.2" fill="#4759f8"/>
<circle cx="1880.3" cy="117.2" r="13.2" fill="#3876fd"/>
<circle cx="1880.3" cy="133.2" r="13.2" fill="#3876fd"/>
<circle cx="1880.3" cy="149.2" r="13.2" fill="#2793ec"/>
<circle cx="1880.3" cy="165.2" r="13.2" fill="#16add5"/>
<circle cx="1880.3" cy="181.1" r="13.2" fill="#15babb"/>
<circle cx="1880.3" cy="197.1" r="13.2" fill="#15babb"/>
<circle cx="1880.3" cy="213.1" r="13.2" fill="#35c596"/>
<circle cx="1880.3" cy="229.1" r="13.2" fill="#35c596"/>
<circle cx="1880.3" cy="245.1" r="13.2" fill="#35c596"/>
<circle cx="1880.3" cy="261.1" r="13.2" fill="#3876fd"/>
<circle cx="1880.3" cy="277.1" r="13.2" fill="#4759f8"/>
<circle cx="1880.3" cy="293.0" r="13.2" fill="#3876fd"/>
<circle cx="1880.3" cy="309.0" r="13.2" fill="#3876fd"/>
<circle cx="1880.3" cy="325.0" r="13.2" fill="#2793ec"/>
<circle cx="1880.3" cy="341.0" r="13.2" fill="#2793ec"/>
<circle cx="1880.3" cy="357.0" r="13.2" fill="#3876fd"/>
<circle cx="1880.3" cy="373.0" r="13.2" fill="#4744e7"/>
<circle cx="1880.3" cy="389.0" r="13.2" fill="#4744e7"/>
<circle cx="1880.3" cy="405.0" r="13.2" fill="#4759f8"/>
<circle cx="1880.3" cy="420.9" r="13.2" fill="#4759f8"/>
<circle cx="1880.3" cy="436.9" r="13.2" fill="#3876fd"/>
<circle cx="1880.3" cy="452.9" r="13.2" fill="#2793ec"/>
<circle cx="1880.3" cy="468.9" r="13.2" fill="#3876fd"/>
<circle cx="1880.3" cy="484.9" r="13.2" fill="#2793ec"/>
<circle cx="1880.3" cy="500.9" r="13.2" fill="#2793ec"/>
<circle cx="1880.3" cy="516.9" r="13.2" fill="#16add5"/>
<circle cx="1880.3" cy="532.8" r="13.2" fill="#2793ec"/>
<circle cx="1880.3" cy="548.8" r="13.2" fill="#2793ec"/>
<circle cx="1880.3" cy="564.8" r="13.2" fill="#2793ec"/>
<circle cx="1880.3" cy="580.8" r="13.2" fill="#4744e7"/>
<circle cx="1900.1" cy="117.2" r="13.2" fill="#3876fd"/>
<circle cx="1900.1" cy="133.2" r="13.2" fill="#4759f8"/>
<circle cx="1900.1" cy="149.2" r="13.2" fill="#3876fd"/>
<circle cx="1900.1" cy="165.2" r="13.2" fill="#3876fd"/>
<circle cx="1900.1" cy="181.1" r="13.2" fill="#16add5"/>
<circle cx="1900.1" cy="197.1" r="13.2" fill="#16add5"/>
<circle cx="1900.1" cy="213.1" r="13.2" fill="#15babb"/>
<circle cx="1900.1" cy="229.1" r="13.2" fill="#35c596"/>
<circle cx="1900.1" cy="245.1" r="13.2" fill="#69cb6f"/>
<circle cx="1900.1" cy="261.1" r="13.2" fill="#3876fd"/>
<circle cx="1900.1" cy="277.1" r="13.2" fill="#3876fd"/>
<circle cx="1900.1" cy="293.0" r="13.2" fill="#2793ec"/>
<circle cx="1900.1" cy="309.0" r="13.2" fill="#2793ec"/>
<circle cx="1900.1" cy="325.0" r="13.2" fill="#2793ec"/>
<circle cx="1900.1" cy="341.0" r="13.2" fill="#2793ec"/>
<circle cx="1900.1" cy="357.0" r="13.2" fill="#4759f8"/>
<circle cx="1900.1" cy="373.0" r="13.2" fill="#402cbb"/>
<circle cx="1900.1" cy="389.0" r="13.2" fill="#4437d4"/>
<circle cx="1900.1" cy="405.0" r="13.2" fill="#3876fd"/>
<circle cx="1900.1" cy="420.9" r="13.2" fill="#3876fd"/>
<circle cx="1900.1" cy="436.9" r="13.2" fill="#2793ec"/>
<circle cx="1900.1" cy="452.9" r="13.2" fill="#2793ec"/>
<circle cx="1900.1" cy="468.9" r="13.2" fill="#3876fd"/>
<circle cx="1900.1" cy="484.9" r="13.2" fill="#2793ec"/>
<circle cx="1900.1" cy="500.9" r="13.2" fill="#2793ec"/>
<circle cx="1900.1" cy="516.9" r="13.2" fill="#2793ec"/>
<circle cx="1900.1" cy="532.8" r="13.2" fill="#2793ec"/>
<circle cx="1900.1" cy="548.8" r="13.2" fill="#2793ec"/>
<circle cx="1900.1" cy="564.8" r="13.2" fill="#3876fd"/>
<circle cx="1900.1" cy="580.8" r="13.2" fill="#4744e7"/>
<circle cx="1920.0" cy="117.2" r="13.2" fill="#3876fd"/>
<circle cx="1920.0" cy="133.2" r="13.2" fill="#4759f8"/>
<circle cx="1920.0" cy="149.2" r="13.2" fill="#4437d4"/>
<circle cx="1920.0" cy="165.2" r="13.2" fill="#3876fd"/>
<circle cx="1920.0" cy="181.1" r="13.2" fill="#3876fd"/>
<circle cx="1920.0" cy="197.1" r="13.2" fill="#3876fd"/>
<circle cx="1920.0" cy="213.1" r="13.2" fill="#16add5"/>
<circle cx="1920.0" cy="229.1" r="13.2" fill="#16add5"/>
<circle cx="1920.0" cy="245.1" r="13.2" fill="#15babb"/>
<circle cx="1920.0" cy="261.1" r="13.2" fill="#2793ec"/>
<circle cx="1920.0" cy="277.1" r="13.2" fill="#2793ec"/>
<circle cx="1920.0" cy="293.0" r="13.2" fill="#2793ec"/>
<circle cx="1920.0" cy="309.0" r="13.2" fill="#2793ec"/>
<circle cx="1920.0" cy="325.0" r="13.2" fill="#3876fd"/>
<circle cx="1920.0" cy="341.0" r="13.2" fill="#4759f8"/>
<circle cx="1920.0" cy="357.0" r="13.2" fill="#4744e7"/>
<circle cx="1920.0" cy="373.0" r="13.2" fill="#402cbb"/>
<circle cx="1920.0" cy="389.0" r="13.2" fill="#4437d4"/>
<circle cx="1920.0" cy="405.0" r="13.2" fill="#3876fd"/>
<circle cx="1920.0" cy="420.9" r="13.2" fill="#3876fd"/>
<circle cx="1920.0" cy="436.9" r="13.2" fill="#3876fd"/>
<circle cx="1920.0" cy="452.9" r="13.2" fill="#2793ec"/>
<circle cx="1920.0" cy="468.9" r="13.2" fill="#2793ec"/>
<circle cx="1920.0" cy="484.9" r="13.2" fill="#2793ec"/>
<circle cx="1920.0" cy="500.9" r="13.2" fill="#2793ec"/>
<circle cx="1920.0" cy="516.9" r="13.2" fill="#3876fd"/>
<circle cx="1920.0" cy="532.8" r="13.2" fill="#3876fd"/>
<circle cx="1920.0" cy="548.8" r="13.2" fill="#3876fd"/>
<circle cx="1920.0" cy="564.8" r="13.2" fill="#3876fd"/>
<circle cx="1920.0" cy="580.8" r="13.2" fill="#4744e7"/>
<circle cx="1939.9" cy="117.2" r="13.2" fill="#3876fd"/>
<circle cx="1939.9" cy="133.2" r="13.2" fill="#4759f8"/>
<circle cx="1939.9" cy="149.2" r="13.2" fill="#4744e7"/>
<circle cx="1939.9" cy="165.2" r="13.2" fill="#4744e7"/>
<circle cx="1939.9" cy="181.1" r="13.2" fill="#3876fd"/>
<circle cx="1939.9" cy="197.1" r="13.2" fill="#3876fd"/>
<circle cx="1939.9" cy="213.1" r="13.2" fill="#2793ec"/>
<circle cx="1939.9" cy="229.1" r="13.2" fill="#16add5"/>
<circle cx="1939.9" cy="245.1" r="13.2" fill="#16add5"/>
<circle cx="1939.9" cy="261.1" r="13.2" fill="#2793ec"/>
<circle cx="1939.9" cy="277.1" r="13.2" fill="#2793ec"/>
<circle cx="1939.9" cy="293.0" r="13.2" fill="#2793ec"/>
<circle cx="1939.9" cy="309.0" r="13.2" fill="#3876fd"/>
<circle cx="1939.9" cy="325.0" r="13.2" fill="#4759f8"/>
<circle cx="1939.9" cy="341.0" r="13.2" fill="#4744e7"/>
<circle cx="1939.9" cy="357.0" r="13.2" fill="#4759f8"/>
<circle cx="1939.9" cy="373.0" r="13.2" fill="#3876fd"/>
<circle cx="1939.9" cy="389.0" r="13.2" fill="#3876fd"/>
<circle cx="1939.9" cy="405.0" r="13.2" fill="#4744e7"/>
<circle cx="1939.9" cy="420.9" r="13.2" fill="#3876fd"/>
<circle cx="1939.9" cy="436.9" r="13.2" fill="#3876fd"/>
<circle cx="1939.9" cy="452.9" r="13.2" fill="#16add5"/>
<circle cx="1939.9" cy="468.9" r="13.2" fill="#16add5"/>
<circle cx="1939.9" cy="484.9" r="13.2" fill="#2793ec"/>
<circle cx="1939.9" cy="500.9" r="13.2" fill="#3876fd"/>
<circle cx="1939.9" cy="516.9" r="13.2" fill="#4759f8"/>
<circle cx="1939.9" cy="532.8" r="13.2" fill="#3876fd"/>
<circle cx="1939.9" cy="548.8" r="13.2" fill="#4744e7"/>
<circle cx="1939.9" cy="564.8" r="13.2" fill="#4437d4"/>
<circle cx="1939.9" cy="580.8" r="13.2" fill="#4437d4"/>
<circle cx="1959.7" cy="117.2" r="13.2" fill="#2793ec"/>
<circle cx="1959.7" cy="133.2" r="13.2" fill="#4759f8"/>
<circle cx="1959.7" cy="149.2" r="13.2" fill="#4744e7"/>
<circle cx="1959.7" cy="165.2" r="13.2" fill="#4744e7"/>
<circle cx="1959.7" cy="181.1" r="13.2" fill="#4744e7"/>
<circle cx="1959.7" cy="197.1" r="13.2" fill="#3876fd"/>
<circle cx="1959.7" cy="213.1" r="13.2" fill="#3876fd"/>
<circle cx="1959.7" cy="229.1" r="13.2" fill="#16add5"/>
<circle cx="1959.7" cy="245.1" r="13.2" fill="#16add5"/>
<circle cx="1959.7" cy="261.1" r="13.2" fill="#2793ec"/>
<circle cx="1959.7" cy="277.1" r="13.2" fill="#2793ec"/>
<circle cx="1959.7" cy="293.0" r="13.2" fill="#4759f8"/>
<circle cx="1959.7" cy="309.0" r="13.2" fill="#4759f8"/>
<circle cx="1959.7" cy="325.0" r="13.2" fill="#4759f8"/>
<circle cx="1959.7" cy="341.0" r="13.2" fill="#4759f8"/>
<circle cx="1959.7" cy="357.0" r="13.2" fill="#3876fd"/>
<circle cx="1959.7" cy="373.0" r="13.2" fill="#3876fd"/>
<circle cx="1959.7" cy="389.0" r="13.2" fill="#3876fd"/>
<circle cx="1959.7" cy="405.0" r="13.2" fill="#3876fd"/>
<circle cx="1959.7" cy="420.9" r="13.2" fill="#3876fd"/>
<circle cx="1959.7" cy="436.9" r="13.2" fill="#3876fd"/>
<circle cx="1959.7" cy="452.9" r="13.2" fill="#16add5"/>
<circle cx="1959.7" cy="468.9" r="13.2" fill="#16add5"/>
<circle cx="1959.7" cy="484.9" r="13.2" fill="#2793ec"/>
<circle cx="1959.7" cy="500.9" r="13.2" fill="#3876fd"/>
<circle cx="1959.7" cy="516.9" r="13.2" fill="#4437d4"/>
<circle cx="1959.7" cy="532.8" r="13.2" fill="#402cbb"/>
<circle cx="1959.7" cy="548.8" r="13.2" fill="#4437d4"/>
<circle cx="1959.7" cy="564.8" r="13.2" fill="#4437d4"/>
<circle cx="1959.7" cy="580.8" r="13.2" fill="#4437d4"/>
<circle cx="1979.6" cy="117.2" r="13.2" fill="#4759f8"/>
<circle cx="1979.6" cy="133.2" r="13.2" fill="#4744e7"/>
<circle cx="1979.6" cy="149.2" r="13.2" fill="#4744e7"/>
<circle cx="1979.6" cy="165.2" r="13.2" fill="#4437d4"/>
<circle cx="1979.6" cy="181.1" r="13.2" fill="#4744e7"/>
<circle cx="1979.6" cy="197.1" r="13.2" fill="#3876fd"/>
<circle cx="1979.6" cy="213.1" r="13.2" fill="#3876fd"/>
<circle cx="1979.6" cy="229.1" r="13.2" fill="#16add5"/>
<circle cx="1979.6" cy="245.1" r="13.2" fill="#16add5"/>
<circle cx="1979.6" cy="261.1" r="13.2" fill="#2793ec"/>
<circle cx="1979.6" cy="277.1" r="13.2" fill="#16add5"/>
<circle cx="1979.6" cy="293.0" r="13.2" fill="#3876fd"/>
<circle cx="1979.6" cy="309.0" r="13.2" fill="#4759f8"/>
<circle cx="1979.6" cy="325.0" r="13.2" fill="#4759f8"/>
<circle cx="1979.6" cy="341.0" r="13.2" fill="#3876fd"/>
<circle cx="1979.6" cy="357.0" r="13.2" fill="#2793ec"/>
<circle cx="1979.6" cy="373.0" r="13.2" fill="#2793ec"/>
<circle cx="1979.6" cy="389.0" r="13.2" fill="#2793ec"/>
<circle cx="1979.6" cy="405.0" r="13.2" fill="#2793ec"/>
<circle cx="1979.6" cy="420.9" r="13.2" fill="#2793ec"/>
<circle cx="1979.6" cy="436.9" r="13.2" fill="#2793ec"/>
<circle cx="1979.6" cy="452.9" r="13.2" fill="#16add5"/>
<circle cx="1979.6" cy="468.9" r="13.2" fill="#16add5"/>
<circle cx="1979.6" cy="484.9" r="13.2" fill="#2793ec"/>
<circle cx="1979.6" cy="500.9" r="13.2" fill="#3876fd"/>
<circle cx="1979.6" cy="516.9" r="13.2" fill="#4437d4"/>
<circle cx="1979.6" cy="532.8" r="13.2" fill="#4437d4"/>
<circle cx="1979.6" cy="548.8" r="13.2" fill="#4437d4"/>
<circle cx="1979.6" cy="564.8" r="13.2" fill="#4437d4"/>
<circle cx="1979.6" cy="580.8" r="13.2" fill="#4437d4"/>
<circle cx="1999.5" cy="117.2" r="13.2" fill="#4759f8"/>
<circle cx="1999.5" cy="133.2" r="13.2" fill="#4744e7"/>
<circle cx="1999.5" cy="149.2" r="13.2" fill="#4744e7"/>
<circle cx="1999.5" cy="165.2" r="13.2" fill="#4437d4"/>
<circle cx="1999.5" cy="181.1" r="13.2" fill="#4744e7"/>
<circle cx="1999.5" cy="197.1" r="13.2" fill="#4744e7"/>
<circle cx="1999.5" cy="213.1" r="13.2" fill="#4759f8"/>
<circle cx="1999.5" cy="229.1" r="13.2" fill="#2793ec"/>
<circle cx="1999.5" cy="245.1" r="13.2" fill="#2793ec"/>
<circle cx="1999.5" cy="261.1" r="13.2" fill="#2793ec"/>
<circle cx="1999.5" cy="277.1" r="13.2" fill="#16add5"/>
<circle cx="1999.5" cy="293.0" r="13.2" fill="#16add5"/>
<circle cx="1999.5" cy="309.0" r="13.2" fill="#16add5"/>
<circle cx="1999.5" cy="325.0" r="13.2" fill="#2793ec"/>
<circle cx="1999.5" cy="341.0" r="13.2" fill="#2793ec"/>
<circle cx="1999.5" cy="357.0" r="13.2" fill="#16add5"/>
<circle cx="1999.5" cy="373.0" r="13.2" fill="#16add5"/>
<circle cx="1999.5" cy="389.0" r="13.2" fill="#2793ec"/>
<circle cx="1999.5" cy="405.0" r="13.2" fill="#2793ec"/>
<circle cx="1999.5" cy="420.9" r="13.2" fill="#2793ec"/>
<circle cx="1999.5" cy="436.9" r="13.2" fill="#16add5"/>
<circle cx="1999.5" cy="452.9" r="13.2" fill="#69cb6f"/>
<circle cx="1999.5" cy="468.9" r="13.2" fill="#35c596"/>
<circle cx="1999.5" cy="484.9" r="13.2" fill="#2793ec"/>
<circle cx="1999.5" cy="500.9" r="13.2" fill="#4759f8"/>
<circle cx="1999.5" cy="516.9" r="13.2" fill="#4437d4"/>
<circle cx="1999.5" cy="532.8" r="13.2" fill="#4437d4"/>
<circle cx="1999.5" cy="548.8" r="13.2" fill="#4437d4"/>
<circle cx="1999.5" cy="564.8" r="13.2" fill="#4437d4"/>
<circle cx="1999.5" cy="580.8" r="13.2" fill="#4437d4"/>
<circle cx="2019.3" cy="117.2" r="13.2" fill="#4759f8"/>
<circle cx="2019.3" cy="133.2" r="13.2" fill="#4744e7"/>
<circle cx="2019.3" cy="149.2" r="13.2" fill="#4437d4"/>
<circle cx="2019.3" cy="165.2" r="13.2" fill="#4437d4"/>
<circle cx="2019.3" cy="181.1" r="13.2" fill="#4744e7"/>
<circle cx="2019.3" cy="197.1" r="13.2" fill="#4744e7"/>
<circle cx="2019.3" cy="213.1" r="13.2" fill="#4759f8"/>
<circle cx="2019.3" cy="229.1" r="13.2" fill="#3876fd"/>
<circle cx="2019.3" cy="245.1" r="13.2" fill="#3876fd"/>
<circle cx="2019.3" cy="261.1" r="13.2" fill="#2793ec"/>
<circle cx="2019.3" cy="277.1" r="13.2" fill="#16add5"/>
<circle cx="2019.3" cy="293.0" r="13.2" fill="#16add5"/>
<circle cx="2019.3" cy="309.0" r="13.2" fill="#16add5"/>
<circle cx="2019.3" cy="325.0" r="13.2" fill="#16add5"/>
<circle cx="2019.3" cy="341.0" r="13.2" fill="#16add5"/>
<circle cx="2019.3" cy="357.0" r="13.2" fill="#16add5"/>
<circle cx="2019.3" cy="373.0" r="13.2" fill="#16add5"/>
<circle cx="2019.3" cy="389.0" r="13.2" fill="#3876fd"/>
<circle cx="2019.3" cy="405.0" r="13.2" fill="#2793ec"/>
<circle cx="2019.3" cy="420.9" r="13.2" fill="#2793ec"/>
<circle cx="2019.3" cy="436.9" r="13.2" fill="#15babb"/>
<circle cx="2019.3" cy="452.9" r="13.2" fill="#69cb6f"/>
<circle cx="2019.3" cy="468.9" r="13.2" fill="#16add5"/>
<circle cx="2019.3" cy="484.9" r="13.2" fill="#2793ec"/>
<circle cx="2019.3" cy="500.9" r="13.2" fill="#4437d4"/>
<circle cx="2019.3" cy="516.9" r="13.2" fill="#4437d4"/>
<circle cx="2019.3" cy="532.8" r="13.2" fill="#4437d4"/>
<circle cx="2019.3" cy="548.8" r="13.2" fill="#4437d4"/>
<circle cx="2019.3" cy="564.8" r="13.2" fill="#4437d4"/>
<circle cx="2019.3" cy="580.8" r="13.2" fill="#4437d4"/>
<circle cx="2039.2" cy="117.2" r="13.2" fill="#4759f8"/>
<circle cx="2039.2" cy="133.2" r="13.2" fill="#4744e7"/>
<circle cx="2039.2" cy="149.2" r="13.2" fill="#4437d4"/>
<circle cx="2039.2" cy="165.2" r="13.2" fill="#4437d4"/>
<circle cx="2039.2" cy="181.1" r="13.2" fill="#402cbb"/>
<circle cx="2039.2" cy="197.1" r="13.2" fill="#4744e7"/>
<circle cx="2039.2" cy="213.1" r="13.2" fill="#4759f8"/>
<circle cx="2039.2" cy="229.1" r="13.2" fill="#3876fd"/>
<circle cx="2039.2" cy="245.1" r="13.2" fill="#3876fd"/>
<circle cx="2039.2" cy="261.1" r="13.2" fill="#2793ec"/>
<circle cx="2039.2" cy="277.1" r="13.2" fill="#16add5"/>
<circle cx="2039.2" cy="293.0" r="13.2" fill="#16add5"/>
<circle cx="2039.2" cy="309.0" r="13.2" fill="#16add5"/>
<circle cx="2039.2" cy="325.0" r="13.2" fill="#16add5"/>
<circle cx="2039.2" cy="341.0" r="13.2" fill="#16add5"/>
<circle cx="2039.2" cy="357.0" r="13.2" fill="#16add5"/>
<circle cx="2039.2" cy="373.0" r="13.2" fill="#16add5"/>
<circle cx="2039.2" cy="389.0" r="13.2" fill="#2793ec"/>
<circle cx="2039.2" cy="405.0" r="13.2" fill="#2793ec"/>
<circle cx="2039.2" cy="420.9" r="13.2" fill="#2793ec"/>
<circle cx="2039.2" cy="436.9" r="13.2" fill="#3876fd"/>
<circle cx="2039.2" cy="452.9" r="13.2" fill="#3876fd"/>
<circle cx="2039.2" cy="468.9" r="13.2" fill="#3876fd"/>
<circle cx="2039.2" cy="484.9" r="13.2" fill="#4744e7"/>
<circle cx="2039.2" cy="500.9" r="13.2" fill="#4437d4"/>
<circle cx="2039.2" cy="516.9" r="13.2" fill="#4437d4"/>
<circle cx="2039.2" cy="532.8" r="13.2" fill="#4437d4"/>
<circle cx="2039.2" cy="548.8" r="13.2" fill="#4437d4"/>
<circle cx="2039.2" cy="564.8" r="13.2" fill="#4744e7"/>
<circle cx="2039.2" cy="580.8" r="13.2" fill="#4437d4"/>
<circle cx="2059.1" cy="117.2" r="13.2" fill="#4759f8"/>
<circle cx="2059.1" cy="133.2" r="13.2" fill="#4437d4"/>
<circle cx="2059.1" cy="149.2" r="13.2" fill="#4437d4"/>
<circle cx="2059.1" cy="165.2" r="13.2" fill="#4437d4"/>
<circle cx="2059.1" cy="181.1" r="13.2" fill="#4437d4"/>
<circle cx="2059.1" cy="197.1" r="13.2" fill="#4744e7"/>
<circle cx="2059.1" cy="213.1" r="13.2" fill="#4744e7"/>
<circle cx="2059.1" cy="229.1" r="13.2" fill="#4744e7"/>
<circle cx="2059.1" cy="245.1" r="13.2" fill="#4744e7"/>
<circle cx="2059.1" cy="261.1" r="13.2" fill="#2793ec"/>
<circle cx="2059.1" cy="277.1" r="13.2" fill="#16add5"/>
<circle cx="2059.1" cy="293.0" r="13.2" fill="#16add5"/>
<circle cx="2059.1" cy="309.0" r="13.2" fill="#16add5"/>
<circle cx="2059.1" cy="325.0" r="13.2" fill="#16add5"/>
<circle cx="2059.1" cy="341.0" r="13.2" fill="#16add5"/>
<circle cx="2059.1" cy="357.0" r="13.2" fill="#16add5"/>
<circle cx="2059.1" cy="373.0" r="13.2" fill="#16add5"/>
<circle cx="2059.1" cy="389.0" r="13.2" fill="#2793ec"/>
<circle cx="2059.1" cy="405.0" r="13.2" fill="#2793ec"/>
<circle cx="2059.1" cy="420.9" r="13.2" fill="#3876fd"/>
<circle cx="2059.1" cy="436.9" r="13.2" fill="#4759f8"/>
<circle cx="2059.1" cy="452.9" r="13.2" fill="#4744e7"/>
<circle cx="2059.1" cy="468.9" r="13.2" fill="#4744e7"/>
<circle cx="2059.1" cy="484.9" r="13.2" fill="#4744e7"/>
<circle cx="2059.1" cy="500.9" r="13.2" fill="#4437d4"/>
<circle cx="2059.1" cy="516.9" r="13.2" fill="#4437d4"/>
<circle cx="2059.1" cy="532.8" r="13.2" fill="#4437d4"/>
<circle cx="2059.1" cy="548.8" r="13.2" fill="#4437d4"/>
<circle cx="2059.1" cy="564.8" r="13.2" fill="#4744e7"/>
<circle cx="2059.1" cy="580.8" r="13.2" fill="#4437d4"/>
<circle cx="2078.9" cy="117.2" r="13.2" fill="#4744e7"/>
<circle cx="2078.9" cy="133.2" r="13.2" fill="#4437d4"/>
<circle cx="2078.9" cy="149.2" r="13.2" fill="#4437d4"/>
<circle cx="2078.9" cy="165.2" r="13.2" fill="#4437d4"/>
<circle cx="2078.9" cy="181.1" r="13.2" fill="#4437d4"/>
<circle cx="2078.9" cy="197.1" r="13.2" fill="#4744e7"/>
<circle cx="2078.9" cy="213.1" r="13.2" fill="#4744e7"/>
<circle cx="2078.9" cy="229.1" r="13.2" fill="#4744e7"/>
<circle cx="2078.9" cy="245.1" r="13.2" fill="#4759f8"/>
<circle cx="2078.9" cy="261.1" r="13.2" fill="#2793ec"/>
<circle cx="2078.9" cy="277.1" r="13.2" fill="#16add5"/>
<circle cx="2078.9" cy="293.0" r="13.2" fill="#35c596"/>
<circle cx="2078.9" cy="309.0" r="13.2" fill="#69cb6f"/>
<circle cx="2078.9" cy="325.0" r="13.2" fill="#16add5"/>
<circle cx="2078.9" cy="341.0" r="13.2" fill="#2793ec"/>
<circle cx="2078.9" cy="357.0" r="13.2" fill="#16add5"/>
<circle cx="2078.9" cy="373.0" r="13.2" fill="#16add5"/>
<circle cx="2078.9" cy="389.0" r="13.2" fill="#2793ec"/>
<circle cx="2078.9" cy="405.0" r="13.2" fill="#3876fd"/>
<circle cx="2078.9" cy="420.9" r="13.2" fill="#4759f8"/>
<circle cx="2078.9" cy="436.9" r="13.2" fill="#4759f8"/>
<circle cx="2078.9" cy="452.9" r="13.2" fill="#4759f8"/>
<circle cx="2078.9" cy="468.9" r="13.2" fill="#4759f8"/>
<circle cx="2078.9" cy="484.9" r="13.2" fill="#4744e7"/>
<circle cx="2078.9" cy="500.9" r="13.2" fill="#4744e7"/>
<circle cx="2078.9" cy="516.9" r="13.2" fill="#4744e7"/>
<circle cx="2078.9" cy="532.8" r="13.2" fill="#4437d4"/>
<circle cx="2078.9" cy="548.8" r="13.2" fill="#4437d4"/>
<circle cx="2078.9" cy="564.8" r="13.2" fill="#4437d4"/>
<circle cx="2078.9" cy="580.8" r="13.2" fill="#402cbb"/>
<circle cx="2098.8" cy="117.2" r="13.2" fill="#4437d4"/>
<circle cx="2098.8" cy="133.2" r="13.2" fill="#4437d4"/>
<circle cx="2098.8" cy="149.2" r="13.2" fill="#4437d4"/>
<circle cx="2098.8" cy="165.2" r="13.2" fill="#4744e7"/>
<circle cx="2098.8" cy="181.1" r="13.2" fill="#4744e7"/>
<circle cx="2098.8" cy="197.1" r="13.2" fill="#4744e7"/>
<circle cx="2098.8" cy="213.1" r="13.2" fill="#4744e7"/>
<circle cx="2098.8" cy="229.1" r="13.2" fill="#4759f8"/>
<circle cx="2098.8" cy="245.1" r="13.2" fill="#4759f8"/>
<circle cx="2098.8" cy="261.1" r="13.2" fill="#3876fd"/>
<circle cx="2098.8" cy="277.1" r="13.2" fill="#3876fd"/>
<circle cx="2098.8" cy="293.0" r="13.2" fill="#3876fd"/>
<circle cx="2098.8" cy="309.0" r="13.2" fill="#3876fd"/>
<circle cx="2098.8" cy="325.0" r="13.2" fill="#3876fd"/>
<circle cx="2098.8" cy="341.0" r="13.2" fill="#3876fd"/>
<circle cx="2098.8" cy="357.0" r="13.2" fill="#3876fd"/>
<circle cx="2098.8" cy="373.0" r="13.2" fill="#3876fd"/>
<circle cx="2098.8" cy="389.0" r="13.2" fill="#3876fd"/>
<circle cx="2098.8" cy="405.0" r="13.2" fill="#4759f8"/>
<circle cx="2098.8" cy="420.9" r="13.2" fill="#4759f8"/>
<circle cx="2098.8" cy="436.9" r="13.2" fill="#4759f8"/>
<circle cx="2098.8" cy="452.9" r="13.2" fill="#4759f8"/>
<circle cx="2098.8" cy="468.9" r="13.2" fill="#4759f8"/>
<circle cx="2098.8" cy="484.9" r="13.2" fill="#4744e7"/>
<circle cx="2098.8" cy="500.9" r="13.2" fill="#4744e7"/>
<circle cx="2098.8" cy="516.9" r="13.2" fill="#4744e7"/>
<circle cx="2098.8" cy="532.8" r="13.2" fill="#4744e7"/>
<circle cx="2098.8" cy="548.8" r="13.2" fill="#4744e7"/>
<circle cx="2098.8" cy="564.8" r="13.2" fill="#4744e7"/>
<circle cx="2098.8" cy="580.8" r="13.2" fill="#4437d4"/>
<path d="M1810.7,126.1 C1822.2,125.1 1828.2,126.4 1836.9,127.3 C1845.6,128.2 1854.1,129.7 1862.7,131.6 C1871.3,133.5 1880.5,135.6 1888.6,138.5 C1896.6,141.4 1903.8,144.8 1911.0,148.8 C1918.2,152.8 1925.4,158.0 1931.7,162.6 C1938.0,167.2 1943.2,171.8 1948.9,176.4 C1954.7,181.0 1960.5,185.6 1966.2,190.2 C1972.0,194.8 1977.7,200.8 1983.4,204.0 C1989.2,207.2 1995.0,208.6 2000.7,209.2 C2006.5,209.8 2012.2,208.0 2017.9,207.4 C2023.6,206.8 2029.3,205.8 2035.1,205.7 C2040.8,205.6 2046.7,205.7 2052.4,206.6 C2058.2,207.5 2063.8,208.2 2069.6,210.9 C2075.3,213.6 2082.3,217.8 2086.9,223.0 C2091.5,228.2 2094.6,233.0 2097.2,241.9 C2099.8,250.8 2101.8,264.9 2102.4,276.4 C2103.0,287.9 2101.6,299.6 2100.7,310.9 C2099.8,322.2 2096.9,332.7 2097.2,344.0 C2097.5,355.3 2102.4,369.3 2102.4,378.5 C2102.4,387.7 2100.4,392.3 2097.2,399.2 C2094.0,406.1 2089.4,413.6 2083.4,419.9 C2077.4,426.2 2069.1,431.1 2061.0,437.1 C2052.9,443.1 2043.7,448.5 2035.1,456.0 C2026.5,463.5 2016.5,473.8 2009.3,481.9 C2002.1,489.9 1997.8,497.1 1992.0,504.3 C1986.2,511.5 1982.0,518.1 1974.8,525.0 C1967.6,531.9 1959.0,539.4 1948.9,545.7 C1938.8,552.0 1928.8,558.4 1914.4,563.0 C1900.0,567.6 1879.9,570.8 1862.7,573.3 C1845.5,575.8 1824.0,577.3 1811.0,578.0 C1798.0,578.7 1795.0,578.4 1784.9,577.6 C1774.8,576.8 1761.9,575.7 1750.4,573.3 C1738.9,570.9 1726.0,567.6 1715.9,563.0 C1705.8,558.4 1697.2,552.0 1690.0,545.7 C1682.8,539.4 1678.5,532.2 1672.8,525.0 C1667.1,517.8 1662.8,509.8 1655.6,502.6 C1648.4,495.4 1638.3,488.8 1629.7,481.9 C1621.1,475.0 1612.4,468.9 1603.8,461.2 C1595.2,453.4 1585.2,443.4 1578.0,435.4 C1570.8,427.4 1564.4,421.1 1560.7,413.0 C1557.0,404.9 1554.7,395.7 1555.6,387.1 C1556.5,378.5 1560.2,368.4 1565.9,361.2 C1571.6,354.0 1584.8,349.5 1590.0,344.0 C1595.2,338.5 1595.5,333.6 1597.0,328.1 C1598.5,322.6 1600.2,316.6 1598.7,310.9 C1597.2,305.2 1591.5,299.4 1588.3,293.7 C1585.1,287.9 1581.4,282.1 1579.7,276.4 C1578.0,270.6 1577.4,264.9 1578.0,259.2 C1578.6,253.4 1580.2,247.1 1583.1,241.9 C1586.0,236.7 1590.3,233.3 1595.2,228.1 C1600.1,222.9 1605.2,216.9 1612.4,210.9 C1619.6,204.9 1629.7,197.7 1638.3,191.9 C1646.9,186.2 1654.1,181.9 1664.2,176.4 C1674.3,170.9 1687.2,164.5 1698.7,159.2 C1710.2,153.9 1721.6,148.8 1733.1,144.5 C1744.6,140.2 1754.7,136.4 1767.6,133.3 C1780.5,130.2 1799.2,127.1 1810.7,126.1Z" fill="none" stroke="#a8238c" stroke-width="6.3"/>
<defs><linearGradient id="pg2" x1="0" x2="1" y1="0" y2="0"><stop offset="0.0" stop-color="#3e26a8"/><stop offset="0.04" stop-color="#4230c6"/><stop offset="0.08" stop-color="#463bdd"/><stop offset="0.12" stop-color="#4849ed"/><stop offset="0.16" stop-color="#4757f7"/><stop offset="0.2" stop-color="#4465fd"/><stop offset="0.24" stop-color="#3974fe"/><stop offset="0.3" stop-color="#2d87f6"/><stop offset="0.36" stop-color="#2597e8"/><stop offset="0.42" stop-color="#1ca8dc"/><stop offset="0.48" stop-color="#0db4cb"/><stop offset="0.54" stop-color="#1abfb0"/><stop offset="0.6" stop-color="#3ec78e"/><stop offset="0.66" stop-color="#6dcb6c"/><stop offset="0.72" stop-color="#a3c84a"/><stop offset="0.76" stop-color="#c7c234"/><stop offset="0.8" stop-color="#e8bb36"/><stop offset="0.84" stop-color="#fdbd3c"/><stop offset="0.88" stop-color="#f9cc33"/><stop offset="0.92" stop-color="#f5dc2b"/><stop offset="0.96" stop-color="#f4ec22"/><stop offset="1.0" stop-color="#f9fb15"/></linearGradient></defs><rect x="1520.8" y="613.3" width="587.9999999999999" height="35.50000000000002" fill="url(#pg2)" stroke="#231f20" stroke-width="5.6"/>
<text x="1525" y="84.3" font-size="49" text-anchor="start" font-weight="normal" fill="#231f20" textLength="213" lengthAdjust="spacingAndGlyphs" >HypoAcet</text>
<text x="1704" y="707" font-size="43" text-anchor="middle" font-weight="normal" fill="#231f20" >10</text>
<text x="1871" y="707" font-size="43" text-anchor="middle" font-weight="normal" fill="#231f20" >20</text>
<text x="2039" y="707" font-size="43" text-anchor="middle" font-weight="normal" fill="#231f20" >30</text>
<text x="1562.5" y="766" font-size="43" text-anchor="start" font-weight="normal" fill="#231f20" textLength="473.5" lengthAdjust="spacingAndGlyphs" >Traction magnitude (Pa)</text>
<rect x="2106" y="622" width="6" height="9" fill="#fff"/>
<rect x="2100" y="646" width="11.6" height="25.5" fill="#231f20"/>
<defs>
<linearGradient id="gSheet" x1="0" y1="0" x2="1" y2="0.3">
 <stop offset="0" stop-color="#a29c90"/><stop offset="0.45" stop-color="#b3ac9e"/><stop offset="0.7" stop-color="#a9a294"/><stop offset="1" stop-color="#b8b1a2"/></linearGradient>
<linearGradient id="gCurl" x1="0" y1="1" x2="0.6" y2="0">
 <stop offset="0" stop-color="#a8a192"/><stop offset="0.35" stop-color="#cfc7b6"/><stop offset="0.7" stop-color="#ddd5c4"/><stop offset="1" stop-color="#c9c1b0"/></linearGradient>
<linearGradient id="gFlap" x1="0" y1="0" x2="0.3" y2="1">
 <stop offset="0" stop-color="#dcd4c3"/><stop offset="0.5" stop-color="#d0c8b7"/><stop offset="1" stop-color="#bdb5a5"/></linearGradient>
<linearGradient id="gFlapTop" x1="0" y1="1" x2="1" y2="0">
 <stop offset="0" stop-color="#a39c8d"/><stop offset="0.6" stop-color="#c2bba9"/><stop offset="1" stop-color="#d6cebd"/></linearGradient>
<radialGradient id="gCant" cx="0.5" cy="0.62" r="0.62" fx="0.5" fy="0.62">
 <stop offset="0" stop-color="#f2f2f2"/><stop offset="0.35" stop-color="#a9a7a8"/><stop offset="0.75" stop-color="#3b3839"/><stop offset="1" stop-color="#1e1c1d"/></radialGradient>
</defs>
<path d="M318.4,2337.2 L319.7,2309.6 L323.6,2267.6 L331.5,2228.2 L344.6,2188.8 L363.0,2152.1 L386.6,2120.5 L415.5,2094.3 L447.0,2075.9 L481.2,2064.1 L494.3,2047.0 L507.4,2020.8 L523.2,1999.8 L544.2,1981.4 L575.7,1957.8 L609.8,1928.9 L633.4,1913.1 L651.8,1911.0 L778.8,1920.1 L815.5,1924.0 L810.3,2004.1 L778.8,2000.7 L693.8,1997.1 L591.4,1989.3 L536.3,2005.0 L510.0,2068.0 L431.3,2099.5 L378.8,2149.4 L339.4,2241.3 L328.9,2337.2Z" fill="#a7a195"/>
<path d="M322.3,2343.7 L363.0,2343.7 L470.7,2259.7 L486.4,2201.9 L588.8,2199.0 L620.0,2198.0 L645.0,2196.0 L673.0,2195.0 L700.0,2192.0 L716.0,2188.0 L726.0,2183.0 L726.3,2178.7 L765.6,2194.5 L818.2,2212.8 L870.7,2223.3 L910.0,2239.1 L936.3,2265.3 L966.8,2312.8 L977.4,2335.8 L979.2,2344.6 L1020.7,2344.6 L1026.9,2342.9 L1122.5,2266.8 L1108.3,2185.4 L1101.2,2150.0 L1101.7,2155.1 L1088.6,2115.7 L1067.6,2078.9 L1049.2,2060.5 L1022.9,2039.5 L988.8,2017.2 L971.7,2008.0 L970.4,2004.1 L936.3,2021.2 L904.8,2042.2 L870.7,2065.8 L857.5,2085.5 L707.0,2087.7 L675.5,2082.0 L641.3,2087.7 L601.9,2082.5 L562.6,2077.2 L552.1,2072.8 L542.9,2076.4 L510.0,2074.6 L483.8,2069.3 L457.5,2081.2 L433.9,2093.0 L410.3,2110.0 L384.0,2136.3 L367.0,2162.6 L356.4,2188.8 L345.9,2215.1 L336.8,2249.2 L330.2,2293.8Z" fill="#7a3399"/>
<path d="M332.8,2343.2 C333.0,2339.3 333.5,2328.3 334.1,2320.1 C334.8,2311.9 335.4,2304.8 336.8,2293.8 C338.1,2282.9 340.0,2267.6 342.0,2254.5 C344.0,2241.3 345.7,2226.0 348.6,2215.1 C351.4,2204.1 355.6,2197.6 359.1,2188.8 C362.6,2180.1 365.0,2171.3 369.6,2162.6 C374.2,2153.8 379.4,2145.1 386.6,2136.3 C393.9,2127.5 404.6,2117.0 412.9,2110.0 C421.2,2103.0 428.7,2098.4 436.5,2094.3 C444.4,2090.2 452.3,2087.2 460.2,2085.6 C468.0,2084.1 473.3,2085.0 483.8,2085.1 C494.3,2085.2 510.0,2085.5 523.2,2086.4 C536.3,2087.3 549.4,2088.4 562.6,2090.4 C575.7,2092.3 592.3,2094.9 601.9,2098.2 C611.6,2101.5 615.7,2105.0 620.3,2110.0 C624.9,2115.1 627.7,2121.4 629.5,2128.4 C631.3,2135.4 631.8,2144.6 631.3,2152.1 C630.9,2159.5 629.6,2167.4 626.9,2173.1 C624.2,2178.7 621.4,2182.3 615.1,2186.2 C608.7,2190.0 599.8,2194.1 588.8,2196.2 C577.9,2198.3 562.6,2198.1 549.4,2198.8 C536.3,2199.4 521.4,2199.6 510.0,2200.1 C498.7,2200.6 491.7,2200.3 481.2,2201.9 C470.7,2203.6 457.1,2206.3 447.0,2209.8 C437.0,2213.3 428.7,2217.7 420.8,2222.9 C412.9,2228.2 405.9,2233.9 399.8,2241.3 C393.6,2248.8 388.4,2258.8 384.0,2267.6 C379.6,2276.3 376.5,2285.1 373.5,2293.8 C370.5,2302.6 367.8,2311.9 366.2,2320.1 C364.5,2328.3 364.0,2339.3 363.5,2343.2 C358.4,2343.2 337.9,2343.2 332.8,2343.2Z" fill="#8470a8"/>
<path d="M367.0,2343.7 C384.2,2329.8 453.4,2274.1 470.7,2260.2 C473.4,2250.6 484.2,2212.1 486.9,2202.5 C482.0,2203.3 467.7,2204.5 457.5,2207.7 C447.4,2210.9 435.2,2216.2 426.0,2221.6 C416.8,2227.0 409.0,2233.0 402.4,2240.0 C395.8,2247.0 390.9,2255.5 386.6,2263.6 C382.4,2271.7 379.5,2279.6 376.7,2288.6 C373.8,2297.6 371.2,2308.3 369.6,2317.5 C368.0,2326.7 367.4,2339.3 367.0,2343.7Z" fill="#5c2a70"/>
<path d="M714.4,2106.5 C717.6,2101.7 718.2,2101.4 728.9,2099.9 C739.6,2098.5 759.5,2098.6 778.8,2097.8 C798.0,2097.0 830.2,2094.9 844.4,2095.2 C858.6,2095.6 854.8,2096.8 864.1,2099.9 C873.4,2103.0 889.4,2107.8 900.0,2113.7 C910.6,2119.6 919.8,2130.0 927.4,2135.6 C935.0,2141.2 940.4,2143.4 945.7,2147.5 C951.0,2151.6 955.6,2156.0 959.4,2160.3 C963.2,2164.6 965.5,2168.2 968.5,2173.1 C971.5,2178.0 974.6,2183.4 977.6,2189.5 C980.6,2195.6 983.9,2202.4 986.8,2209.6 C989.7,2216.8 992.7,2224.0 995.0,2232.4 C997.3,2240.8 999.0,2250.1 1000.5,2260.0 C1002.0,2269.9 1002.2,2278.0 1003.9,2291.5 C1005.7,2305.1 1009.8,2332.8 1011.0,2341.1 C1010.7,2341.5 1009.5,2343.0 1009.2,2343.4 C1004.5,2343.4 985.6,2343.4 980.9,2343.4 C980.3,2342.1 979.7,2340.9 977.4,2335.8 C975.0,2330.7 970.9,2320.7 966.8,2312.8 C962.6,2304.8 957.9,2296.0 952.6,2288.0 C947.3,2280.0 941.7,2272.7 934.9,2265.0 C928.1,2257.3 920.2,2248.8 911.9,2242.0 C903.7,2235.2 885.7,2224.8 885.4,2224.3 C885.1,2223.8 912.5,2239.2 910.0,2239.1 C907.6,2239.0 886.0,2228.2 870.7,2223.9 C855.3,2219.5 835.7,2217.7 818.2,2212.8 C800.6,2207.9 781.0,2200.4 765.6,2194.5 C750.3,2188.5 735.2,2183.9 726.3,2177.4 C717.3,2170.8 714.5,2163.2 711.8,2155.1 C709.1,2147.0 709.5,2136.9 710.0,2128.8 C710.4,2120.7 711.3,2111.3 714.4,2106.5Z" fill="#846aa8"/>
<rect x="641.3" y="2094.3" width="64.3" height="97.1" rx="30" ry="30" fill="#3d00cc" stroke="#6a2a9a" stroke-width="2"/>
<path d="M552.1,2074.6 L558.6,2047.0 L565.2,2023.4 L578.3,2001.1 L591.4,1988.0 L641.3,1990.6 L693.8,1997.1 L700.0,1997.5 L778.8,2000.7 L784.5,2010.7 L790.6,2050.0 L802.4,2084.2 L805.0,2091.5 L778.8,2092.6 L739.4,2093.4 L707.0,2089.6 L675.5,2083.8 L641.3,2089.6 L601.9,2084.3 L562.6,2079.1Z" fill="#2d548e"/>
<path d="M485.9,2071.2 L499.5,2044.4 L512.7,2012.9 L525.8,1995.0 L536.3,1987.2 L592.0,1987.2 L578.8,2000.3 L565.7,2026.0 L559.1,2047.0 L552.6,2073.3 L542.9,2078.5 L510.0,2076.4Z" fill="#08c2c4"/>
<path d="M532.4,1989.3 L591.4,1987.4 L582.2,1995.8 L578.3,2001.1 L528.4,1995.0Z" fill="#1fcfd0"/>
<path d="M778.8,2000.7 L810.3,2003.3 L823.4,1987.0 L831.3,1963.4 L928.4,1913.5 L933.7,1926.6 L944.2,1945.0 L957.3,1971.3 L965.2,1997.5 L968.3,2005.9 L936.3,2023.8 L904.8,2044.8 L870.7,2068.4 L860.2,2087.3 L831.3,2091.3 L805.0,2090.7 L794.5,2063.2 L785.3,2039.5 L781.4,2010.7Z" fill="#03c4c6"/>
<path d="M781.4,2010.7 L815.5,2004.9 L826.0,2008.0 L847.0,2023.8 L860.2,2087.3 L831.3,2091.3 L805.0,2090.0 L791.9,2063.2 L784.0,2039.5Z" fill="#0fc8ca"/>
<path d="M531.0,1987.2 L562.6,1968.3 L601.9,1936.8 L630.8,1914.4 L651.8,1911.0 L778.8,1918.8 L815.5,1924.5 L839.2,1945.0 L844.4,1966.0 L833.9,1987.0 L810.3,2004.1 L778.8,2000.7 L700.0,1997.5 L693.8,1997.1 L641.3,1990.6 L591.4,1987.2Z" fill="url(#gSheet)"/>
<path d="M812.9,1926.6 C828.2,1915.5 889.5,1870.9 904.8,1859.7 C907.4,1860.6 916.2,1861.7 920.5,1864.9 C924.9,1868.2 928.6,1873.5 931.0,1879.4 C933.5,1885.3 935.5,1894.2 935.5,1900.4 C935.5,1906.6 947.1,1904.6 931.0,1916.7 C915.0,1928.7 855.8,1960.9 839.2,1972.6 C822.5,1984.3 834.3,1982.4 831.3,1987.0 C828.2,1991.6 824.3,1997.3 820.8,2000.2 C817.3,2003.0 812.0,2003.7 810.3,2004.4 C812.5,2001.5 820.3,1993.4 823.4,1987.0 C826.5,1980.6 828.7,1973.0 828.7,1966.0 C828.7,1959.0 826.0,1951.6 823.4,1945.0 C820.8,1938.5 814.6,1929.7 812.9,1926.6Z" fill="url(#gCurl)"/>
<path d="M971.1,2159.4 C977.2,2154.3 996.5,2138.3 1007.9,2129.0 C1019.3,2119.7 1029.1,2111.1 1039.8,2103.4 C1050.5,2095.7 1062.5,2088.0 1071.8,2082.7 C1081.1,2077.4 1087.8,2073.9 1095.8,2071.5 C1103.8,2069.1 1111.5,2068.0 1119.7,2068.3 C1128.0,2068.6 1141.0,2072.3 1145.3,2073.1 C1142.4,2075.2 1134.1,2081.0 1127.7,2085.8 C1121.3,2090.6 1113.6,2096.2 1106.9,2101.8 C1100.2,2107.4 1093.7,2114.3 1087.8,2119.4 C1081.9,2124.5 1077.7,2128.1 1071.8,2132.2 C1065.9,2136.3 1055.8,2142.2 1052.6,2144.2 C1047.8,2143.9 1032.6,2142.2 1023.8,2142.6 C1015.0,2143.0 1007.3,2144.3 999.9,2146.6 C992.5,2148.9 983.9,2154.1 979.1,2156.2 C974.3,2158.3 972.4,2158.9 971.1,2159.4Z" fill="url(#gFlapTop)"/>
<path d="M1096.0,2134.0 L1105.5,2158.0 L1110.1,2185.4 L1117.2,2220.8 L1124.1,2263.2 L1124.1,2268.9" fill="none" stroke="#7a3399" stroke-width="3.2" stroke-linejoin="round"/>
<path d="M971.9,2157.8 C976.6,2156.0 991.2,2149.4 999.9,2146.9 C1008.5,2144.4 1015.0,2143.3 1023.8,2142.9 C1032.6,2142.5 1047.8,2144.2 1052.6,2144.5 C1055.8,2142.4 1065.9,2136.8 1071.8,2132.2 C1077.7,2127.6 1085.1,2119.5 1087.8,2117.0 C1088.9,2119.8 1091.5,2127.0 1094.2,2133.8 C1096.9,2140.6 1101.3,2149.2 1103.7,2157.8 C1106.1,2166.4 1106.4,2174.9 1108.3,2185.4 C1110.3,2195.9 1113.0,2207.8 1115.4,2220.8 C1117.8,2233.7 1121.3,2255.0 1122.5,2263.2 C1123.6,2271.5 1122.5,2269.1 1122.5,2270.3 C1106.5,2282.1 1042.9,2329.3 1026.9,2341.1 C1025.7,2331.4 1022.8,2299.8 1019.9,2282.7 C1016.9,2265.6 1014.0,2253.2 1009.2,2238.5 C1004.5,2223.7 997.7,2207.8 991.5,2194.2 C985.4,2180.7 975.4,2163.1 972.1,2157.1 C968.8,2151.0 971.9,2157.7 971.9,2157.8Z" fill="url(#gFlap)" stroke="#a9a393" stroke-width="2"/>
<path d="M971.9,2157.8 L972.1,2157.1 L991.5,2194.2 L1009.2,2238.5 L1019.9,2282.7 L1026.9,2341.1" fill="none" stroke="#aaa494" stroke-width="4"/>
<path d="M988.8,2014.6 Q984.9,2050.0 973.1,2076.3" fill="none" stroke="#1e1c1d" stroke-width="7"/>
<path d="M950.7,2068.4 L996.7,2088.9 L948.9,2113.1Z" fill="#1e1c1d"/>
<path d="M1000.8,1987.4 C1005.1,1983.4 1019.4,1970.3 1026.1,1963.6 C1032.8,1957.0 1033.0,1953.0 1040.9,1947.3 C1048.8,1941.6 1063.2,1935.2 1073.6,1929.5 C1084.0,1923.8 1093.1,1922.1 1103.3,1913.2 C1113.4,1904.3 1129.2,1882.3 1134.4,1876.1 C1139.6,1884.2 1160.4,1916.9 1165.6,1925.1 C1160.1,1930.5 1143.3,1949.0 1132.9,1957.7 C1122.5,1966.4 1113.1,1971.6 1103.3,1977.0 C1093.4,1982.4 1082.0,1987.1 1073.6,1990.4 C1065.2,1993.6 1056.3,1995.3 1052.8,1996.3 C1047.8,1995.8 1028.1,1993.8 1023.1,1993.3 C1019.4,1992.3 1004.6,1988.4 1000.8,1987.4Z" fill="url(#gCant)"/>
<path d="M1000.8,1987.4 L1026.1,1963.6 L1023.1,1993.3Z" fill="#2a2829"/>
<path d="M1032.0,1882.8 L1027.6,1901.3 L1023.9,1923.6 L1020.9,1945.8 L1021.3,1968.1 L1023.1,1987.4 L1043.9,2001.5 L1066.2,2017.1 L1088.4,2032.7 L1117.9,2053.0" fill="none" stroke="#9aa7ac" stroke-width="7" stroke-linejoin="round" opacity="0.6"/>
<path d="M1032.0,1882.8 L1027.6,1901.3 L1023.9,1923.6 L1020.9,1945.8 L1021.3,1968.1 L1023.1,1987.4 L1043.9,2001.5 L1066.2,2017.1 L1088.4,2032.7 L1117.9,2053.0" fill="none" stroke="#778a91" stroke-width="4.5" stroke-linejoin="round"/>
<circle cx="994.2" cy="1990.4" r="8.3" fill="#ec1c24"/>
<rect x="989.3" y="1833.5" width="84.3" height="9.2" fill="#fff" stroke="#1e1c1d" stroke-width="3"/>
<path d="M989.7,1843.7 L1073.6,1843.7 L1050.6,1855.3 L1012.7,1855.3Z" fill="#fff" stroke="#1e1c1d" stroke-width="3" stroke-linejoin="round"/>
<rect x="1012.0" y="1853.8" width="39.3" height="6.2" fill="#1e1c1d"/>
<rect x="1014.9" y="1859.5" width="33.4" height="5.9" fill="#1e1c1d"/>
<rect x="1013.8" y="1858.0" width="35.8" height="1.2" fill="#555"/>
<line x1="1021.6" y1="1870.1" x2="1018.7" y2="1896.1" stroke="#1e1c1d" stroke-width="3.2" stroke-dasharray="3.2 5"/>
<line x1="1039.7" y1="1870.1" x2="1044.6" y2="1896.1" stroke="#1e1c1d" stroke-width="3.2" stroke-dasharray="3.2 5"/>
<line x1="225.6" y1="1806" x2="122.2" y2="1913.6" stroke="#a0a0a0" stroke-width="3.2"/>
<line x1="174" y1="1787.5" x2="174" y2="1932.7" stroke="#1e1c1d" stroke-width="3.4"/>
<line x1="104.4" y1="1831.8" x2="243.4" y2="1893" stroke="#1e1c1d" stroke-width="3.4"/>
<text x="238.5" y="1835.5" font-size="38.5" fill="#231f20" textLength="54" lengthAdjust="spacingAndGlyphs">AP</text>
<text x="255.5" y="1910" font-size="38.5" fill="#231f20" textLength="57" lengthAdjust="spacingAndGlyphs">ML</text>
<text x="154" y="1975.2" font-size="38.5" fill="#231f20" textLength="55.5" lengthAdjust="spacingAndGlyphs">DV</text>
<rect x="31.7" y="2080.3" width="35.8" height="35.2" fill="#a48dc9" stroke="#8a40a0" stroke-width="2.6"/>
<rect x="32.4" y="2140.2" width="34.9" height="35.2" fill="#3766b4"/>
<rect x="32.4" y="2224.2" width="34.2" height="34.2" fill="#00fcfc"/>
<rect x="31.9" y="2306.8" width="35.4" height="35.6" fill="#c8c9cd"/>
<text x="81" y="2111" font-size="42" fill="#231f20" textLength="308" lengthAdjust="spacingAndGlyphs">head mesoderm</text>
<text x="81" y="2170.6" font-size="42" fill="#231f20" textLength="225" lengthAdjust="spacingAndGlyphs">neural plate</text>
<text x="117" y="2233.5" font-size="42" fill="#231f20" textLength="131" lengthAdjust="spacingAndGlyphs">treated</text>
<text x="77.7" y="2284.5" font-size="42" fill="#231f20" textLength="223" lengthAdjust="spacingAndGlyphs">neural crest</text>
<text x="76.6" y="2339.8" font-size="42" fill="#231f20" textLength="186" lengthAdjust="spacingAndGlyphs">epidermis</text>
<line x1="594.7" y1="912" x2="594.7" y2="1429" stroke="#000" stroke-width="7"/>
<line x1="591" y1="1425.7" x2="1602" y2="1425.7" stroke="#000" stroke-width="7"/>
<line x1="573.5" y1="1425.7" x2="595" y2="1425.7" stroke="#000" stroke-width="7"/>
<text x="562" y="1443.2" font-size="54" text-anchor="end" font-weight="normal" fill="#000" >0</text>
<line x1="573.5" y1="1298.2" x2="595" y2="1298.2" stroke="#000" stroke-width="7"/>
<text x="562" y="1315.65" font-size="54" text-anchor="end" font-weight="normal" fill="#000" >10</text>
<line x1="573.5" y1="1170.6" x2="595" y2="1170.6" stroke="#000" stroke-width="7"/>
<text x="562" y="1188.1000000000001" font-size="54" text-anchor="end" font-weight="normal" fill="#000" >20</text>
<line x1="573.5" y1="1043.0" x2="595" y2="1043.0" stroke="#000" stroke-width="7"/>
<text x="562" y="1060.55" font-size="54" text-anchor="end" font-weight="normal" fill="#000" >30</text>
<line x1="573.5" y1="915.5" x2="595" y2="915.5" stroke="#000" stroke-width="7"/>
<text x="562" y="933.0" font-size="54" text-anchor="end" font-weight="normal" fill="#000" >40</text>
<line x1="780.5" y1="1425" x2="780.5" y2="1454" stroke="#000" stroke-width="7.5"/>
<line x1="1095.2" y1="1425" x2="1095.2" y2="1454" stroke="#000" stroke-width="7.5"/>
<line x1="1410" y1="1425" x2="1410" y2="1454" stroke="#000" stroke-width="7.5"/>
<line x1="780.5" y1="1295" x2="780.5" y2="1425" stroke="#000" stroke-width="3.5"/>
<line x1="749.4" y1="1295" x2="811" y2="1295" stroke="#000" stroke-width="4" stroke-linecap="round"/>
<rect x="663" y="1366.5" width="234.5" height="45.5" fill="#b3b3b3" stroke="#000" stroke-width="3.5"/>
<line x1="663" y1="1402" x2="897.5" y2="1402" stroke="#000" stroke-width="3.5"/>
<line x1="1095.2" y1="1364.6" x2="1095.2" y2="1425" stroke="#000" stroke-width="3.5"/>
<line x1="1064" y1="1364.6" x2="1127" y2="1364.6" stroke="#000" stroke-width="4" stroke-linecap="round"/>
<rect x="977.5" y="1402" width="235.0" height="13.5" fill="#b3b3b3" stroke="#000" stroke-width="3.5"/>
<line x1="977.5" y1="1408.5" x2="1212.5" y2="1408.5" stroke="#000" stroke-width="3.5"/>
<line x1="1410" y1="1013" x2="1410" y2="1425" stroke="#000" stroke-width="3.5"/>
<line x1="1378.5" y1="1013" x2="1442" y2="1013" stroke="#000" stroke-width="4" stroke-linecap="round"/>
<rect x="1294" y="1246.5" width="232.5" height="119.5" fill="#b3b3b3" stroke="#000" stroke-width="3.5"/>
<line x1="1294" y1="1311" x2="1526.5" y2="1311" stroke="#000" stroke-width="3.5"/>
<text x="1357.6 1394 1430.4 1466.8" y="998.8" font-size="78" font-weight="bold" text-anchor="middle" fill="#000">****</text>
<text x="1037 1073.4 1109.8 1146.2" y="1335.7" font-size="78" font-weight="bold" text-anchor="middle" fill="#000">****</text>
<text transform="translate(471,1444) rotate(-90)" font-size="58" fill="#231f20">Surface traction (Pa)</text>
<text transform="translate(843.9,1479.4) rotate(-45)" font-size="58" text-anchor="end" fill="#000">Control</text>
<text transform="translate(1193.2,1468.5) rotate(-45)" font-size="59.2" text-anchor="end" fill="#000">HyperAcet</text>
<text transform="translate(1491.0,1469.2) rotate(-45)" font-size="59.2" text-anchor="end" fill="#000">HypoAcet</text>
<line x1="1428" y1="1788" x2="1428" y2="2377" stroke="#000" stroke-width="7"/>
<line x1="1417" y1="2373.5" x2="2120" y2="2373.5" stroke="#000" stroke-width="7"/>
<line x1="1417" y1="2373.5" x2="1428" y2="2373.5" stroke="#000" stroke-width="7"/>
<text x="1403.5" y="2393.0" font-size="52.5" text-anchor="end" font-weight="normal" fill="#000" >0</text>
<line x1="1417" y1="2257.0" x2="1428" y2="2257.0" stroke="#000" stroke-width="7"/>
<text x="1403.5" y="2276.5" font-size="52.5" text-anchor="end" font-weight="normal" fill="#000" >50</text>
<line x1="1417" y1="2140.5" x2="1428" y2="2140.5" stroke="#000" stroke-width="7"/>
<text x="1403.5" y="2160.0" font-size="52.5" text-anchor="end" font-weight="normal" fill="#000" >100</text>
<line x1="1417" y1="2024.0" x2="1428" y2="2024.0" stroke="#000" stroke-width="7"/>
<text x="1403.5" y="2043.5" font-size="52.5" text-anchor="end" font-weight="normal" fill="#000" >150</text>
<line x1="1417" y1="1907.5" x2="1428" y2="1907.5" stroke="#000" stroke-width="7"/>
<text x="1403.5" y="1927.0" font-size="52.5" text-anchor="end" font-weight="normal" fill="#000" >200</text>
<line x1="1417" y1="1791.0" x2="1428" y2="1791.0" stroke="#000" stroke-width="7"/>
<text x="1403.5" y="1810.5" font-size="52.5" text-anchor="end" font-weight="normal" fill="#000" >250</text>
<line x1="1541" y1="2373" x2="1541" y2="2399" stroke="#000" stroke-width="7"/>
<line x1="1774" y1="2373" x2="1774" y2="2399" stroke="#000" stroke-width="7"/>
<line x1="2009" y1="2373" x2="2009" y2="2399" stroke="#000" stroke-width="7"/>
<text x="1541" y="2448" font-size="39" text-anchor="middle" font-weight="normal" fill="#000" >Control</text>
<text x="1776.5" y="2448" font-size="39" text-anchor="middle" font-weight="normal" fill="#000" >HyperAcet</text>
<text x="2013.7" y="2448" font-size="39" text-anchor="middle" font-weight="normal" fill="#000" >HypoAcet</text>
<line x1="1534" y1="2485" x2="2022" y2="2485" stroke="#000" stroke-width="2.5"/>
<text x="1776" y="2536" font-size="39" text-anchor="middle" font-weight="normal" fill="#000" >mesoderm</text>
<text transform="translate(1286,2369) rotate(-90)" font-size="55.4" fill="#231f20">Apparent elasticity [Pa]</text>
<line x1="1451" y1="1989.6" x2="1635.4" y2="1989.6" stroke="#f42a12" stroke-width="11.5"/>
<line x1="1682" y1="1982.5" x2="1865" y2="1982.5" stroke="#f42a12" stroke-width="11.5"/>
<line x1="1930.5" y1="2003" x2="2101.7" y2="2003" stroke="#f42a12" stroke-width="11.5"/>
<line x1="1541" y1="1871" x2="1541" y2="2107" stroke="#000" stroke-width="11.3"/>
<line x1="1473.6" y1="1871" x2="1609.4" y2="1871" stroke="#000" stroke-width="11.8" stroke-linecap="round"/>
<line x1="1473.6" y1="2107" x2="1609.4" y2="2107" stroke="#000" stroke-width="11.8" stroke-linecap="round"/>
<line x1="1774" y1="1882.6" x2="1774" y2="2084" stroke="#000" stroke-width="11.3"/>
<line x1="1707.6" y1="1882.6" x2="1841.1000000000001" y2="1882.6" stroke="#000" stroke-width="11.8" stroke-linecap="round"/>
<line x1="1707.6" y1="2084" x2="1841.1000000000001" y2="2084" stroke="#000" stroke-width="11.8" stroke-linecap="round"/>
<line x1="2009" y1="1895.8" x2="2009" y2="2111" stroke="#000" stroke-width="11.3"/>
<line x1="1941.6" y1="1895.8" x2="2076.4" y2="1895.8" stroke="#000" stroke-width="11.8" stroke-linecap="round"/>
<line x1="1941.6" y1="2111" x2="2076.4" y2="2111" stroke="#000" stroke-width="11.8" stroke-linecap="round"/>
<rect x="1500.5" y="1852.0" width="27" height="27" fill="#a875ea"/>
<rect x="1554.5" y="1852.0" width="27" height="27" fill="#a875ea"/>
<rect x="1487.8" y="2016.5" width="27" height="27" fill="#a875ea"/>
<rect x="1554.5" y="2058.5" width="27" height="27" fill="#a875ea"/>
<rect x="1527.5" y="2102.0" width="27" height="27" fill="#a875ea"/>
<rect x="1758.9" y="1876.5" width="27" height="27" fill="#a875ea"/>
<rect x="1720.1" y="1918.5" width="27" height="27" fill="#a875ea"/>
<rect x="1806.3" y="1909.1" width="27" height="27" fill="#a875ea"/>
<rect x="1742.9" y="2018.5" width="27" height="27" fill="#a875ea"/>
<rect x="1758.9" y="2123.1" width="27" height="27" fill="#a875ea"/>
<rect x="1995.2" y="1826.5" width="27" height="27" fill="#a875ea"/>
<rect x="1941.0" y="1994.5" width="27" height="27" fill="#a875ea"/>
<rect x="2049.5" y="1971.9" width="27" height="27" fill="#a875ea"/>
<rect x="1995.2" y="2033.5" width="27" height="27" fill="#a875ea"/>
<rect x="1995.2" y="2123.1" width="27" height="27" fill="#a875ea"/>
<text x="1678" y="1840" font-size="39" fill="#000"><tspan font-style="italic">p</tspan> = 0.9283</text>
<text x="1925" y="1800" font-size="39" fill="#000"><tspan font-style="italic">p</tspan> = 0.8491</text>
</svg>
</body></html>
